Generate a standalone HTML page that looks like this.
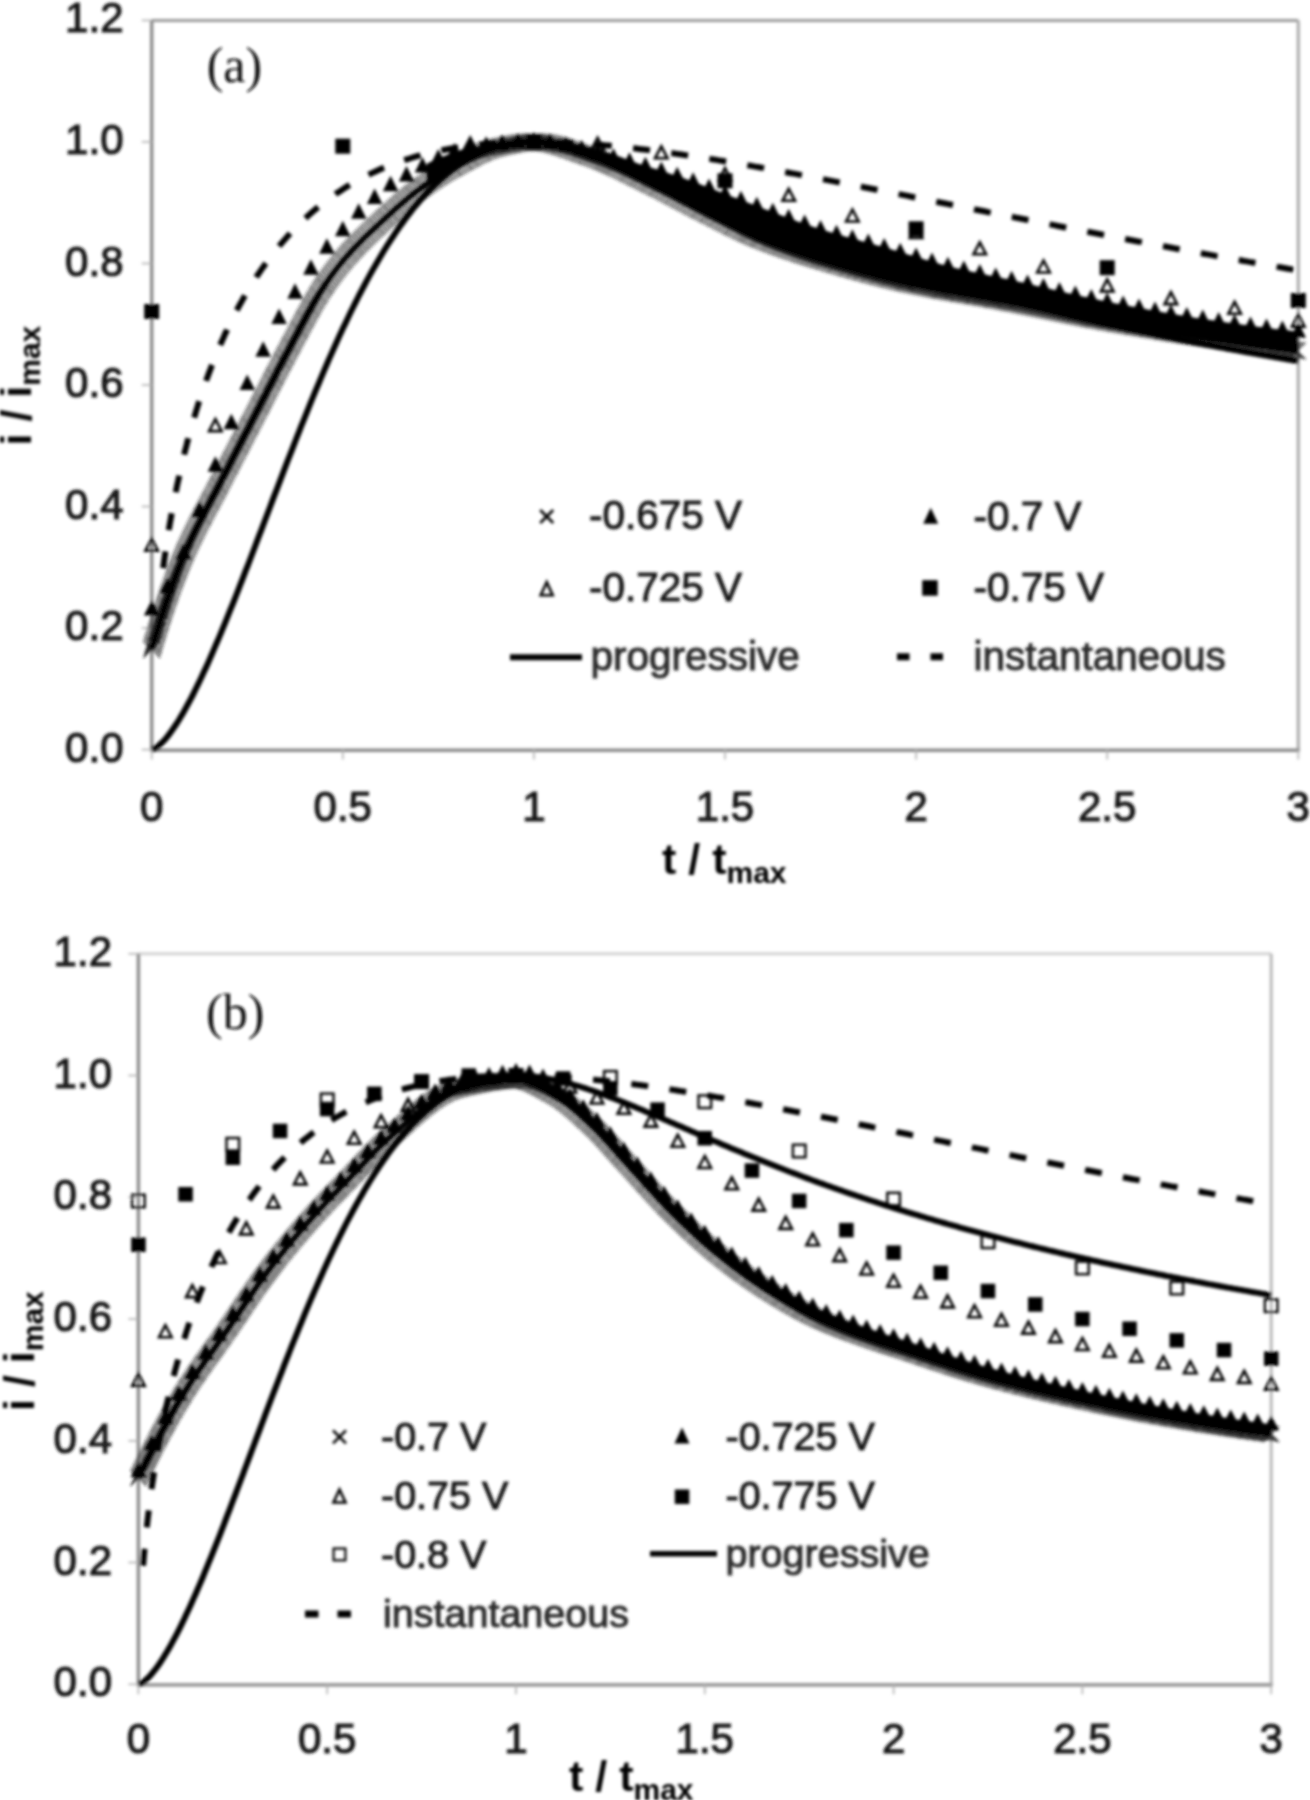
<!DOCTYPE html>
<html><head><meta charset="utf-8"><title>Chronoamperometric transients</title>
<style>
html,body{margin:0;padding:0;background:#fff;}
body{width:1310px;height:1800px;overflow:hidden;}
svg{display:block;}
.tk{font-family:"Liberation Sans",Arial,sans-serif;font-size:42px;fill:#1a1a1a;stroke:#1a1a1a;stroke-width:1.2px;}
.lg{font-family:"Liberation Sans",Arial,sans-serif;font-size:40.5px;fill:#1a1a1a;stroke:#1a1a1a;stroke-width:1.0px;}
.lg2{fill:#2a2a2a;stroke:#2a2a2a;}
.lgb{font-size:39.5px;}
.ax{font-family:"Liberation Sans",Arial,sans-serif;font-size:43px;font-weight:bold;fill:#000;}
.sub{font-size:30px;}
.pl{font-family:"Liberation Serif","Times New Roman",serif;font-size:50px;fill:#111;}
</style></head>
<body>
<svg width="1310" height="1800" viewBox="0 0 1310 1800">
<defs><filter id="bl" x="0" y="0" width="1310" height="1800" filterUnits="userSpaceOnUse"><feGaussianBlur stdDeviation="1.4"/></filter></defs>
<rect width="1310" height="1800" fill="#fff"/>
<g filter="url(#bl)">
<line x1="151.7" y1="20.4" x2="1298.3" y2="20.4" stroke="#9a9a9a" stroke-width="3"/>
<line x1="1298.3" y1="20.4" x2="1298.3" y2="749.6" stroke="#a8a8a8" stroke-width="3"/>
<line x1="151.7" y1="20.4" x2="151.7" y2="751.1" stroke="#8a8a8a" stroke-width="3.4"/>
<line x1="150.2" y1="750.2" x2="1299.8" y2="750.2" stroke="#8a8a8a" stroke-width="3.6"/>
<line x1="141.7" y1="749.6" x2="151.7" y2="749.6" stroke="#b0b0b0" stroke-width="1.6"/>
<text x="123.5" y="761.6" class="tk" text-anchor="end">0.0</text>
<line x1="141.7" y1="628.1" x2="151.7" y2="628.1" stroke="#b0b0b0" stroke-width="1.6"/>
<text x="123.5" y="640.1" class="tk" text-anchor="end">0.2</text>
<line x1="141.7" y1="506.5" x2="151.7" y2="506.5" stroke="#b0b0b0" stroke-width="1.6"/>
<text x="123.5" y="518.5" class="tk" text-anchor="end">0.4</text>
<line x1="141.7" y1="385.0" x2="151.7" y2="385.0" stroke="#b0b0b0" stroke-width="1.6"/>
<text x="123.5" y="397.0" class="tk" text-anchor="end">0.6</text>
<line x1="141.7" y1="263.5" x2="151.7" y2="263.5" stroke="#b0b0b0" stroke-width="1.6"/>
<text x="123.5" y="275.5" class="tk" text-anchor="end">0.8</text>
<line x1="141.7" y1="141.9" x2="151.7" y2="141.9" stroke="#b0b0b0" stroke-width="1.6"/>
<text x="123.5" y="153.9" class="tk" text-anchor="end">1.0</text>
<line x1="141.7" y1="20.4" x2="151.7" y2="20.4" stroke="#b0b0b0" stroke-width="1.6"/>
<text x="123.5" y="32.4" class="tk" text-anchor="end">1.2</text>
<line x1="151.7" y1="749.6" x2="151.7" y2="759.6" stroke="#b0b0b0" stroke-width="1.6"/>
<text x="151.7" y="820.6" class="tk" text-anchor="middle">0</text>
<line x1="342.8" y1="749.6" x2="342.8" y2="759.6" stroke="#b0b0b0" stroke-width="1.6"/>
<text x="342.8" y="820.6" class="tk" text-anchor="middle">0.5</text>
<line x1="533.9" y1="749.6" x2="533.9" y2="759.6" stroke="#b0b0b0" stroke-width="1.6"/>
<text x="533.9" y="820.6" class="tk" text-anchor="middle">1</text>
<line x1="725.0" y1="749.6" x2="725.0" y2="759.6" stroke="#b0b0b0" stroke-width="1.6"/>
<text x="725.0" y="820.6" class="tk" text-anchor="middle">1.5</text>
<line x1="916.1" y1="749.6" x2="916.1" y2="759.6" stroke="#b0b0b0" stroke-width="1.6"/>
<text x="916.1" y="820.6" class="tk" text-anchor="middle">2</text>
<line x1="1107.2" y1="749.6" x2="1107.2" y2="759.6" stroke="#b0b0b0" stroke-width="1.6"/>
<text x="1107.2" y="820.6" class="tk" text-anchor="middle">2.5</text>
<line x1="1298.3" y1="749.6" x2="1298.3" y2="759.6" stroke="#b0b0b0" stroke-width="1.6"/>
<text x="1298.3" y="820.6" class="tk" text-anchor="middle">3</text>
<path d="M143.2,640.8L160.2,657.8M143.2,657.8L160.2,640.8M143.9,638.4L160.9,655.4M143.9,655.4L160.9,638.4M144.6,636.0L161.6,653.0M144.6,653.0L161.6,636.0M145.3,633.6L162.3,650.6M145.3,650.6L162.3,633.6M146.0,631.2L163.0,648.2M146.0,648.2L163.0,631.2M146.7,628.8L163.7,645.8M146.7,645.8L163.7,628.8M147.4,626.4L164.4,643.4M147.4,643.4L164.4,626.4M148.1,624.0L165.1,641.0M148.1,641.0L165.1,624.0M148.9,621.7L165.9,638.7M148.9,638.7L165.9,621.7M149.6,619.3L166.6,636.3M149.6,636.3L166.6,619.3M150.3,616.9L167.3,633.9M150.3,633.9L167.3,616.9M151.1,614.5L168.1,631.5M151.1,631.5L168.1,614.5M151.8,612.1L168.8,629.1M151.8,629.1L168.8,612.1M152.6,609.7L169.6,626.7M152.6,626.7L169.6,609.7M153.3,607.3L170.3,624.3M153.3,624.3L170.3,607.3M154.1,605.0L171.1,622.0M154.1,622.0L171.1,605.0M154.9,602.6L171.9,619.6M154.9,619.6L171.9,602.6M155.6,600.2L172.6,617.2M155.6,617.2L172.6,600.2M156.4,597.8L173.4,614.8M156.4,614.8L173.4,597.8M157.2,595.5L174.2,612.5M157.2,612.5L174.2,595.5M158.0,593.1L175.0,610.1M158.0,610.1L175.0,593.1M158.8,590.7L175.8,607.7M158.8,607.7L175.8,590.7M159.6,588.4L176.6,605.4M159.6,605.4L176.6,588.4M160.5,586.0L177.5,603.0M160.5,603.0L177.5,586.0M161.3,583.6L178.3,600.6M161.3,600.6L178.3,583.6M162.1,581.3L179.1,598.3M162.1,598.3L179.1,581.3M163.0,578.9L180.0,595.9M163.0,595.9L180.0,578.9M163.8,576.6L180.8,593.6M163.8,593.6L180.8,576.6M164.7,574.2L181.7,591.2M164.7,591.2L181.7,574.2M165.5,571.9L182.5,588.9M165.5,588.9L182.5,571.9M166.4,569.5L183.4,586.5M166.4,586.5L183.4,569.5M167.3,567.2L184.3,584.2M167.3,584.2L184.3,567.2M168.2,564.9L185.2,581.9M168.2,581.9L185.2,564.9M169.1,562.5L186.1,579.5M169.1,579.5L186.1,562.5M170.0,560.2L187.0,577.2M170.0,577.2L187.0,560.2M170.9,557.9L187.9,574.9M170.9,574.9L187.9,557.9M171.8,555.5L188.8,572.5M171.8,572.5L188.8,555.5M172.8,553.2L189.8,570.2M172.8,570.2L189.8,553.2M173.7,550.9L190.7,567.9M173.7,567.9L190.7,550.9M174.7,548.6L191.7,565.6M174.7,565.6L191.7,548.6M175.6,546.3L192.6,563.3M175.6,563.3L192.6,546.3M176.6,544.0L193.6,561.0M176.6,561.0L193.6,544.0M177.6,541.7L194.6,558.7M177.6,558.7L194.6,541.7M178.6,539.4L195.6,556.4M178.6,556.4L195.6,539.4M179.7,537.2L196.7,554.2M179.7,554.2L196.7,537.2M180.7,534.9L197.7,551.9M180.7,551.9L197.7,534.9M181.8,532.6L198.8,549.6M181.8,549.6L198.8,532.6M182.8,530.3L199.8,547.3M182.8,547.3L199.8,530.3M183.9,528.1L200.9,545.1M183.9,545.1L200.9,528.1M185.0,525.8L202.0,542.8M185.0,542.8L202.0,525.8M186.1,523.6L203.1,540.6M186.1,540.6L203.1,523.6M187.2,521.3L204.2,538.3M187.2,538.3L204.2,521.3M188.3,519.1L205.3,536.1M188.3,536.1L205.3,519.1M189.4,516.9L206.4,533.9M189.4,533.9L206.4,516.9M190.5,514.6L207.5,531.6M190.5,531.6L207.5,514.6M191.7,512.4L208.7,529.4M191.7,529.4L208.7,512.4M192.8,510.2L209.8,527.2M192.8,527.2L209.8,510.2M194.0,508.0L211.0,525.0M194.0,525.0L211.0,508.0M195.1,505.8L212.1,522.8M195.1,522.8L212.1,505.8M196.3,503.6L213.3,520.6M196.3,520.6L213.3,503.6M197.5,501.3L214.5,518.3M197.5,518.3L214.5,501.3M198.6,499.1L215.6,516.1M198.6,516.1L215.6,499.1M199.8,496.9L216.8,513.9M199.8,513.9L216.8,496.9M201.0,494.7L218.0,511.7M201.0,511.7L218.0,494.7M202.2,492.5L219.2,509.5M202.2,509.5L219.2,492.5M203.3,490.3L220.3,507.3M203.3,507.3L220.3,490.3M204.5,488.1L221.5,505.1M204.5,505.1L221.5,488.1M205.7,485.9L222.7,502.9M205.7,502.9L222.7,485.9M206.8,483.7L223.8,500.7M206.8,500.7L223.8,483.7M208.0,481.5L225.0,498.5M208.0,498.5L225.0,481.5M209.2,479.2L226.2,496.2M209.2,496.2L226.2,479.2M210.3,477.0L227.3,494.0M210.3,494.0L227.3,477.0M211.4,474.8L228.4,491.8M211.4,491.8L228.4,474.8M212.6,472.6L229.6,489.6M212.6,489.6L229.6,472.6M213.7,470.3L230.7,487.3M213.7,487.3L230.7,470.3M214.9,468.1L231.9,485.1M214.9,485.1L231.9,468.1M216.0,465.9L233.0,482.9M216.0,482.9L233.0,465.9M217.1,463.7L234.1,480.7M217.1,480.7L234.1,463.7M218.3,461.4L235.3,478.4M218.3,478.4L235.3,461.4M219.4,459.2L236.4,476.2M219.4,476.2L236.4,459.2M220.6,457.0L237.6,474.0M220.6,474.0L237.6,457.0M221.7,454.8L238.7,471.8M221.7,471.8L238.7,454.8M222.8,452.5L239.8,469.5M222.8,469.5L239.8,452.5M224.0,450.3L241.0,467.3M224.0,467.3L241.0,450.3M225.1,448.1L242.1,465.1M225.1,465.1L242.1,448.1M226.3,445.9L243.3,462.9M226.3,462.9L243.3,445.9M227.4,443.7L244.4,460.7M227.4,460.7L244.4,443.7M228.6,441.4L245.6,458.4M228.6,458.4L245.6,441.4M229.7,439.2L246.7,456.2M229.7,456.2L246.7,439.2M230.9,437.0L247.9,454.0M230.9,454.0L247.9,437.0M232.0,434.8L249.0,451.8M232.0,451.8L249.0,434.8M233.2,432.5L250.2,449.5M233.2,449.5L250.2,432.5M234.3,430.3L251.3,447.3M234.3,447.3L251.3,430.3M235.5,428.1L252.5,445.1M235.5,445.1L252.5,428.1M236.6,425.9L253.6,442.9M236.6,442.9L253.6,425.9M237.7,423.7L254.7,440.7M237.7,440.7L254.7,423.7M238.9,421.4L255.9,438.4M238.9,438.4L255.9,421.4M240.0,419.2L257.0,436.2M240.0,436.2L257.0,419.2M241.2,417.0L258.2,434.0M241.2,434.0L258.2,417.0M242.3,414.8L259.3,431.8M242.3,431.8L259.3,414.8M243.5,412.6L260.5,429.6M243.5,429.6L260.5,412.6M244.6,410.3L261.6,427.3M244.6,427.3L261.6,410.3M245.8,408.1L262.8,425.1M245.8,425.1L262.8,408.1M246.9,405.9L263.9,422.9M246.9,422.9L263.9,405.9M248.0,403.7L265.0,420.7M248.0,420.7L265.0,403.7M249.2,401.4L266.2,418.4M249.2,418.4L266.2,401.4M250.3,399.2L267.3,416.2M250.3,416.2L267.3,399.2M251.5,397.0L268.5,414.0M251.5,414.0L268.5,397.0M252.6,394.8L269.6,411.8M252.6,411.8L269.6,394.8M253.7,392.5L270.7,409.5M253.7,409.5L270.7,392.5M254.9,390.3L271.9,407.3M254.9,407.3L271.9,390.3M256.0,388.1L273.0,405.1M256.0,405.1L273.0,388.1M257.1,385.8L274.1,402.8M257.1,402.8L274.1,385.8M258.3,383.6L275.3,400.6M258.3,400.6L275.3,383.6M259.4,381.4L276.4,398.4M259.4,398.4L276.4,381.4M260.5,379.2L277.5,396.2M260.5,396.2L277.5,379.2M261.7,376.9L278.7,393.9M261.7,393.9L278.7,376.9M262.8,374.7L279.8,391.7M262.8,391.7L279.8,374.7M263.9,372.5L280.9,389.5M263.9,389.5L280.9,372.5M265.1,370.2L282.1,387.2M265.1,387.2L282.1,370.2M266.2,368.0L283.2,385.0M266.2,385.0L283.2,368.0M267.3,365.8L284.3,382.8M267.3,382.8L284.3,365.8M268.5,363.6L285.5,380.6M268.5,380.6L285.5,363.6M269.6,361.3L286.6,378.3M269.6,378.3L286.6,361.3M270.8,359.1L287.8,376.1M270.8,376.1L287.8,359.1M271.9,356.9L288.9,373.9M271.9,373.9L288.9,356.9M273.1,354.7L290.1,371.7M273.1,371.7L290.1,354.7M274.2,352.5L291.2,369.5M274.2,369.5L291.2,352.5M275.4,350.3L292.4,367.3M275.4,367.3L292.4,350.3M276.6,348.0L293.6,365.0M276.6,365.0L293.6,348.0M277.7,345.8L294.7,362.8M277.7,362.8L294.7,345.8M278.9,343.6L295.9,360.6M278.9,360.6L295.9,343.6M280.1,341.4L297.1,358.4M280.1,358.4L297.1,341.4M281.2,339.2L298.2,356.2M281.2,356.2L298.2,339.2M282.4,337.0L299.4,354.0M282.4,354.0L299.4,337.0M283.6,334.8L300.6,351.8M283.6,351.8L300.6,334.8M284.7,332.6L301.7,349.6M284.7,349.6L301.7,332.6M285.9,330.4L302.9,347.4M285.9,347.4L302.9,330.4M287.1,328.2L304.1,345.2M287.1,345.2L304.1,328.2M288.2,325.9L305.2,342.9M288.2,342.9L305.2,325.9M289.4,323.7L306.4,340.7M289.4,340.7L306.4,323.7M290.6,321.5L307.6,338.5M290.6,338.5L307.6,321.5M291.7,319.3L308.7,336.3M291.7,336.3L308.7,319.3M292.9,317.1L309.9,334.1M292.9,334.1L309.9,317.1M294.1,314.9L311.1,331.9M294.1,331.9L311.1,314.9M295.2,312.7L312.2,329.7M295.2,329.7L312.2,312.7M296.4,310.5L313.4,327.5M296.4,327.5L313.4,310.5M297.6,308.3L314.6,325.3M297.6,325.3L314.6,308.3M298.8,306.1L315.8,323.1M298.8,323.1L315.8,306.1M300.0,303.9L317.0,320.9M300.0,320.9L317.0,303.9M301.2,301.7L318.2,318.7M301.2,318.7L318.2,301.7M302.4,299.5L319.4,316.5M302.4,316.5L319.4,299.5M303.6,297.3L320.6,314.3M303.6,314.3L320.6,297.3M304.8,295.1L321.8,312.1M304.8,312.1L321.8,295.1M306.0,292.9L323.0,309.9M306.0,309.9L323.0,292.9M307.3,290.8L324.3,307.8M307.3,307.8L324.3,290.8M308.6,288.6L325.6,305.6M308.6,305.6L325.6,288.6M309.9,286.5L326.9,303.5M309.9,303.5L326.9,286.5M311.2,284.3L328.2,301.3M311.2,301.3L328.2,284.3M312.5,282.2L329.5,299.2M312.5,299.2L329.5,282.2M313.8,280.1L330.8,297.1M313.8,297.1L330.8,280.1M315.2,278.0L332.2,295.0M315.2,295.0L332.2,278.0M316.6,276.0L333.6,293.0M316.6,293.0L333.6,276.0M318.0,273.9L335.0,290.9M318.0,290.9L335.0,273.9M319.4,271.8L336.4,288.8M319.4,288.8L336.4,271.8M320.9,269.8L337.9,286.8M320.9,286.8L337.9,269.8M322.3,267.8L339.3,284.8M322.3,284.8L339.3,267.8M323.8,265.8L340.8,282.8M323.8,282.8L340.8,265.8M325.3,263.8L342.3,280.8M325.3,280.8L342.3,263.8M326.8,261.8L343.8,278.8M326.8,278.8L343.8,261.8M328.4,259.8L345.4,276.8M328.4,276.8L345.4,259.8M329.9,257.8L346.9,274.8M329.9,274.8L346.9,257.8M331.5,255.9L348.5,272.9M331.5,272.9L348.5,255.9M333.1,253.9L350.1,270.9M333.1,270.9L350.1,253.9M334.7,252.0L351.7,269.0M334.7,269.0L351.7,252.0M336.3,250.1L353.3,267.1M336.3,267.1L353.3,250.1M337.9,248.2L354.9,265.2M337.9,265.2L354.9,248.2M339.6,246.4L356.6,263.4M339.6,263.4L356.6,246.4M341.3,244.5L358.3,261.5M341.3,261.5L358.3,244.5M342.9,242.7L359.9,259.7M342.9,259.7L359.9,242.7M344.6,240.8L361.6,257.8M344.6,257.8L361.6,240.8M346.4,239.0L363.4,256.0M346.4,256.0L363.4,239.0M348.1,237.2L365.1,254.2M348.1,254.2L365.1,237.2M349.8,235.4L366.8,252.4M349.8,252.4L366.8,235.4M351.6,233.6L368.6,250.6M351.6,250.6L368.6,233.6M353.4,231.9L370.4,248.9M353.4,248.9L370.4,231.9M355.1,230.1L372.1,247.1M355.1,247.1L372.1,230.1M356.9,228.4L373.9,245.4M356.9,245.4L373.9,228.4M358.7,226.6L375.7,243.6M358.7,243.6L375.7,226.6M360.5,224.9L377.5,241.9M360.5,241.9L377.5,224.9M362.3,223.2L379.3,240.2M362.3,240.2L379.3,223.2M364.1,221.4L381.1,238.4M364.1,238.4L381.1,221.4M366.0,219.7L383.0,236.7M366.0,236.7L383.0,219.7M367.8,218.0L384.8,235.0M367.8,235.0L384.8,218.0M369.6,216.3L386.6,233.3M369.6,233.3L386.6,216.3M371.5,214.6L388.5,231.6M371.5,231.6L388.5,214.6M373.3,212.9L390.3,229.9M373.3,229.9L390.3,212.9M375.1,211.2L392.1,228.2M375.1,228.2L392.1,211.2M377.0,209.5L394.0,226.5M377.0,226.5L394.0,209.5M378.8,207.8L395.8,224.8M378.8,224.8L395.8,207.8M380.6,206.2L397.6,223.2M380.6,223.2L397.6,206.2M382.5,204.5L399.5,221.5M382.5,221.5L399.5,204.5M384.3,202.8L401.3,219.8M384.3,219.8L401.3,202.8M386.2,201.1L403.2,218.1M386.2,218.1L403.2,201.1M388.1,199.4L405.1,216.4M388.1,216.4L405.1,199.4M389.9,197.8L406.9,214.8M389.9,214.8L406.9,197.8M391.8,196.1L408.8,213.1M391.8,213.1L408.8,196.1M393.7,194.5L410.7,211.5M393.7,211.5L410.7,194.5M395.6,192.9L412.6,209.9M395.6,209.9L412.6,192.9M397.5,191.3L414.5,208.3M397.5,208.3L414.5,191.3M399.4,189.7L416.4,206.7M399.4,206.7L416.4,189.7M401.4,188.1L418.4,205.1M401.4,205.1L418.4,188.1M403.3,186.5L420.3,203.5M403.3,203.5L420.3,186.5M405.3,185.0L422.3,202.0M405.3,202.0L422.3,185.0M407.3,183.4L424.3,200.4M407.3,200.4L424.3,183.4M409.3,181.9L426.3,198.9M409.3,198.9L426.3,181.9M411.3,180.4L428.3,197.4M411.3,197.4L428.3,180.4M413.3,179.0L430.3,196.0M413.3,196.0L430.3,179.0M415.3,177.5L432.3,194.5M415.3,194.5L432.3,177.5M417.4,176.1L434.4,193.1M417.4,193.1L434.4,176.1M419.4,174.7L436.4,191.7M419.4,191.7L436.4,174.7M421.5,173.3L438.5,190.3M421.5,190.3L438.5,173.3M423.6,171.9L440.6,188.9M423.6,188.9L440.6,171.9M425.7,170.5L442.7,187.5M425.7,187.5L442.7,170.5M427.8,169.2L444.8,186.2M427.8,186.2L444.8,169.2M429.9,167.8L446.9,184.8M429.9,184.8L446.9,167.8M432.0,166.5L449.0,183.5M432.0,183.5L449.0,166.5M434.2,165.2L451.2,182.2M434.2,182.2L451.2,165.2M436.3,163.9L453.3,180.9M436.3,180.9L453.3,163.9M438.5,162.7L455.5,179.7M438.5,179.7L455.5,162.7M440.6,161.4L457.6,178.4M440.6,178.4L457.6,161.4M442.8,160.2L459.8,177.2M442.8,177.2L459.8,160.2M445.0,159.0L462.0,176.0M445.0,176.0L462.0,159.0M447.2,157.8L464.2,174.8M447.2,174.8L464.2,157.8M449.4,156.6L466.4,173.6M449.4,173.6L466.4,156.6M451.6,155.4L468.6,172.4M451.6,172.4L468.6,155.4M453.8,154.2L470.8,171.2M453.8,171.2L470.8,154.2M456.0,153.0L473.0,170.0M456.0,170.0L473.0,153.0M458.2,151.8L475.2,168.8M458.2,168.8L475.2,151.8M460.4,150.6L477.4,167.6M460.4,167.6L477.4,150.6M462.6,149.5L479.6,166.5M462.6,166.5L479.6,149.5M464.8,148.3L481.8,165.3M464.8,165.3L481.8,148.3M467.0,147.2L484.0,164.2M467.0,164.2L484.0,147.2M469.3,146.1L486.3,163.1M469.3,163.1L486.3,146.1M471.6,145.1L488.6,162.1M471.6,162.1L488.6,145.1M473.8,144.0L490.8,161.0M473.8,161.0L490.8,144.0M476.1,143.1L493.1,160.1M476.1,160.1L493.1,143.1M478.5,142.2L495.5,159.2M478.5,159.2L495.5,142.2M480.8,141.3L497.8,158.3M480.8,158.3L497.8,141.3M483.2,140.6L500.2,157.6M483.2,157.6L500.2,140.6M485.6,139.9L502.6,156.9M485.6,156.9L502.6,139.9M488.1,139.3L505.1,156.3M488.1,156.3L505.1,139.3M490.5,138.7L507.5,155.7M490.5,155.7L507.5,138.7M492.9,138.2L509.9,155.2M492.9,155.2L509.9,138.2M495.4,137.6L512.4,154.6M495.4,154.6L512.4,137.6M497.8,137.1L514.8,154.1M497.8,154.1L514.8,137.1M500.2,136.5L517.2,153.5M500.2,153.5L517.2,136.5M502.7,136.0L519.7,153.0M502.7,153.0L519.7,136.0M505.1,135.6L522.1,152.6M505.1,152.6L522.1,135.6M507.6,135.1L524.6,152.1M507.6,152.1L524.6,135.1M510.1,134.7L527.1,151.7M510.1,151.7L527.1,134.7M512.5,134.4L529.5,151.4M512.5,151.4L529.5,134.4M515.0,134.1L532.0,151.1M515.0,151.1L532.0,134.1M517.5,133.8L534.5,150.8M517.5,150.8L534.5,133.8M520.0,133.6L537.0,150.6M520.0,150.6L537.0,133.6M522.5,133.5L539.5,150.5M522.5,150.5L539.5,133.5M525.0,133.4L542.0,150.4M525.0,150.4L542.0,133.4M527.5,133.5L544.5,150.5M527.5,150.5L544.5,133.5M530.0,133.6L547.0,150.6M530.0,150.6L547.0,133.6M532.5,133.8L549.5,150.8M532.5,150.8L549.5,133.8M535.0,134.1L552.0,151.1M535.0,151.1L552.0,134.1M537.4,134.5L554.4,151.5M537.4,151.5L554.4,134.5M539.9,134.9L556.9,151.9M539.9,151.9L556.9,134.9M542.3,135.4L559.3,152.4M542.3,152.4L559.3,135.4M544.8,136.0L561.8,153.0M544.8,153.0L561.8,136.0M547.2,136.6L564.2,153.6M547.2,153.6L564.2,136.6M549.6,137.3L566.6,154.3M549.6,154.3L566.6,137.3M552.0,138.0L569.0,155.0M552.0,155.0L569.0,138.0M554.4,138.7L571.4,155.7M554.4,155.7L571.4,138.7M556.8,139.5L573.8,156.5M556.8,156.5L573.8,139.5M559.2,140.3L576.2,157.3M559.2,157.3L576.2,140.3M561.5,141.1L578.5,158.1M561.5,158.1L578.5,141.1M563.9,141.9L580.9,158.9M563.9,158.9L580.9,141.9M566.2,142.8L583.2,159.8M566.2,159.8L583.2,142.8M568.6,143.6L585.6,160.6M568.6,160.6L585.6,143.6M570.9,144.5L587.9,161.5M570.9,161.5L587.9,144.5M573.3,145.3L590.3,162.3M573.3,162.3L590.3,145.3M575.6,146.2L592.6,163.2M575.6,163.2L592.6,146.2M578.0,147.0L595.0,164.0M578.0,164.0L595.0,147.0M580.4,147.8L597.4,164.8M580.4,164.8L597.4,147.8M582.7,148.6L599.7,165.6M582.7,165.6L599.7,148.6M585.1,149.4L602.1,166.4M585.1,166.4L602.1,149.4M587.4,150.3L604.4,167.3M587.4,167.3L604.4,150.3M589.8,151.2L606.8,168.2M589.8,168.2L606.8,151.2M592.1,152.1L609.1,169.1M592.1,169.1L609.1,152.1M594.4,153.0L611.4,170.0M594.4,170.0L611.4,153.0M596.7,154.0L613.7,171.0M596.7,171.0L613.7,154.0M599.0,155.0L616.0,172.0M599.0,172.0L616.0,155.0M601.3,156.0L618.3,173.0M601.3,173.0L618.3,156.0M603.6,157.0L620.6,174.0M603.6,174.0L620.6,157.0M605.9,158.0L622.9,175.0M605.9,175.0L622.9,158.0M608.1,159.1L625.1,176.1M608.1,176.1L625.1,159.1M610.4,160.1L627.4,177.1M610.4,177.1L627.4,160.1M612.7,161.2L629.7,178.2M612.7,178.2L629.7,161.2M614.9,162.3L631.9,179.3M614.9,179.3L631.9,162.3M617.2,163.4L634.2,180.4M617.2,180.4L634.2,163.4M619.4,164.5L636.4,181.5M619.4,181.5L636.4,164.5M621.6,165.6L638.6,182.6M621.6,182.6L638.6,165.6M623.9,166.7L640.9,183.7M623.9,183.7L640.9,166.7M626.1,167.9L643.1,184.9M626.1,184.9L643.1,167.9M628.4,169.0L645.4,186.0M628.4,186.0L645.4,169.0M630.6,170.1L647.6,187.1M630.6,187.1L647.6,170.1M632.8,171.2L649.8,188.2M632.8,188.2L649.8,171.2M635.1,172.3L652.1,189.3M635.1,189.3L652.1,172.3M637.3,173.4L654.3,190.4M637.3,190.4L654.3,173.4M639.6,174.5L656.6,191.5M639.6,191.5L656.6,174.5M641.8,175.6L658.8,192.6M641.8,192.6L658.8,175.6M644.0,176.7L661.0,193.7M644.0,193.7L661.0,176.7M646.3,177.8L663.3,194.8M646.3,194.8L663.3,177.8M648.5,179.0L665.5,196.0M648.5,196.0L665.5,179.0M650.7,180.1L667.7,197.1M650.7,197.1L667.7,180.1M653.0,181.2L670.0,198.2M653.0,198.2L670.0,181.2M655.2,182.4L672.2,199.4M655.2,199.4L672.2,182.4M657.4,183.6L674.4,200.6M657.4,200.6L674.4,183.6M659.6,184.7L676.6,201.7M659.6,201.7L676.6,184.7M661.8,185.9L678.8,202.9M661.8,202.9L678.8,185.9M664.0,187.1L681.0,204.1M664.0,204.1L681.0,187.1M666.2,188.2L683.2,205.2M666.2,205.2L683.2,188.2M668.4,189.4L685.4,206.4M668.4,206.4L685.4,189.4M670.7,190.6L687.7,207.6M670.7,207.6L687.7,190.6M672.9,191.7L689.9,208.7M672.9,208.7L689.9,191.7M675.1,192.9L692.1,209.9M675.1,209.9L692.1,192.9M677.3,194.1L694.3,211.1M677.3,211.1L694.3,194.1M679.5,195.2L696.5,212.2M679.5,212.2L696.5,195.2M681.7,196.4L698.7,213.4M681.7,213.4L698.7,196.4M683.9,197.6L700.9,214.6M683.9,214.6L700.9,197.6M686.2,198.7L703.2,215.7M686.2,215.7L703.2,198.7M688.4,199.8L705.4,216.8M688.4,216.8L705.4,199.8M690.6,201.0L707.6,218.0M690.6,218.0L707.6,201.0M692.8,202.1L709.8,219.1M692.8,219.1L709.8,202.1M695.1,203.2L712.1,220.2M695.1,220.2L712.1,203.2M697.3,204.3L714.3,221.3M697.3,221.3L714.3,204.3M699.5,205.5L716.5,222.5M699.5,222.5L716.5,205.5M701.8,206.6L718.8,223.6M701.8,223.6L718.8,206.6M704.0,207.7L721.0,224.7M704.0,224.7L721.0,207.7M706.2,208.9L723.2,225.9M706.2,225.9L723.2,208.9M708.4,210.0L725.4,227.0M708.4,227.0L725.4,210.0M710.7,211.2L727.7,228.2M710.7,228.2L727.7,211.2M712.9,212.3L729.9,229.3M712.9,229.3L729.9,212.3M715.1,213.4L732.1,230.4M715.1,230.4L732.1,213.4M717.3,214.6L734.3,231.6M717.3,231.6L734.3,214.6M719.6,215.7L736.6,232.7M719.6,232.7L736.6,215.7M721.8,216.8L738.8,233.8M721.8,233.8L738.8,216.8M724.0,218.0L741.0,235.0M724.0,235.0L741.0,218.0M726.3,219.1L743.3,236.1M726.3,236.1L743.3,219.1M728.5,220.2L745.5,237.2M728.5,237.2L745.5,220.2M730.8,221.3L747.8,238.3M730.8,238.3L747.8,221.3M733.0,222.3L750.0,239.3M733.0,239.3L750.0,222.3M735.3,223.4L752.3,240.4M735.3,240.4L752.3,223.4M737.5,224.5L754.5,241.5M737.5,241.5L754.5,224.5M739.8,225.5L756.8,242.5M739.8,242.5L756.8,225.5M742.1,226.5L759.1,243.5M742.1,243.5L759.1,226.5M744.4,227.6L761.4,244.6M744.4,244.6L761.4,227.6M746.7,228.6L763.7,245.6M746.7,245.6L763.7,228.6M749.0,229.5L766.0,246.5M749.0,246.5L766.0,229.5M751.3,230.5L768.3,247.5M751.3,247.5L768.3,230.5M753.6,231.4L770.6,248.4M753.6,248.4L770.6,231.4M755.9,232.3L772.9,249.3M755.9,249.3L772.9,232.3M758.3,233.3L775.3,250.3M758.3,250.3L775.3,233.3M760.6,234.1L777.6,251.1M760.6,251.1L777.6,234.1M762.9,235.0L779.9,252.0M762.9,252.0L779.9,235.0M765.3,235.9L782.3,252.9M765.3,252.9L782.3,235.9M767.6,236.8L784.6,253.8M767.6,253.8L784.6,236.8M770.0,237.6L787.0,254.6M770.0,254.6L787.0,237.6M772.3,238.5L789.3,255.5M772.3,255.5L789.3,238.5M774.7,239.3L791.7,256.3M774.7,256.3L791.7,239.3M777.0,240.2L794.0,257.2M777.0,257.2L794.0,240.2M779.4,241.0L796.4,258.0M779.4,258.0L796.4,241.0M781.8,241.8L798.8,258.8M781.8,258.8L798.8,241.8M784.1,242.6L801.1,259.6M784.1,259.6L801.1,242.6M786.5,243.4L803.5,260.4M786.5,260.4L803.5,243.4M788.9,244.2L805.9,261.2M788.9,261.2L805.9,244.2M791.2,245.0L808.2,262.0M791.2,262.0L808.2,245.0M793.6,245.8L810.6,262.8M793.6,262.8L810.6,245.8M796.0,246.5L813.0,263.5M796.0,263.5L813.0,246.5M798.4,247.3L815.4,264.3M798.4,264.3L815.4,247.3M800.7,248.0L817.7,265.0M800.7,265.0L817.7,248.0M803.1,248.8L820.1,265.8M803.1,265.8L820.1,248.8M805.5,249.5L822.5,266.5M805.5,266.5L822.5,249.5M807.9,250.3L824.9,267.3M807.9,267.3L824.9,250.3M810.3,251.0L827.3,268.0M810.3,268.0L827.3,251.0M812.7,251.7L829.7,268.7M812.7,268.7L829.7,251.7M815.1,252.5L832.1,269.5M815.1,269.5L832.1,252.5M817.5,253.2L834.5,270.2M817.5,270.2L834.5,253.2M819.9,253.9L836.9,270.9M819.9,270.9L836.9,253.9M822.3,254.6L839.3,271.6M822.3,271.6L839.3,254.6M824.7,255.3L841.7,272.3M824.7,272.3L841.7,255.3M827.1,256.0L844.1,273.0M827.1,273.0L844.1,256.0M829.5,256.7L846.5,273.7M829.5,273.7L846.5,256.7M831.9,257.4L848.9,274.4M831.9,274.4L848.9,257.4M834.3,258.1L851.3,275.1M834.3,275.1L851.3,258.1M836.7,258.8L853.7,275.8M836.7,275.8L853.7,258.8M839.1,259.5L856.1,276.5M839.1,276.5L856.1,259.5M841.5,260.2L858.5,277.2M841.5,277.2L858.5,260.2M843.9,260.8L860.9,277.8M843.9,277.8L860.9,260.8M846.3,261.5L863.3,278.5M846.3,278.5L863.3,261.5M848.7,262.2L865.7,279.2M848.7,279.2L865.7,262.2M851.1,262.8L868.1,279.8M851.1,279.8L868.1,262.8M853.5,263.5L870.5,280.5M853.5,280.5L870.5,263.5M855.9,264.2L872.9,281.2M855.9,281.2L872.9,264.2M858.4,264.8L875.4,281.8M858.4,281.8L875.4,264.8M860.8,265.5L877.8,282.5M860.8,282.5L877.8,265.5M863.2,266.1L880.2,283.1M863.2,283.1L880.2,266.1M865.6,266.8L882.6,283.8M865.6,283.8L882.6,266.8M868.0,267.4L885.0,284.4M868.0,284.4L885.0,267.4M870.4,268.0L887.4,285.0M870.4,285.0L887.4,268.0M872.9,268.6L889.9,285.6M872.9,285.6L889.9,268.6M875.3,269.3L892.3,286.3M875.3,286.3L892.3,269.3M877.7,269.9L894.7,286.9M877.7,286.9L894.7,269.9M880.1,270.5L897.1,287.5M880.1,287.5L897.1,270.5M882.6,271.1L899.6,288.1M882.6,288.1L899.6,271.1M885.0,271.7L902.0,288.7M885.0,288.7L902.0,271.7M887.4,272.3L904.4,289.3M887.4,289.3L904.4,272.3M889.8,272.8L906.8,289.8M889.8,289.8L906.8,272.8M892.3,273.4L909.3,290.4M892.3,290.4L909.3,273.4M894.7,274.0L911.7,291.0M894.7,291.0L911.7,274.0M897.2,274.5L914.2,291.5M897.2,291.5L914.2,274.5M899.6,275.1L916.6,292.1M899.6,292.1L916.6,275.1M902.0,275.6L919.0,292.6M902.0,292.6L919.0,275.6M904.5,276.2L921.5,293.2M904.5,293.2L921.5,276.2M906.9,276.7L923.9,293.7M906.9,293.7L923.9,276.7M909.4,277.2L926.4,294.2M909.4,294.2L926.4,277.2M911.8,277.7L928.8,294.7M911.8,294.7L928.8,277.7M914.3,278.2L931.3,295.2M914.3,295.2L931.3,278.2M916.7,278.7L933.7,295.7M916.7,295.7L933.7,278.7M919.2,279.2L936.2,296.2M919.2,296.2L936.2,279.2M921.6,279.7L938.6,296.7M921.6,296.7L938.6,279.7M924.1,280.1L941.1,297.1M924.1,297.1L941.1,280.1M926.5,280.6L943.5,297.6M926.5,297.6L943.5,280.6M929.0,281.1L946.0,298.1M929.0,298.1L946.0,281.1M931.4,281.5L948.4,298.5M931.4,298.5L948.4,281.5M933.9,282.0L950.9,299.0M933.9,299.0L950.9,282.0M936.4,282.4L953.4,299.4M936.4,299.4L953.4,282.4M938.8,282.8L955.8,299.8M938.8,299.8L955.8,282.8M941.3,283.3L958.3,300.3M941.3,300.3L958.3,283.3M943.8,283.7L960.8,300.7M943.8,300.7L960.8,283.7M946.2,284.1L963.2,301.1M946.2,301.1L963.2,284.1M948.7,284.6L965.7,301.6M948.7,301.6L965.7,284.6M951.1,285.0L968.1,302.0M951.1,302.0L968.1,285.0M953.6,285.4L970.6,302.4M953.6,302.4L970.6,285.4M956.1,285.8L973.1,302.8M956.1,302.8L973.1,285.8M958.5,286.2L975.5,303.2M958.5,303.2L975.5,286.2M961.0,286.7L978.0,303.7M961.0,303.7L978.0,286.7M963.5,287.1L980.5,304.1M963.5,304.1L980.5,287.1M965.9,287.5L982.9,304.5M965.9,304.5L982.9,287.5M968.4,287.9L985.4,304.9M968.4,304.9L985.4,287.9M970.9,288.4L987.9,305.4M970.9,305.4L987.9,288.4M973.3,288.8L990.3,305.8M973.3,305.8L990.3,288.8M975.8,289.2L992.8,306.2M975.8,306.2L992.8,289.2M978.2,289.6L995.2,306.6M978.2,306.6L995.2,289.6M980.7,290.1L997.7,307.1M980.7,307.1L997.7,290.1M983.2,290.5L1000.2,307.5M983.2,307.5L1000.2,290.5M985.6,291.0L1002.6,308.0M985.6,308.0L1002.6,291.0M988.1,291.4L1005.1,308.4M988.1,308.4L1005.1,291.4M990.5,291.9L1007.5,308.9M990.5,308.9L1007.5,291.9M993.0,292.4L1010.0,309.4M993.0,309.4L1010.0,292.4M995.5,292.8L1012.5,309.8M995.5,309.8L1012.5,292.8M997.9,293.3L1014.9,310.3M997.9,310.3L1014.9,293.3M1000.4,293.8L1017.4,310.8M1000.4,310.8L1017.4,293.8M1002.8,294.3L1019.8,311.3M1002.8,311.3L1019.8,294.3M1005.3,294.7L1022.3,311.7M1005.3,311.7L1022.3,294.7M1007.7,295.2L1024.7,312.2M1007.7,312.2L1024.7,295.2M1010.2,295.7L1027.2,312.7M1010.2,312.7L1027.2,295.7M1012.6,296.2L1029.6,313.2M1012.6,313.2L1029.6,296.2M1015.1,296.7L1032.1,313.7M1015.1,313.7L1032.1,296.7M1017.5,297.2L1034.5,314.2M1017.5,314.2L1034.5,297.2M1020.0,297.7L1037.0,314.7M1020.0,314.7L1037.0,297.7M1022.4,298.2L1039.4,315.2M1022.4,315.2L1039.4,298.2M1024.9,298.7L1041.9,315.7M1024.9,315.7L1041.9,298.7M1027.3,299.2L1044.3,316.2M1027.3,316.2L1044.3,299.2M1029.8,299.7L1046.8,316.7M1029.8,316.7L1046.8,299.7M1032.2,300.2L1049.2,317.2M1032.2,317.2L1049.2,300.2M1034.7,300.7L1051.7,317.7M1034.7,317.7L1051.7,300.7M1037.1,301.2L1054.1,318.2M1037.1,318.2L1054.1,301.2M1039.6,301.7L1056.6,318.7M1039.6,318.7L1056.6,301.7M1042.0,302.2L1059.0,319.2M1042.0,319.2L1059.0,302.2M1044.5,302.7L1061.5,319.7M1044.5,319.7L1061.5,302.7M1046.9,303.2L1063.9,320.2M1046.9,320.2L1063.9,303.2M1049.4,303.7L1066.4,320.7M1049.4,320.7L1066.4,303.7M1051.8,304.2L1068.8,321.2M1051.8,321.2L1068.8,304.2M1054.3,304.7L1071.3,321.7M1054.3,321.7L1071.3,304.7M1056.7,305.2L1073.7,322.2M1056.7,322.2L1073.7,305.2M1059.2,305.7L1076.2,322.7M1059.2,322.7L1076.2,305.7M1061.6,306.2L1078.6,323.2M1061.6,323.2L1078.6,306.2M1064.1,306.7L1081.1,323.7M1064.1,323.7L1081.1,306.7M1066.5,307.2L1083.5,324.2M1066.5,324.2L1083.5,307.2M1069.0,307.6L1086.0,324.6M1069.0,324.6L1086.0,307.6M1071.4,308.1L1088.4,325.1M1071.4,325.1L1088.4,308.1M1073.9,308.6L1090.9,325.6M1073.9,325.6L1090.9,308.6M1076.3,309.1L1093.3,326.1M1076.3,326.1L1093.3,309.1M1078.8,309.6L1095.8,326.6M1078.8,326.6L1095.8,309.6M1081.2,310.0L1098.2,327.0M1081.2,327.0L1098.2,310.0M1083.7,310.5L1100.7,327.5M1083.7,327.5L1100.7,310.5M1086.2,311.0L1103.2,328.0M1086.2,328.0L1103.2,311.0M1088.6,311.4L1105.6,328.4M1088.6,328.4L1105.6,311.4M1091.1,311.9L1108.1,328.9M1091.1,328.9L1108.1,311.9M1093.5,312.4L1110.5,329.4M1093.5,329.4L1110.5,312.4M1096.0,312.8L1113.0,329.8M1096.0,329.8L1113.0,312.8M1098.4,313.3L1115.4,330.3M1098.4,330.3L1115.4,313.3M1100.9,313.7L1117.9,330.7M1100.9,330.7L1117.9,313.7M1103.4,314.1L1120.4,331.1M1103.4,331.1L1120.4,314.1M1105.8,314.6L1122.8,331.6M1105.8,331.6L1122.8,314.6M1108.3,315.0L1125.3,332.0M1108.3,332.0L1125.3,315.0M1110.8,315.4L1127.8,332.4M1110.8,332.4L1127.8,315.4M1113.2,315.9L1130.2,332.9M1113.2,332.9L1130.2,315.9M1115.7,316.3L1132.7,333.3M1115.7,333.3L1132.7,316.3M1118.1,316.7L1135.1,333.7M1118.1,333.7L1135.1,316.7M1120.6,317.2L1137.6,334.2M1120.6,334.2L1137.6,317.2M1123.1,317.6L1140.1,334.6M1123.1,334.6L1140.1,317.6M1125.5,318.0L1142.5,335.0M1125.5,335.0L1142.5,318.0M1128.0,318.4L1145.0,335.4M1128.0,335.4L1145.0,318.4M1130.5,318.9L1147.5,335.9M1130.5,335.9L1147.5,318.9M1132.9,319.3L1149.9,336.3M1132.9,336.3L1149.9,319.3M1135.4,319.7L1152.4,336.7M1135.4,336.7L1152.4,319.7M1137.9,320.1L1154.9,337.1M1137.9,337.1L1154.9,320.1M1140.3,320.5L1157.3,337.5M1140.3,337.5L1157.3,320.5M1142.8,320.9L1159.8,337.9M1142.8,337.9L1159.8,320.9M1145.3,321.3L1162.3,338.3M1145.3,338.3L1162.3,321.3M1147.7,321.7L1164.7,338.7M1147.7,338.7L1164.7,321.7M1150.2,322.2L1167.2,339.2M1150.2,339.2L1167.2,322.2M1152.7,322.6L1169.7,339.6M1152.7,339.6L1169.7,322.6M1155.1,323.0L1172.1,340.0M1155.1,340.0L1172.1,323.0M1157.6,323.4L1174.6,340.4M1157.6,340.4L1174.6,323.4M1160.1,323.8L1177.1,340.8M1160.1,340.8L1177.1,323.8M1162.5,324.2L1179.5,341.2M1162.5,341.2L1179.5,324.2M1165.0,324.5L1182.0,341.5M1165.0,341.5L1182.0,324.5M1167.5,324.9L1184.5,341.9M1167.5,341.9L1184.5,324.9M1169.9,325.3L1186.9,342.3M1169.9,342.3L1186.9,325.3M1172.4,325.7L1189.4,342.7M1172.4,342.7L1189.4,325.7M1174.9,326.1L1191.9,343.1M1174.9,343.1L1191.9,326.1M1177.3,326.5L1194.3,343.5M1177.3,343.5L1194.3,326.5M1179.8,326.9L1196.8,343.9M1179.8,343.9L1196.8,326.9M1182.3,327.3L1199.3,344.3M1182.3,344.3L1199.3,327.3M1184.8,327.6L1201.8,344.6M1184.8,344.6L1201.8,327.6M1187.2,328.0L1204.2,345.0M1187.2,345.0L1204.2,328.0M1189.7,328.4L1206.7,345.4M1189.7,345.4L1206.7,328.4M1192.2,328.8L1209.2,345.8M1192.2,345.8L1209.2,328.8M1194.6,329.2L1211.6,346.2M1194.6,346.2L1211.6,329.2M1197.1,329.5L1214.1,346.5M1197.1,346.5L1214.1,329.5M1199.6,329.9L1216.6,346.9M1199.6,346.9L1216.6,329.9M1202.1,330.3L1219.1,347.3M1202.1,347.3L1219.1,330.3M1204.5,330.6L1221.5,347.6M1204.5,347.6L1221.5,330.6M1207.0,331.0L1224.0,348.0M1207.0,348.0L1224.0,331.0M1209.5,331.4L1226.5,348.4M1209.5,348.4L1226.5,331.4M1211.9,331.7L1228.9,348.7M1211.9,348.7L1228.9,331.7M1214.4,332.1L1231.4,349.1M1214.4,349.1L1231.4,332.1M1216.9,332.5L1233.9,349.5M1216.9,349.5L1233.9,332.5M1219.4,332.8L1236.4,349.8M1219.4,349.8L1236.4,332.8M1221.8,333.2L1238.8,350.2M1221.8,350.2L1238.8,333.2M1224.3,333.6L1241.3,350.6M1224.3,350.6L1241.3,333.6M1226.8,333.9L1243.8,350.9M1226.8,350.9L1243.8,333.9M1229.3,334.3L1246.3,351.3M1229.3,351.3L1246.3,334.3M1231.7,334.6L1248.7,351.6M1231.7,351.6L1248.7,334.6M1234.2,335.0L1251.2,352.0M1234.2,352.0L1251.2,335.0M1236.7,335.3L1253.7,352.3M1236.7,352.3L1253.7,335.3M1239.2,335.7L1256.2,352.7M1239.2,352.7L1256.2,335.7M1241.6,336.0L1258.6,353.0M1241.6,353.0L1258.6,336.0M1244.1,336.4L1261.1,353.4M1244.1,353.4L1261.1,336.4M1246.6,336.7L1263.6,353.7M1246.6,353.7L1263.6,336.7M1249.1,337.1L1266.1,354.1M1249.1,354.1L1266.1,337.1M1251.5,337.4L1268.5,354.4M1251.5,354.4L1268.5,337.4M1254.0,337.7L1271.0,354.7M1254.0,354.7L1271.0,337.7M1256.5,338.1L1273.5,355.1M1256.5,355.1L1273.5,338.1M1259.0,338.4L1276.0,355.4M1259.0,355.4L1276.0,338.4M1261.5,338.8L1278.5,355.8M1261.5,355.8L1278.5,338.8M1263.9,339.1L1280.9,356.1M1263.9,356.1L1280.9,339.1M1266.4,339.4L1283.4,356.4M1266.4,356.4L1283.4,339.4M1268.9,339.7L1285.9,356.7M1268.9,356.7L1285.9,339.7M1271.4,340.1L1288.4,357.1M1271.4,357.1L1288.4,340.1M1273.8,340.4L1290.8,357.4M1273.8,357.4L1290.8,340.4M1276.3,340.7L1293.3,357.7M1276.3,357.7L1293.3,340.7M1278.8,341.1L1295.8,358.1M1278.8,358.1L1295.8,341.1M1281.3,341.4L1298.3,358.4M1281.3,358.4L1298.3,341.4M1283.8,341.7L1300.8,358.7M1283.8,358.7L1300.8,341.7M1286.2,342.0L1303.2,359.0M1286.2,359.0L1303.2,342.0M1288.7,342.3L1305.7,359.3M1288.7,359.3L1305.7,342.3" stroke="#1e1e1e" stroke-width="1.2" fill="none"/>
<path d="M151.7,649.3 L155.5,636.2 L159.4,623.6 L163.2,611.5 L167.0,600.0 L170.9,589.1 L174.7,578.6 L178.5,568.5 L182.4,559.0 L186.2,550.0 L190.0,541.6 L193.9,533.5 L197.7,525.8 L201.6,518.3 L205.4,510.9 L209.2,503.7 L213.1,496.5 L216.9,489.2 L220.7,481.8 L224.6,474.3 L228.4,466.8 L232.2,459.3 L236.1,451.9 L239.9,444.5 L243.7,437.0 L247.6,429.6 L251.4,422.2 L255.2,414.7 L259.1,407.2 L262.9,399.7 L266.7,392.2 L270.6,384.6 L274.4,377.1 L278.2,369.6 L282.1,362.2 L285.9,354.9 L289.8,347.7 L293.6,340.4 L297.4,333.1 L301.3,325.8 L305.1,318.6 L308.9,311.5 L312.8,304.6 L316.6,297.9 L320.4,291.6 L324.3,285.7 L328.1,280.1 L331.9,274.8 L335.8,269.7 L339.6,264.8 L343.4,260.2 L347.3,255.8 L351.1,251.5 L354.9,247.4 L358.8,243.4 L362.6,239.6 L366.4,235.8 L370.3,232.2 L374.1,228.6 L378.0,225.0 L381.8,221.4 L385.6,217.9 L389.5,214.4 L393.3,210.9 L397.1,207.4 L401.0,204.1 L404.8,200.8 L408.6,197.6 L412.5,194.5 L416.3,191.5 L420.1,188.7 L424.0,185.9 L427.8,183.3 L431.6,180.7 L435.5,178.2 L439.3,175.8 L443.1,173.4 L447.0,171.2 L450.8,169.0 L454.6,166.9 L458.5,164.8 L462.3,162.7 L466.2,160.6 L470.0,158.5 L473.8,156.6 L477.7,154.7 L481.5,152.9 L485.3,151.3 L489.2,149.9 L493.0,148.7 L496.8,147.7 L500.7,146.8 L504.5,146.0 L508.3,145.1 L512.2,144.3 L516.0,143.6 L519.8,143.0 L523.7,142.5 L527.5,142.2 L531.3,142.0 L535.2,141.9 L539.0,142.1 L542.8,142.5 L546.7,143.1 L550.5,143.9 L554.4,144.8 L558.2,145.8 L562.0,147.0 L565.9,148.2 L569.7,149.5 L573.5,150.8 L577.4,152.2 L581.2,153.6 L585.0,155.0 L588.9,156.3 L592.7,157.6 L596.5,159.0 L600.4,160.5 L604.2,162.0 L608.0,163.7 L611.9,165.4 L615.7,167.1 L619.5,168.9 L623.4,170.8 L627.2,172.7 L631.0,174.6 L634.9,176.5 L638.7,178.4 L642.6,180.3 L646.4,182.2 L650.2,184.1 L654.1,186.0 L657.9,187.9 L661.7,189.9 L665.6,191.9 L669.4,193.9 L673.2,195.9 L677.1,198.0 L680.9,200.0 L684.7,202.0 L688.6,204.0 L692.4,206.0 L696.2,208.0 L700.1,210.0 L703.9,211.9 L707.7,213.8 L711.6,215.8 L715.4,217.7 L719.2,219.7 L723.1,221.7 L726.9,223.6 L730.8,225.6 L734.6,227.5 L738.4,229.3 L742.3,231.2 L746.1,233.0 L749.9,234.7 L753.8,236.4 L757.6,238.1 L761.4,239.7 L765.3,241.2 L769.1,242.7 L772.9,244.1 L776.8,245.5 L780.6,246.9 L784.4,248.3 L788.3,249.6 L792.1,250.9 L795.9,252.2 L799.8,253.5 L803.6,254.7 L807.4,256.0 L811.3,257.2 L815.1,258.4 L819.0,259.6 L822.8,260.7 L826.6,261.9 L830.5,263.0 L834.3,264.1 L838.1,265.3 L842.0,266.4 L845.8,267.5 L849.6,268.6 L853.5,269.6 L857.3,270.7 L861.1,271.8 L865.0,272.8 L868.8,273.9 L872.6,274.9 L876.5,275.9 L880.3,276.9 L884.1,277.9 L888.0,278.8 L891.8,279.8 L895.6,280.7 L899.5,281.6 L903.3,282.5 L907.2,283.4 L911.0,284.2 L914.8,285.1 L918.7,285.9 L922.5,286.7 L926.3,287.4 L930.2,288.2 L934.0,288.9 L937.8,289.6 L941.7,290.3 L945.5,291.0 L949.3,291.7 L953.2,292.4 L957.0,293.0 L960.8,293.7 L964.7,294.3 L968.5,295.0 L972.3,295.6 L976.2,296.3 L980.0,297.0 L983.8,297.6 L987.7,298.3 L991.5,299.0 L995.4,299.7 L999.2,300.4 L1003.0,301.1 L1006.9,301.9 L1010.7,302.6 L1014.5,303.4 L1018.4,304.1 L1022.2,304.9 L1026.0,305.7 L1029.9,306.5 L1033.7,307.2 L1037.5,308.0 L1041.4,308.8 L1045.2,309.6 L1049.0,310.4 L1052.9,311.2 L1056.7,311.9 L1060.5,312.7 L1064.4,313.5 L1068.2,314.3 L1072.0,315.1 L1075.9,315.8 L1079.7,316.6 L1083.6,317.3 L1087.4,318.1 L1091.2,318.8 L1095.1,319.6 L1098.9,320.3 L1102.7,321.0 L1106.6,321.7 L1110.4,322.4 L1114.2,323.1 L1118.1,323.7 L1121.9,324.4 L1125.7,325.1 L1129.6,325.7 L1133.4,326.4 L1137.2,327.1 L1141.1,327.7 L1144.9,328.4 L1148.7,329.0 L1152.6,329.6 L1156.4,330.3 L1160.2,330.9 L1164.1,331.5 L1167.9,332.2 L1171.8,332.8 L1175.6,333.4 L1179.4,334.0 L1183.3,334.6 L1187.1,335.2 L1190.9,335.8 L1194.8,336.4 L1198.6,337.0 L1202.4,337.6 L1206.3,338.1 L1210.1,338.7 L1213.9,339.3 L1217.8,339.9 L1221.6,340.4 L1225.4,341.0 L1229.3,341.5 L1233.1,342.1 L1236.9,342.7 L1240.8,343.2 L1244.6,343.7 L1248.4,344.3 L1252.3,344.8 L1256.1,345.4 L1260.0,345.9 L1263.8,346.4 L1267.6,346.9 L1271.5,347.5 L1275.3,348.0 L1279.1,348.5 L1283.0,349.0 L1286.8,349.5 L1290.6,350.0 L1294.5,350.5 L1298.3,351.0" fill="none" stroke="#000" stroke-width="5" stroke-linejoin="round"/>
<polygon points="426.9,163.8 429.8,162.3 432.7,160.8 435.6,159.5 438.5,158.3 441.5,157.1 444.4,155.9 447.3,154.8 450.2,153.6 453.1,152.6 456.0,151.6 458.9,150.6 461.9,149.8 464.8,149.1 467.7,148.4 470.6,147.9 473.5,147.5 476.4,147.0 479.3,146.6 482.3,146.2 485.2,145.8 488.1,145.4 491.0,145.0 493.9,144.6 496.8,144.3 499.7,144.0 502.7,143.7 505.6,143.4 508.5,143.1 511.4,142.9 514.3,142.6 517.2,142.5 520.1,142.3 523.1,142.2 526.0,142.1 528.9,142.0 531.8,141.9 534.7,141.9 537.6,142.0 540.5,142.1 543.5,142.3 546.4,142.5 549.3,142.8 552.2,143.2 555.1,143.6 558.0,144.0 560.9,144.5 563.9,145.1 566.8,145.7 569.7,146.3 572.6,146.9 575.5,147.6 578.4,148.3 581.3,149.0 584.3,149.7 587.2,150.5 590.1,151.2 593.0,152.0 595.9,152.8 598.8,153.6 601.8,154.4 604.7,155.1 607.6,155.9 610.5,156.7 613.4,157.4 616.3,158.2 619.2,158.9 622.2,159.6 625.1,160.3 628.0,161.1 630.9,161.9 633.8,162.6 636.7,163.5 639.6,164.3 642.6,165.1 645.5,166.0 648.4,166.9 651.3,167.7 654.2,168.6 657.1,169.5 660.0,170.5 663.0,171.4 665.9,172.3 668.8,173.3 671.7,174.2 674.6,175.2 677.5,176.2 680.4,177.1 683.4,178.1 686.3,179.2 689.2,180.2 692.1,181.3 695.0,182.3 697.9,183.4 700.8,184.5 703.8,185.7 706.7,186.8 709.6,187.9 712.5,189.1 715.4,190.2 718.3,191.3 721.2,192.5 724.2,193.6 727.1,194.8 730.0,195.9 732.9,197.0 735.8,198.1 738.7,199.2 741.6,200.3 744.6,201.4 747.5,202.5 750.4,203.6 753.3,204.7 756.2,205.8 759.1,206.9 762.0,208.0 765.0,209.2 767.9,210.3 770.8,211.4 773.7,212.5 776.6,213.6 779.5,214.7 782.4,215.8 785.4,216.9 788.3,218.0 791.2,219.0 794.1,220.1 797.0,221.2 799.9,222.2 802.8,223.2 805.8,224.2 808.7,225.3 811.6,226.2 814.5,227.2 817.4,228.2 820.3,229.1 823.2,230.0 826.2,231.0 829.1,231.8 832.0,232.7 834.9,233.6 837.8,234.4 840.7,235.3 843.6,236.1 846.6,236.9 849.5,237.7 852.4,238.5 855.3,239.3 858.2,240.1 861.1,240.9 864.0,241.7 867.0,242.5 869.9,243.3 872.8,244.1 875.7,244.9 878.6,245.7 881.5,246.5 884.5,247.4 887.4,248.2 890.3,249.1 893.2,249.9 896.1,250.8 899.0,251.7 901.9,252.6 904.9,253.5 907.8,254.4 910.7,255.3 913.6,256.1 916.5,257.0 919.4,257.9 922.3,258.8 925.3,259.7 928.2,260.6 931.1,261.4 934.0,262.2 936.9,263.1 939.8,263.9 942.7,264.7 945.7,265.5 948.6,266.2 951.5,266.9 954.4,267.7 957.3,268.4 960.2,269.0 963.1,269.7 966.1,270.4 969.0,271.0 971.9,271.7 974.8,272.3 977.7,272.9 980.6,273.5 983.5,274.2 986.5,274.8 989.4,275.4 992.3,276.0 995.2,276.6 998.1,277.2 1001.0,277.8 1003.9,278.5 1006.9,279.1 1009.8,279.7 1012.7,280.4 1015.6,281.0 1018.5,281.7 1021.4,282.3 1024.3,283.0 1027.3,283.7 1030.2,284.3 1033.1,285.0 1036.0,285.7 1038.9,286.4 1041.8,287.1 1044.7,287.7 1047.7,288.4 1050.6,289.1 1053.5,289.8 1056.4,290.5 1059.3,291.1 1062.2,291.8 1065.1,292.5 1068.1,293.2 1071.0,293.8 1073.9,294.5 1076.8,295.2 1079.7,295.8 1082.6,296.5 1085.5,297.1 1088.5,297.7 1091.4,298.4 1094.3,299.0 1097.2,299.6 1100.1,300.2 1103.0,300.8 1105.9,301.4 1108.9,302.0 1111.8,302.6 1114.7,303.2 1117.6,303.7 1120.5,304.3 1123.4,304.9 1126.3,305.4 1129.3,306.0 1132.2,306.6 1135.1,307.1 1138.0,307.7 1140.9,308.2 1143.8,308.8 1146.7,309.3 1149.7,309.9 1152.6,310.4 1155.5,310.9 1158.4,311.5 1161.3,312.0 1164.2,312.5 1167.2,313.0 1170.1,313.5 1173.0,314.0 1175.9,314.5 1178.8,315.0 1181.7,315.5 1184.6,316.0 1187.6,316.5 1190.5,317.0 1193.4,317.4 1196.3,317.9 1199.2,318.4 1202.1,318.8 1205.0,319.3 1208.0,319.7 1210.9,320.1 1213.8,320.6 1216.7,321.0 1219.6,321.4 1222.5,321.9 1225.4,322.3 1228.4,322.7 1231.3,323.1 1234.2,323.5 1237.1,323.9 1240.0,324.3 1242.9,324.7 1245.8,325.1 1248.8,325.5 1251.7,325.9 1254.6,326.3 1257.5,326.7 1260.4,327.0 1263.3,327.4 1266.2,327.8 1269.2,328.1 1272.1,328.5 1275.0,328.9 1277.9,329.2 1280.8,329.5 1283.7,329.9 1286.6,330.2 1289.6,330.6 1292.5,330.9 1295.4,331.2 1298.3,331.5 1298.3,351.0 1295.4,350.6 1292.5,350.2 1289.6,349.8 1286.6,349.5 1283.7,349.1 1280.8,348.7 1277.9,348.3 1275.0,347.9 1272.1,347.5 1269.2,347.1 1266.2,346.7 1263.3,346.4 1260.4,346.0 1257.5,345.5 1254.6,345.1 1251.7,344.7 1248.8,344.3 1245.8,343.9 1242.9,343.5 1240.0,343.1 1237.1,342.7 1234.2,342.3 1231.3,341.8 1228.4,341.4 1225.4,341.0 1222.5,340.6 1219.6,340.1 1216.7,339.7 1213.8,339.3 1210.9,338.8 1208.0,338.4 1205.0,337.9 1202.1,337.5 1199.2,337.1 1196.3,336.6 1193.4,336.2 1190.5,335.7 1187.6,335.3 1184.6,334.8 1181.7,334.4 1178.8,333.9 1175.9,333.4 1173.0,333.0 1170.1,332.5 1167.2,332.0 1164.2,331.6 1161.3,331.1 1158.4,330.6 1155.5,330.1 1152.6,329.6 1149.7,329.2 1146.7,328.7 1143.8,328.2 1140.9,327.7 1138.0,327.2 1135.1,326.7 1132.2,326.2 1129.3,325.7 1126.3,325.2 1123.4,324.7 1120.5,324.2 1117.6,323.7 1114.7,323.1 1111.8,322.6 1108.9,322.1 1105.9,321.6 1103.0,321.0 1100.1,320.5 1097.2,320.0 1094.3,319.4 1091.4,318.9 1088.5,318.3 1085.5,317.7 1082.6,317.2 1079.7,316.6 1076.8,316.0 1073.9,315.4 1071.0,314.8 1068.1,314.3 1065.1,313.7 1062.2,313.1 1059.3,312.5 1056.4,311.9 1053.5,311.3 1050.6,310.7 1047.7,310.1 1044.7,309.5 1041.8,308.9 1038.9,308.3 1036.0,307.7 1033.1,307.1 1030.2,306.5 1027.3,305.9 1024.3,305.3 1021.4,304.8 1018.5,304.2 1015.6,303.6 1012.7,303.0 1009.8,302.5 1006.9,301.9 1003.9,301.3 1001.0,300.8 998.1,300.2 995.2,299.7 992.3,299.1 989.4,298.6 986.5,298.1 983.5,297.6 980.6,297.1 977.7,296.6 974.8,296.1 971.9,295.6 969.0,295.1 966.1,294.6 963.1,294.1 960.2,293.6 957.3,293.1 954.4,292.6 951.5,292.1 948.6,291.6 945.7,291.0 942.7,290.5 939.8,290.0 936.9,289.5 934.0,288.9 931.1,288.4 928.2,287.8 925.3,287.2 922.3,286.6 919.4,286.0 916.5,285.4 913.6,284.8 910.7,284.2 907.8,283.5 904.9,282.9 901.9,282.2 899.0,281.5 896.1,280.8 893.2,280.1 890.3,279.4 887.4,278.7 884.5,277.9 881.5,277.2 878.6,276.4 875.7,275.7 872.8,274.9 869.9,274.1 867.0,273.4 864.0,272.6 861.1,271.8 858.2,271.0 855.3,270.2 852.4,269.3 849.5,268.5 846.6,267.7 843.6,266.9 840.7,266.0 837.8,265.2 834.9,264.3 832.0,263.5 829.1,262.6 826.2,261.7 823.2,260.9 820.3,260.0 817.4,259.1 814.5,258.2 811.6,257.3 808.7,256.4 805.8,255.4 802.8,254.5 799.9,253.5 797.0,252.6 794.1,251.6 791.2,250.6 788.3,249.6 785.4,248.6 782.4,247.6 779.5,246.5 776.6,245.5 773.7,244.4 770.8,243.3 767.9,242.2 765.0,241.1 762.0,239.9 759.1,238.7 756.2,237.5 753.3,236.2 750.4,235.0 747.5,233.6 744.6,232.3 741.6,230.9 738.7,229.5 735.8,228.1 732.9,226.6 730.0,225.2 727.1,223.7 724.2,222.2 721.2,220.7 718.3,219.2 715.4,217.7 712.5,216.3 709.6,214.8 706.7,213.3 703.8,211.8 700.8,210.3 697.9,208.9 695.0,207.4 692.1,205.9 689.2,204.4 686.3,202.8 683.4,201.3 680.4,199.8 677.5,198.2 674.6,196.7 671.7,195.1 668.8,193.6 665.9,192.0 663.0,190.5 660.0,189.0 657.1,187.5 654.2,186.0 651.3,184.6 648.4,183.2 645.5,181.7 642.6,180.3 639.6,178.9 636.7,177.4 633.8,175.9 630.9,174.5 628.0,173.1 625.1,171.6 622.2,170.2 619.2,168.8 616.3,167.4 613.4,166.1 610.5,164.8 607.6,163.5 604.7,162.2 601.8,161.0 598.8,159.9 595.9,158.8 593.0,157.7 590.1,156.7 587.2,155.7 584.3,154.7 581.3,153.7 578.4,152.6 575.5,151.6 572.6,150.5 569.7,149.5 566.8,148.5 563.9,147.5 560.9,146.6 558.0,145.8 555.1,145.0 552.2,144.3 549.3,143.6 546.4,143.1 543.5,142.6 540.5,142.3 537.6,142.0 534.7,141.9 531.8,142.0 528.9,142.1 526.0,142.3 523.1,142.6 520.1,143.0 517.2,143.4 514.3,143.9 511.4,144.5 508.5,145.1 505.6,145.7 502.7,146.4 499.7,147.1 496.8,147.7 493.9,148.5 491.0,149.3 488.1,150.3 485.2,151.4 482.3,152.6 479.3,153.9 476.4,155.3 473.5,156.7 470.6,158.2 467.7,159.8 464.8,161.4 461.9,163.0 458.9,164.6 456.0,166.2 453.1,167.7 450.2,169.3 447.3,171.0 444.4,172.7 441.5,174.4 438.5,176.2 435.6,178.1 432.7,180.0 429.8,181.9 426.9,183.9" fill="#000"/>
<polygon points="151.7,599.9 143.9,615.4 159.4,615.4" fill="#000"/>
<polygon points="167.6,577.7 159.9,593.2 175.4,593.2" fill="#000"/>
<polygon points="183.5,543.7 175.8,559.2 191.3,559.2" fill="#000"/>
<polygon points="199.5,501.5 191.7,517.0 207.2,517.0" fill="#000"/>
<polygon points="215.4,456.3 207.6,471.8 223.1,471.8" fill="#000"/>
<polygon points="231.3,413.7 223.6,429.2 239.1,429.2" fill="#000"/>
<polygon points="247.2,374.5 239.5,390.0 255.0,390.0" fill="#000"/>
<polygon points="263.2,341.3 255.4,356.8 270.9,356.8" fill="#000"/>
<polygon points="279.1,308.6 271.3,324.1 286.8,324.1" fill="#000"/>
<polygon points="295.0,283.3 287.3,298.8 302.8,298.8" fill="#000"/>
<polygon points="310.9,259.2 303.2,274.7 318.7,274.7" fill="#000"/>
<polygon points="326.9,238.2 319.1,253.7 334.6,253.7" fill="#000"/>
<polygon points="342.8,220.7 335.0,236.2 350.5,236.2" fill="#000"/>
<polygon points="358.7,203.3 351.0,218.8 366.5,218.8" fill="#000"/>
<polygon points="374.6,188.4 366.9,203.9 382.4,203.9" fill="#000"/>
<polygon points="390.6,175.8 382.8,191.3 398.3,191.3" fill="#000"/>
<polygon points="406.5,166.1 398.8,181.6 414.2,181.6" fill="#000"/>
<polygon points="422.4,156.9 414.7,172.4 430.2,172.4" fill="#000"/>
<polygon points="438.3,149.0 430.6,164.5 446.1,164.5" fill="#000"/>
<polygon points="454.3,142.9 446.5,158.4 462.0,158.4" fill="#000"/>
<polygon points="470.2,138.7 462.4,154.2 477.9,154.2" fill="#000"/>
<polygon points="486.1,136.3 478.4,151.8 493.9,151.8" fill="#000"/>
<polygon points="502.0,134.4 494.3,149.9 509.8,149.9" fill="#000"/>
<polygon points="518.0,133.1 510.2,148.6 525.7,148.6" fill="#000"/>
<polygon points="533.9,132.6 526.1,148.1 541.6,148.1" fill="#000"/>
<polygon points="549.8,133.6 542.1,149.1 557.6,149.1" fill="#000"/>
<polygon points="565.8,136.2 558.0,151.7 573.5,151.7" fill="#000"/>
<polygon points="581.7,139.8 573.9,155.3 589.4,155.3" fill="#000"/>
<polygon points="597.6,143.9 589.8,159.4 605.3,159.4" fill="#000"/>
<polygon points="613.5,148.2 605.8,163.7 621.3,163.7" fill="#000"/>
<polygon points="629.5,152.2 621.7,167.7 637.2,167.7" fill="#000"/>
<polygon points="645.4,156.7 637.6,172.2 653.1,172.2" fill="#000"/>
<polygon points="661.3,161.6 653.5,177.1 669.0,177.1" fill="#000"/>
<polygon points="677.2,166.8 669.5,182.3 685.0,182.3" fill="#000"/>
<polygon points="693.1,172.3 685.4,187.8 700.9,187.8" fill="#000"/>
<polygon points="709.1,178.4 701.3,193.9 716.8,193.9" fill="#000"/>
<polygon points="725.0,184.7 717.2,200.2 732.8,200.2" fill="#000"/>
<polygon points="740.9,190.7 733.2,206.2 748.7,206.2" fill="#000"/>
<polygon points="756.8,196.8 749.1,212.3 764.6,212.3" fill="#000"/>
<polygon points="772.8,202.8 765.0,218.3 780.5,218.3" fill="#000"/>
<polygon points="788.7,208.8 780.9,224.3 796.4,224.3" fill="#000"/>
<polygon points="804.6,214.6 796.9,230.1 812.4,230.1" fill="#000"/>
<polygon points="820.5,219.9 812.8,235.4 828.3,235.4" fill="#000"/>
<polygon points="836.5,224.7 828.7,240.2 844.2,240.2" fill="#000"/>
<polygon points="852.4,229.2 844.6,244.7 860.1,244.7" fill="#000"/>
<polygon points="868.3,233.6 860.6,249.1 876.1,249.1" fill="#000"/>
<polygon points="884.2,238.0 876.5,253.5 892.0,253.5" fill="#000"/>
<polygon points="900.2,242.7 892.4,258.2 907.9,258.2" fill="#000"/>
<polygon points="916.1,247.6 908.3,263.1 923.8,263.1" fill="#000"/>
<polygon points="932.0,252.4 924.3,267.9 939.8,267.9" fill="#000"/>
<polygon points="947.9,256.8 940.2,272.3 955.7,272.3" fill="#000"/>
<polygon points="963.9,260.6 956.1,276.1 971.6,276.1" fill="#000"/>
<polygon points="979.8,264.1 972.0,279.6 987.5,279.6" fill="#000"/>
<polygon points="995.7,267.4 988.0,282.9 1003.5,282.9" fill="#000"/>
<polygon points="1011.6,270.8 1003.9,286.3 1019.4,286.3" fill="#000"/>
<polygon points="1027.6,274.4 1019.8,289.9 1035.3,289.9" fill="#000"/>
<polygon points="1043.5,278.1 1035.7,293.6 1051.2,293.6" fill="#000"/>
<polygon points="1059.4,281.9 1051.7,297.4 1067.2,297.4" fill="#000"/>
<polygon points="1075.3,285.5 1067.6,301.0 1083.1,301.0" fill="#000"/>
<polygon points="1091.3,289.1 1083.5,304.6 1099.0,304.6" fill="#000"/>
<polygon points="1107.2,292.4 1099.5,307.9 1115.0,307.9" fill="#000"/>
<polygon points="1123.1,295.5 1115.4,311.0 1130.9,311.0" fill="#000"/>
<polygon points="1139.0,298.6 1131.3,314.1 1146.8,314.1" fill="#000"/>
<polygon points="1155.0,301.5 1147.2,317.0 1162.7,317.0" fill="#000"/>
<polygon points="1170.9,304.4 1163.1,319.9 1178.6,319.9" fill="#000"/>
<polygon points="1186.8,307.1 1179.1,322.6 1194.6,322.6" fill="#000"/>
<polygon points="1202.8,309.6 1195.0,325.1 1210.5,325.1" fill="#000"/>
<polygon points="1218.7,312.0 1210.9,327.5 1226.4,327.5" fill="#000"/>
<polygon points="1234.6,314.3 1226.8,329.8 1242.3,329.8" fill="#000"/>
<polygon points="1250.5,316.4 1242.8,331.9 1258.3,331.9" fill="#000"/>
<polygon points="1266.5,318.5 1258.7,334.0 1274.2,334.0" fill="#000"/>
<polygon points="1282.4,320.4 1274.6,335.9 1290.1,335.9" fill="#000"/>
<polygon points="1298.3,322.2 1290.5,337.7 1306.0,337.7" fill="#000"/>
<polygon points="151.7,538.8 145.4,550.8 157.9,550.8" fill="none" stroke="#000" stroke-width="2.6" stroke-linejoin="miter"/>
<polygon points="215.4,419.1 209.1,431.1 221.6,431.1" fill="none" stroke="#000" stroke-width="2.6" stroke-linejoin="miter"/>
<polygon points="470.2,137.8 463.9,149.8 476.4,149.8" fill="none" stroke="#000" stroke-width="2.6" stroke-linejoin="miter"/>
<polygon points="533.9,134.7 527.6,146.7 540.1,146.7" fill="none" stroke="#000" stroke-width="2.6" stroke-linejoin="miter"/>
<polygon points="597.6,137.8 591.4,149.8 603.9,149.8" fill="none" stroke="#000" stroke-width="2.6" stroke-linejoin="miter"/>
<polygon points="661.3,146.3 655.0,158.3 667.5,158.3" fill="none" stroke="#000" stroke-width="2.6" stroke-linejoin="miter"/>
<polygon points="725.0,168.2 718.8,180.2 731.2,180.2" fill="none" stroke="#000" stroke-width="2.6" stroke-linejoin="miter"/>
<polygon points="788.7,188.8 782.5,200.8 795.0,200.8" fill="none" stroke="#000" stroke-width="2.6" stroke-linejoin="miter"/>
<polygon points="852.4,209.5 846.1,221.5 858.6,221.5" fill="none" stroke="#000" stroke-width="2.6" stroke-linejoin="miter"/>
<polygon points="916.1,225.9 909.8,237.9 922.3,237.9" fill="none" stroke="#000" stroke-width="2.6" stroke-linejoin="miter"/>
<polygon points="979.8,242.3 973.5,254.3 986.0,254.3" fill="none" stroke="#000" stroke-width="2.6" stroke-linejoin="miter"/>
<polygon points="1043.5,260.5 1037.2,272.5 1049.8,272.5" fill="none" stroke="#000" stroke-width="2.6" stroke-linejoin="miter"/>
<polygon points="1107.2,279.4 1101.0,291.4 1113.5,291.4" fill="none" stroke="#000" stroke-width="2.6" stroke-linejoin="miter"/>
<polygon points="1170.9,292.1 1164.6,304.1 1177.1,304.1" fill="none" stroke="#000" stroke-width="2.6" stroke-linejoin="miter"/>
<polygon points="1234.6,301.8 1228.4,313.8 1240.9,313.8" fill="none" stroke="#000" stroke-width="2.6" stroke-linejoin="miter"/>
<polygon points="1298.3,314.6 1292.0,326.6 1304.5,326.6" fill="none" stroke="#000" stroke-width="2.6" stroke-linejoin="miter"/>
<rect x="144.2" y="304.0" width="15" height="15" fill="#000"/>
<rect x="335.3" y="138.7" width="15" height="15" fill="#000"/>
<rect x="526.4" y="134.4" width="15" height="15" fill="#000"/>
<rect x="717.5" y="173.3" width="15" height="15" fill="#000"/>
<rect x="908.6" y="221.3" width="15" height="15" fill="#000"/>
<rect x="1099.7" y="260.2" width="15" height="15" fill="#000"/>
<rect x="1290.8" y="293.0" width="15" height="15" fill="#000"/>
<path d="M152.1,749.6 L154.0,748.9 L155.9,747.8 L157.8,746.4 L159.7,744.8 L161.6,743.0 L163.6,741.0 L165.5,738.9 L167.4,736.6 L169.3,734.1 L171.2,731.5 L173.1,728.8 L175.0,726.0 L177.0,723.0 L178.9,720.0 L180.8,716.8 L182.7,713.6 L184.6,710.2 L186.5,706.8 L188.4,703.3 L190.4,699.6 L192.3,696.0 L194.2,692.2 L196.1,688.3 L198.0,684.4 L199.9,680.5 L201.8,676.4 L203.7,672.3 L205.7,668.1 L207.6,663.9 L209.5,659.6 L211.4,655.3 L213.3,650.9 L215.2,646.4 L217.1,642.0 L219.1,637.4 L221.0,632.9 L222.9,628.2 L224.8,623.6 L226.7,618.9 L228.6,614.2 L230.5,609.4 L232.5,604.6 L234.4,599.8 L236.3,595.0 L238.2,590.1 L240.1,585.2 L242.0,580.3 L243.9,575.4 L245.8,570.4 L247.8,565.5 L249.7,560.5 L251.6,555.5 L253.5,550.5 L255.4,545.5 L257.3,540.4 L259.2,535.4 L261.2,530.4 L263.1,525.3 L265.0,520.3 L266.9,515.3 L268.8,510.2 L270.7,505.2 L272.6,500.1 L274.5,495.1 L276.5,490.1 L278.4,485.1 L280.3,480.1 L282.2,475.1 L284.1,470.1 L286.0,465.1 L287.9,460.2 L289.9,455.2 L291.8,450.3 L293.7,445.4 L295.6,440.5 L297.5,435.6 L299.4,430.8 L301.3,425.9 L303.3,421.1 L305.2,416.4 L307.1,411.6 L309.0,406.9 L310.9,402.2 L312.8,397.5 L314.7,392.9 L316.6,388.3 L318.6,383.7 L320.5,379.1 L322.4,374.6 L324.3,370.1 L326.2,365.7 L328.1,361.3 L330.0,356.9 L332.0,352.6 L333.9,348.3 L335.8,344.0 L337.7,339.8 L339.6,335.6 L341.5,331.5 L343.4,327.3 L345.4,323.3 L347.3,319.3 L349.2,315.3 L351.1,311.3 L353.0,307.5 L354.9,303.6 L356.8,299.8 L358.7,296.0 L360.7,292.3 L362.6,288.6 L364.5,285.0 L366.4,281.4 L368.3,277.9 L370.2,274.4 L372.1,271.0 L374.1,267.6 L376.0,264.2 L377.9,260.9 L379.8,257.7 L381.7,254.5 L383.6,251.3 L385.5,248.2 L387.4,245.2 L389.4,242.2 L391.3,239.2 L393.2,236.3 L395.1,233.4 L397.0,230.6 L398.9,227.8 L400.8,225.1 L402.8,222.4 L404.7,219.8 L406.6,217.3 L408.5,214.7 L410.4,212.3 L412.3,209.8 L414.2,207.4 L416.2,205.1 L418.1,202.8 L420.0,200.6 L421.9,198.4 L423.8,196.3 L425.7,194.2 L427.6,192.1 L429.5,190.1 L431.5,188.2 L433.4,186.3 L435.3,184.4 L437.2,182.6 L439.1,180.8 L441.0,179.1 L442.9,177.4 L444.9,175.8 L446.8,174.2 L448.7,172.6 L450.6,171.1 L452.5,169.7 L454.4,168.3 L456.3,166.9 L458.3,165.6 L460.2,164.3 L462.1,163.0 L464.0,161.8 L465.9,160.6 L467.8,159.5 L469.7,158.4 L471.6,157.4 L473.6,156.4 L475.5,155.4 L477.4,154.5 L479.3,153.6 L481.2,152.7 L483.1,151.9 L485.0,151.1 L487.0,150.3 L488.9,149.6 L490.8,148.9 L492.7,148.3 L494.6,147.7 L496.5,147.1 L498.4,146.6 L500.3,146.1 L502.3,145.6 L504.2,145.1 L506.1,144.7 L508.0,144.3 L509.9,144.0 L511.8,143.7 L513.7,143.4 L515.7,143.1 L517.6,142.9 L519.5,142.7 L521.4,142.5 L523.3,142.3 L525.2,142.2 L527.1,142.1 L529.1,142.0 L531.0,142.0 L532.9,141.9 L534.8,141.9 L536.7,142.0 L538.6,142.0 L540.5,142.1 L542.4,142.2 L544.4,142.3 L546.3,142.4 L548.2,142.6 L550.1,142.8 L552.0,143.0 L553.9,143.2 L555.8,143.4 L557.8,143.7 L559.7,143.9 L561.6,144.2 L563.5,144.6 L565.4,144.9 L567.3,145.2 L569.2,145.6 L571.2,146.0 L573.1,146.4 L575.0,146.8 L576.9,147.2 L578.8,147.7 L580.7,148.1 L582.6,148.6 L584.5,149.1 L586.5,149.6 L588.4,150.1 L590.3,150.6 L592.2,151.1 L594.1,151.7 L596.0,152.2 L597.9,152.8 L599.9,153.4 L601.8,154.0 L603.7,154.6 L605.6,155.2 L607.5,155.8 L609.4,156.5 L611.3,157.1 L613.2,157.7 L615.2,158.4 L617.1,159.1 L619.0,159.7 L620.9,160.4 L622.8,161.1 L624.7,161.8 L626.6,162.5 L628.6,163.2 L630.5,163.9 L632.4,164.7 L634.3,165.4 L636.2,166.1 L638.1,166.9 L640.0,167.6 L642.0,168.4 L643.9,169.1 L645.8,169.9 L647.7,170.6 L649.6,171.4 L651.5,172.2 L653.4,173.0 L655.3,173.7 L657.3,174.5 L659.2,175.3 L661.1,176.1 L663.0,176.9 L664.9,177.7 L666.8,178.5 L668.7,179.3 L670.7,180.1 L672.6,180.9 L674.5,181.7 L676.4,182.5 L678.3,183.3 L680.2,184.1 L682.1,184.9 L684.0,185.8 L686.0,186.6 L687.9,187.4 L689.8,188.2 L691.7,189.0 L693.6,189.8 L695.5,190.7 L697.4,191.5 L699.4,192.3 L701.3,193.1 L703.2,193.9 L705.1,194.7 L707.0,195.6 L708.9,196.4 L710.8,197.2 L712.8,198.0 L714.7,198.8 L716.6,199.6 L718.5,200.5 L720.4,201.3 L722.3,202.1 L724.2,202.9 L726.1,203.7 L728.1,204.5 L730.0,205.3 L731.9,206.1 L733.8,206.9 L735.7,207.8 L737.6,208.6 L739.5,209.4 L741.5,210.2 L743.4,211.0 L745.3,211.8 L747.2,212.6 L749.1,213.3 L751.0,214.1 L752.9,214.9 L754.9,215.7 L756.8,216.5 L758.7,217.3 L760.6,218.1 L762.5,218.9 L764.4,219.6 L766.3,220.4 L768.2,221.2 L770.2,222.0 L772.1,222.7 L774.0,223.5 L775.9,224.3 L777.8,225.0 L779.7,225.8 L781.6,226.6 L783.6,227.3 L785.5,228.1 L787.4,228.8 L789.3,229.6 L791.2,230.3 L793.1,231.1 L795.0,231.8 L796.9,232.6 L798.9,233.3 L800.8,234.0 L802.7,234.8 L804.6,235.5 L806.5,236.2 L808.4,237.0 L810.3,237.7 L812.3,238.4 L814.2,239.1 L816.1,239.8 L818.0,240.6 L819.9,241.3 L821.8,242.0 L823.7,242.7 L825.7,243.4 L827.6,244.1 L829.5,244.8 L831.4,245.5 L833.3,246.2 L835.2,246.9 L837.1,247.6 L839.0,248.3 L841.0,248.9 L842.9,249.6 L844.8,250.3 L846.7,251.0 L848.6,251.7 L850.5,252.3 L852.4,253.0 L854.4,253.7 L856.3,254.3 L858.2,255.0 L860.1,255.7 L862.0,256.3 L863.9,257.0 L865.8,257.6 L867.8,258.3 L869.7,258.9 L871.6,259.6 L873.5,260.2 L875.4,260.9 L877.3,261.5 L879.2,262.1 L881.1,262.8 L883.1,263.4 L885.0,264.0 L886.9,264.7 L888.8,265.3 L890.7,265.9 L892.6,266.5 L894.5,267.2 L896.5,267.8 L898.4,268.4 L900.3,269.0 L902.2,269.6 L904.1,270.2 L906.0,270.8 L907.9,271.4 L909.8,272.0 L911.8,272.6 L913.7,273.2 L915.6,273.8 L917.5,274.4 L919.4,275.0 L921.3,275.6 L923.2,276.2 L925.2,276.8 L927.1,277.4 L929.0,277.9 L930.9,278.5 L932.8,279.1 L934.7,279.7 L936.6,280.2 L938.6,280.8 L940.5,281.4 L942.4,281.9 L944.3,282.5 L946.2,283.1 L948.1,283.6 L950.0,284.2 L951.9,284.7 L953.9,285.3 L955.8,285.8 L957.7,286.4 L959.6,286.9 L961.5,287.5 L963.4,288.0 L965.3,288.6 L967.3,289.1 L969.2,289.7 L971.1,290.2 L973.0,290.7 L974.9,291.3 L976.8,291.8 L978.7,292.3 L980.7,292.9 L982.6,293.4 L984.5,293.9 L986.4,294.4 L988.3,294.9 L990.2,295.5 L992.1,296.0 L994.0,296.5 L996.0,297.0 L997.9,297.5 L999.8,298.0 L1001.7,298.5 L1003.6,299.0 L1005.5,299.5 L1007.4,300.1 L1009.4,300.6 L1011.3,301.1 L1013.2,301.6 L1015.1,302.0 L1017.0,302.5 L1018.9,303.0 L1020.8,303.5 L1022.7,304.0 L1024.7,304.5 L1026.6,305.0 L1028.5,305.5 L1030.4,306.0 L1032.3,306.4 L1034.2,306.9 L1036.1,307.4 L1038.1,307.9 L1040.0,308.4 L1041.9,308.8 L1043.8,309.3 L1045.7,309.8 L1047.6,310.2 L1049.5,310.7 L1051.5,311.2 L1053.4,311.6 L1055.3,312.1 L1057.2,312.6 L1059.1,313.0 L1061.0,313.5 L1062.9,314.0 L1064.8,314.4 L1066.8,314.9 L1068.7,315.3 L1070.6,315.8 L1072.5,316.2 L1074.4,316.7 L1076.3,317.1 L1078.2,317.6 L1080.2,318.0 L1082.1,318.5 L1084.0,318.9 L1085.9,319.3 L1087.8,319.8 L1089.7,320.2 L1091.6,320.7 L1093.5,321.1 L1095.5,321.5 L1097.4,322.0 L1099.3,322.4 L1101.2,322.8 L1103.1,323.3 L1105.0,323.7 L1106.9,324.1 L1108.9,324.5 L1110.8,325.0 L1112.7,325.4 L1114.6,325.8 L1116.5,326.2 L1118.4,326.6 L1120.3,327.1 L1122.3,327.5 L1124.2,327.9 L1126.1,328.3 L1128.0,328.7 L1129.9,329.1 L1131.8,329.5 L1133.7,330.0 L1135.6,330.4 L1137.6,330.8 L1139.5,331.2 L1141.4,331.6 L1143.3,332.0 L1145.2,332.4 L1147.1,332.8 L1149.0,333.2 L1151.0,333.6 L1152.9,334.0 L1154.8,334.4 L1156.7,334.8 L1158.6,335.2 L1160.5,335.6 L1162.4,336.0 L1164.4,336.3 L1166.3,336.7 L1168.2,337.1 L1170.1,337.5 L1172.0,337.9 L1173.9,338.3 L1175.8,338.7 L1177.7,339.0 L1179.7,339.4 L1181.6,339.8 L1183.5,340.2 L1185.4,340.6 L1187.3,341.0 L1189.2,341.3 L1191.1,341.7 L1193.1,342.1 L1195.0,342.5 L1196.9,342.8 L1198.8,343.2 L1200.7,343.6 L1202.6,343.9 L1204.5,344.3 L1206.4,344.7 L1208.4,345.0 L1210.3,345.4 L1212.2,345.8 L1214.1,346.1 L1216.0,346.5 L1217.9,346.9 L1219.8,347.2 L1221.8,347.6 L1223.7,347.9 L1225.6,348.3 L1227.5,348.7 L1229.4,349.0 L1231.3,349.4 L1233.2,349.7 L1235.2,350.1 L1237.1,350.4 L1239.0,350.8 L1240.9,351.1 L1242.8,351.5 L1244.7,351.8 L1246.6,352.2 L1248.5,352.5 L1250.5,352.9 L1252.4,353.2 L1254.3,353.6 L1256.2,353.9 L1258.1,354.2 L1260.0,354.6 L1261.9,354.9 L1263.9,355.3 L1265.8,355.6 L1267.7,355.9 L1269.6,356.3 L1271.5,356.6 L1273.4,356.9 L1275.3,357.3 L1277.3,357.6 L1279.2,357.9 L1281.1,358.3 L1283.0,358.6 L1284.9,358.9 L1286.8,359.3 L1288.7,359.6 L1290.6,359.9 L1292.6,360.3 L1294.5,360.6 L1296.4,360.9 L1298.3,361.2" fill="none" stroke="#000" stroke-width="6" stroke-linejoin="round"/>
<path d="M163.2,568.2 L164.0,561.7 L164.9,555.5 L165.8,549.5 L166.6,543.7 L167.5,538.1 L168.4,532.7 L169.2,527.5 L170.1,522.3 L171.0,517.4 L171.8,512.5 L172.7,507.8 L173.6,503.2 L174.4,498.8 L175.3,494.4 L176.2,490.1 L177.0,485.9 L177.9,481.8 L178.8,477.8 L179.6,473.9 L180.5,470.0 L181.4,466.2 L182.2,462.5 L183.1,458.9 L184.0,455.3 L184.8,451.8 L185.7,448.4 L186.6,445.0 L187.4,441.6 L188.3,438.4 L189.2,435.1 L190.0,432.0 L190.9,428.8 L191.8,425.8 L192.6,422.7 L193.5,419.8 L194.4,416.8 L195.3,413.9 L196.1,411.1 L197.0,408.3 L197.9,405.5 L198.7,402.7 L199.6,400.1 L200.5,397.4 L201.3,394.8 L202.2,392.2 L203.1,389.6 L203.9,387.1 L204.8,384.6 L205.7,382.1 L206.5,379.7 L207.4,377.3 L208.3,374.9 L209.1,372.6 L210.0,370.3 L210.9,368.0 L211.7,365.7 L212.6,363.5 L213.5,361.3 L214.3,359.1 L215.2,357.0 L216.1,354.9 L216.9,352.7 L217.8,350.7 L218.7,348.6 L219.5,346.6 L220.4,344.6 L221.3,342.6 L222.1,340.6 L223.0,338.7 L223.9,336.7 L224.7,334.8 L225.6,332.9 L226.5,331.1 L227.3,329.2 L228.2,327.4 L229.1,325.6 L229.9,323.8 L230.8,322.0 L231.7,320.3 L232.5,318.6 L233.4,316.8 L234.3,315.1 L235.1,313.5 L236.0,311.8 L236.9,310.2 L237.7,308.5 L238.6,306.9 L239.5,305.3 L240.3,303.7 L241.2,302.2 L242.1,300.6 L242.9,299.1 L243.8,297.5 L244.7,296.0 L245.5,294.5 L246.4,293.1 L247.3,291.6 L248.1,290.1 L249.0,288.7 L249.9,287.3 L250.8,285.9 L251.6,284.5 L252.5,283.1 L253.4,281.7 L254.2,280.3 L255.1,279.0 L256.0,277.7 L256.8,276.3 L257.7,275.0 L258.6,273.7 L259.4,272.4 L260.3,271.2 L261.2,269.9 L262.0,268.7 L262.9,267.4 L263.8,266.2 L264.6,265.0 L265.5,263.8 L266.4,262.6 L268.9,259.1 L271.5,255.6 L274.1,252.3 L276.7,249.1 L279.3,245.9 L281.9,242.9 L284.5,239.9 L287.1,236.9 L289.6,234.1 L292.2,231.3 L294.8,228.6 L297.4,226.0 L300.0,223.4 L302.6,220.9 L305.2,218.5 L307.7,216.1 L310.3,213.8 L312.9,211.5 L315.5,209.3 L318.1,207.2 L320.7,205.1 L323.3,203.1 L325.8,201.1 L328.4,199.1 L331.0,197.3 L333.6,195.4 L336.2,193.6 L338.8,191.9 L341.4,190.2 L343.9,188.5 L346.5,186.9 L349.1,185.3 L351.7,183.8 L354.3,182.3 L356.9,180.8 L359.5,179.4 L362.1,178.0 L364.6,176.7 L367.2,175.4 L369.8,174.1 L372.4,172.9 L375.0,171.7 L377.6,170.5 L380.2,169.3 L382.7,168.2 L385.3,167.2 L387.9,166.1 L390.5,165.1 L393.1,164.1 L395.7,163.2 L398.3,162.2 L400.8,161.3 L403.4,160.4 L406.0,159.6 L408.6,158.8 L411.2,158.0 L413.8,157.2 L416.4,156.4 L419.0,155.7 L421.5,155.0 L424.1,154.3 L426.7,153.7 L429.3,153.0 L431.9,152.4 L434.5,151.8 L437.1,151.3 L439.6,150.7 L442.2,150.2 L444.8,149.7 L447.4,149.2 L450.0,148.7 L452.6,148.3 L455.2,147.8 L457.7,147.4 L460.3,147.0 L462.9,146.6 L465.5,146.3 L468.1,145.9 L470.7,145.6 L473.3,145.3 L475.9,145.0 L478.4,144.7 L481.0,144.4 L483.6,144.2 L486.2,144.0 L488.8,143.7 L491.4,143.5 L494.0,143.3 L496.5,143.1 L499.1,143.0 L501.7,142.8 L504.3,142.7 L506.9,142.6 L509.5,142.4 L512.1,142.3 L514.6,142.3 L517.2,142.2 L519.8,142.1 L522.4,142.1 L525.0,142.0 L527.6,142.0 L530.2,142.0 L532.8,142.0 L535.3,142.0 L537.9,142.0 L540.5,142.0 L543.1,142.0 L545.7,142.1 L548.3,142.1 L550.9,142.2 L553.4,142.2 L556.0,142.3 L558.6,142.4 L561.2,142.5 L563.8,142.6 L566.4,142.7 L569.0,142.8 L571.5,143.0 L574.1,143.1 L576.7,143.3 L579.3,143.4 L581.9,143.6 L584.5,143.8 L587.1,143.9 L589.6,144.1 L592.2,144.3 L594.8,144.5 L597.4,144.7 L600.0,144.9 L602.6,145.1 L605.2,145.4 L607.8,145.6 L610.3,145.8 L612.9,146.1 L615.5,146.3 L618.1,146.6 L620.7,146.9 L623.3,147.1 L625.9,147.4 L628.4,147.7 L631.0,148.0 L633.6,148.3 L636.2,148.6 L638.8,148.9 L641.4,149.2 L644.0,149.5 L646.5,149.8 L649.1,150.1 L651.7,150.5 L654.3,150.8 L656.9,151.1 L659.5,151.5 L662.1,151.8 L664.7,152.2 L667.2,152.5 L669.8,152.9 L672.4,153.2 L675.0,153.6 L677.6,154.0 L680.2,154.3 L682.8,154.7 L685.3,155.1 L687.9,155.5 L690.5,155.9 L693.1,156.3 L695.7,156.7 L698.3,157.1 L700.9,157.5 L703.4,157.9 L706.0,158.3 L708.6,158.7 L711.2,159.1 L713.8,159.5 L716.4,159.9 L719.0,160.4 L721.6,160.8 L724.1,161.2 L726.7,161.6 L729.3,162.1 L731.9,162.5 L734.5,163.0 L737.1,163.4 L739.7,163.8 L742.2,164.3 L744.8,164.7 L747.4,165.2 L750.0,165.6 L752.6,166.1 L755.2,166.6 L757.8,167.0 L760.3,167.5 L762.9,167.9 L765.5,168.4 L768.1,168.9 L770.7,169.3 L773.3,169.8 L775.9,170.3 L778.5,170.8 L781.0,171.2 L783.6,171.7 L786.2,172.2 L788.8,172.7 L791.4,173.2 L794.0,173.6 L796.6,174.1 L799.1,174.6 L801.7,175.1 L804.3,175.6 L806.9,176.1 L809.5,176.6 L812.1,177.1 L814.7,177.6 L817.2,178.1 L819.8,178.6 L822.4,179.1 L825.0,179.6 L827.6,180.1 L830.2,180.6 L832.8,181.1 L835.3,181.6 L837.9,182.1 L840.5,182.6 L843.1,183.1 L845.7,183.6 L848.3,184.1 L850.9,184.6 L853.5,185.1 L856.0,185.6 L858.6,186.1 L861.2,186.6 L863.8,187.2 L866.4,187.7 L869.0,188.2 L871.6,188.7 L874.1,189.2 L876.7,189.7 L879.3,190.2 L881.9,190.8 L884.5,191.3 L887.1,191.8 L889.7,192.3 L892.2,192.8 L894.8,193.3 L897.4,193.9 L900.0,194.4 L902.6,194.9 L905.2,195.4 L907.8,195.9 L910.4,196.5 L912.9,197.0 L915.5,197.5 L918.1,198.0 L920.7,198.5 L923.3,199.1 L925.9,199.6 L928.5,200.1 L931.0,200.6 L933.6,201.1 L936.2,201.7 L938.8,202.2 L941.4,202.7 L944.0,203.2 L946.6,203.7 L949.1,204.3 L951.7,204.8 L954.3,205.3 L956.9,205.8 L959.5,206.3 L962.1,206.9 L964.7,207.4 L967.3,207.9 L969.8,208.4 L972.4,208.9 L975.0,209.5 L977.6,210.0 L980.2,210.5 L982.8,211.0 L985.4,211.5 L987.9,212.1 L990.5,212.6 L993.1,213.1 L995.7,213.6 L998.3,214.1 L1000.9,214.7 L1003.5,215.2 L1006.0,215.7 L1008.6,216.2 L1011.2,216.7 L1013.8,217.2 L1016.4,217.8 L1019.0,218.3 L1021.6,218.8 L1024.2,219.3 L1026.7,219.8 L1029.3,220.3 L1031.9,220.8 L1034.5,221.4 L1037.1,221.9 L1039.7,222.4 L1042.3,222.9 L1044.8,223.4 L1047.4,223.9 L1050.0,224.4 L1052.6,224.9 L1055.2,225.4 L1057.8,226.0 L1060.4,226.5 L1062.9,227.0 L1065.5,227.5 L1068.1,228.0 L1070.7,228.5 L1073.3,229.0 L1075.9,229.5 L1078.5,230.0 L1081.0,230.5 L1083.6,231.0 L1086.2,231.5 L1088.8,232.0 L1091.4,232.5 L1094.0,233.0 L1096.6,233.5 L1099.2,234.0 L1101.7,234.5 L1104.3,235.0 L1106.9,235.5 L1109.5,236.0 L1112.1,236.5 L1114.7,237.0 L1117.3,237.5 L1119.8,238.0 L1122.4,238.5 L1125.0,239.0 L1127.6,239.5 L1130.2,240.0 L1132.8,240.5 L1135.4,241.0 L1137.9,241.5 L1140.5,241.9 L1143.1,242.4 L1145.7,242.9 L1148.3,243.4 L1150.9,243.9 L1153.5,244.4 L1156.1,244.9 L1158.6,245.4 L1161.2,245.8 L1163.8,246.3 L1166.4,246.8 L1169.0,247.3 L1171.6,247.8 L1174.2,248.3 L1176.7,248.7 L1179.3,249.2 L1181.9,249.7 L1184.5,250.2 L1187.1,250.7 L1189.7,251.1 L1192.3,251.6 L1194.8,252.1 L1197.4,252.6 L1200.0,253.0 L1202.6,253.5 L1205.2,254.0 L1207.8,254.4 L1210.4,254.9 L1213.0,255.4 L1215.5,255.9 L1218.1,256.3 L1220.7,256.8 L1223.3,257.3 L1225.9,257.7 L1228.5,258.2 L1231.1,258.7 L1233.6,259.1 L1236.2,259.6 L1238.8,260.0 L1241.4,260.5 L1244.0,261.0 L1246.6,261.4 L1249.2,261.9 L1251.7,262.3 L1254.3,262.8 L1256.9,263.3 L1259.5,263.7 L1262.1,264.2 L1264.7,264.6 L1267.3,265.1 L1269.9,265.5 L1272.4,266.0 L1275.0,266.4 L1277.6,266.9 L1280.2,267.3 L1282.8,267.8 L1285.4,268.2 L1288.0,268.7 L1290.5,269.1 L1293.1,269.6 L1295.7,270.0 L1298.3,270.5" fill="none" stroke="#000" stroke-width="6" stroke-dasharray="17 21.5"/>
<line x1="138.4" y1="953.8" x2="1271.2" y2="953.8" stroke="#d2d2d2" stroke-width="3"/>
<line x1="1271.2" y1="953.8" x2="1271.2" y2="1684.3" stroke="#b8b8b8" stroke-width="3"/>
<line x1="138.4" y1="953.8" x2="138.4" y2="1685.8" stroke="#8a8a8a" stroke-width="3.4"/>
<line x1="136.9" y1="1684.9" x2="1272.7" y2="1684.9" stroke="#9a9a9a" stroke-width="3.6"/>
<line x1="128.4" y1="1684.3" x2="138.4" y2="1684.3" stroke="#b0b0b0" stroke-width="1.6"/>
<text x="112.0" y="1696.3" class="tk" text-anchor="end">0.0</text>
<line x1="128.4" y1="1562.5" x2="138.4" y2="1562.5" stroke="#b0b0b0" stroke-width="1.6"/>
<text x="112.0" y="1574.5" class="tk" text-anchor="end">0.2</text>
<line x1="128.4" y1="1440.8" x2="138.4" y2="1440.8" stroke="#b0b0b0" stroke-width="1.6"/>
<text x="112.0" y="1452.8" class="tk" text-anchor="end">0.4</text>
<line x1="128.4" y1="1319.0" x2="138.4" y2="1319.0" stroke="#b0b0b0" stroke-width="1.6"/>
<text x="112.0" y="1331.0" class="tk" text-anchor="end">0.6</text>
<line x1="128.4" y1="1197.3" x2="138.4" y2="1197.3" stroke="#b0b0b0" stroke-width="1.6"/>
<text x="112.0" y="1209.3" class="tk" text-anchor="end">0.8</text>
<line x1="128.4" y1="1075.5" x2="138.4" y2="1075.5" stroke="#b0b0b0" stroke-width="1.6"/>
<text x="112.0" y="1087.5" class="tk" text-anchor="end">1.0</text>
<line x1="128.4" y1="953.8" x2="138.4" y2="953.8" stroke="#b0b0b0" stroke-width="1.6"/>
<text x="112.0" y="965.8" class="tk" text-anchor="end">1.2</text>
<line x1="138.4" y1="1684.3" x2="138.4" y2="1694.3" stroke="#b0b0b0" stroke-width="1.6"/>
<text x="138.4" y="1753.0" class="tk" text-anchor="middle">0</text>
<line x1="327.2" y1="1684.3" x2="327.2" y2="1694.3" stroke="#b0b0b0" stroke-width="1.6"/>
<text x="327.2" y="1753.0" class="tk" text-anchor="middle">0.5</text>
<line x1="516.0" y1="1684.3" x2="516.0" y2="1694.3" stroke="#b0b0b0" stroke-width="1.6"/>
<text x="516.0" y="1753.0" class="tk" text-anchor="middle">1</text>
<line x1="704.8" y1="1684.3" x2="704.8" y2="1694.3" stroke="#b0b0b0" stroke-width="1.6"/>
<text x="704.8" y="1753.0" class="tk" text-anchor="middle">1.5</text>
<line x1="893.6" y1="1684.3" x2="893.6" y2="1694.3" stroke="#b0b0b0" stroke-width="1.6"/>
<text x="893.6" y="1753.0" class="tk" text-anchor="middle">2</text>
<line x1="1082.4" y1="1684.3" x2="1082.4" y2="1694.3" stroke="#b0b0b0" stroke-width="1.6"/>
<text x="1082.4" y="1753.0" class="tk" text-anchor="middle">2.5</text>
<line x1="1271.2" y1="1684.3" x2="1271.2" y2="1694.3" stroke="#b0b0b0" stroke-width="1.6"/>
<text x="1271.2" y="1753.0" class="tk" text-anchor="middle">3</text>
<path d="M130.4,1469.9L146.4,1485.9M130.4,1485.9L146.4,1469.9M131.5,1467.7L147.5,1483.7M131.5,1483.7L147.5,1467.7M132.6,1465.4L148.6,1481.4M132.6,1481.4L148.6,1465.4M133.7,1463.2L149.7,1479.2M133.7,1479.2L149.7,1463.2M134.8,1460.9L150.8,1476.9M134.8,1476.9L150.8,1460.9M135.9,1458.7L151.9,1474.7M135.9,1474.7L151.9,1458.7M137.0,1456.4L153.0,1472.4M137.0,1472.4L153.0,1456.4M138.1,1454.2L154.1,1470.2M138.1,1470.2L154.1,1454.2M139.2,1452.0L155.2,1468.0M139.2,1468.0L155.2,1452.0M140.3,1449.7L156.3,1465.7M140.3,1465.7L156.3,1449.7M141.4,1447.5L157.4,1463.5M141.4,1463.5L157.4,1447.5M142.5,1445.3L158.5,1461.3M142.5,1461.3L158.5,1445.3M143.7,1443.0L159.7,1459.0M143.7,1459.0L159.7,1443.0M144.8,1440.8L160.8,1456.8M144.8,1456.8L160.8,1440.8M146.0,1438.6L162.0,1454.6M146.0,1454.6L162.0,1438.6M147.1,1436.4L163.1,1452.4M147.1,1452.4L163.1,1436.4M148.3,1434.1L164.3,1450.1M148.3,1450.1L164.3,1434.1M149.4,1431.9L165.4,1447.9M149.4,1447.9L165.4,1431.9M150.6,1429.7L166.6,1445.7M150.6,1445.7L166.6,1429.7M151.7,1427.5L167.7,1443.5M151.7,1443.5L167.7,1427.5M152.9,1425.3L168.9,1441.3M152.9,1441.3L168.9,1425.3M154.1,1423.1L170.1,1439.1M154.1,1439.1L170.1,1423.1M155.3,1420.9L171.3,1436.9M155.3,1436.9L171.3,1420.9M156.5,1418.7L172.5,1434.7M156.5,1434.7L172.5,1418.7M157.7,1416.5L173.7,1432.5M157.7,1432.5L173.7,1416.5M158.9,1414.3L174.9,1430.3M158.9,1430.3L174.9,1414.3M160.1,1412.1L176.1,1428.1M160.1,1428.1L176.1,1412.1M161.3,1409.9L177.3,1425.9M161.3,1425.9L177.3,1409.9M162.5,1407.8L178.5,1423.8M162.5,1423.8L178.5,1407.8M163.7,1405.6L179.7,1421.6M163.7,1421.6L179.7,1405.6M165.0,1403.4L181.0,1419.4M165.0,1419.4L181.0,1403.4M166.2,1401.2L182.2,1417.2M166.2,1417.2L182.2,1401.2M167.5,1399.1L183.5,1415.1M167.5,1415.1L183.5,1399.1M168.7,1396.9L184.7,1412.9M168.7,1412.9L184.7,1396.9M170.0,1394.8L186.0,1410.8M170.0,1410.8L186.0,1394.8M171.3,1392.6L187.3,1408.6M171.3,1408.6L187.3,1392.6M172.6,1390.5L188.6,1406.5M172.6,1406.5L188.6,1390.5M173.9,1388.3L189.9,1404.3M173.9,1404.3L189.9,1388.3M175.2,1386.2L191.2,1402.2M175.2,1402.2L191.2,1386.2M176.5,1384.1L192.5,1400.1M176.5,1400.1L192.5,1384.1M177.8,1381.9L193.8,1397.9M177.8,1397.9L193.8,1381.9M179.1,1379.8L195.1,1395.8M179.1,1395.8L195.1,1379.8M180.5,1377.7L196.5,1393.7M180.5,1393.7L196.5,1377.7M181.8,1375.6L197.8,1391.6M181.8,1391.6L197.8,1375.6M183.2,1373.5L199.2,1389.5M183.2,1389.5L199.2,1373.5M184.6,1371.4L200.6,1387.4M184.6,1387.4L200.6,1371.4M186.0,1369.4L202.0,1385.4M186.0,1385.4L202.0,1369.4M187.4,1367.3L203.4,1383.3M187.4,1383.3L203.4,1367.3M188.8,1365.2L204.8,1381.2M188.8,1381.2L204.8,1365.2M190.2,1363.2L206.2,1379.2M190.2,1379.2L206.2,1363.2M191.6,1361.1L207.6,1377.1M191.6,1377.1L207.6,1361.1M193.1,1359.1L209.1,1375.1M193.1,1375.1L209.1,1359.1M194.5,1357.0L210.5,1373.0M194.5,1373.0L210.5,1357.0M195.9,1355.0L211.9,1371.0M195.9,1371.0L211.9,1355.0M197.4,1352.9L213.4,1368.9M197.4,1368.9L213.4,1352.9M198.8,1350.9L214.8,1366.9M198.8,1366.9L214.8,1350.9M200.3,1348.9L216.3,1364.9M200.3,1364.9L216.3,1348.9M201.7,1346.8L217.7,1362.8M201.7,1362.8L217.7,1346.8M203.2,1344.8L219.2,1360.8M203.2,1360.8L219.2,1344.8M204.6,1342.8L220.6,1358.8M204.6,1358.8L220.6,1342.8M206.1,1340.7L222.1,1356.7M206.1,1356.7L222.1,1340.7M207.5,1338.7L223.5,1354.7M207.5,1354.7L223.5,1338.7M209.0,1336.7L225.0,1352.7M209.0,1352.7L225.0,1336.7M210.4,1334.6L226.4,1350.6M210.4,1350.6L226.4,1334.6M211.9,1332.6L227.9,1348.6M211.9,1348.6L227.9,1332.6M213.3,1330.5L229.3,1346.5M213.3,1346.5L229.3,1330.5M214.8,1328.5L230.8,1344.5M214.8,1344.5L230.8,1328.5M216.2,1326.4L232.2,1342.4M216.2,1342.4L232.2,1326.4M217.6,1324.4L233.6,1340.4M217.6,1340.4L233.6,1324.4M219.0,1322.3L235.0,1338.3M219.0,1338.3L235.0,1322.3M220.5,1320.3L236.5,1336.3M220.5,1336.3L236.5,1320.3M221.9,1318.2L237.9,1334.2M221.9,1334.2L237.9,1318.2M223.3,1316.1L239.3,1332.1M223.3,1332.1L239.3,1316.1M224.7,1314.1L240.7,1330.1M224.7,1330.1L240.7,1314.1M226.1,1312.0L242.1,1328.0M226.1,1328.0L242.1,1312.0M227.5,1309.9L243.5,1325.9M227.5,1325.9L243.5,1309.9M228.9,1307.8L244.9,1323.8M228.9,1323.8L244.9,1307.8M230.3,1305.8L246.3,1321.8M230.3,1321.8L246.3,1305.8M231.7,1303.7L247.7,1319.7M231.7,1319.7L247.7,1303.7M233.1,1301.6L249.1,1317.6M233.1,1317.6L249.1,1301.6M234.4,1299.5L250.4,1315.5M234.4,1315.5L250.4,1299.5M235.8,1297.5L251.8,1313.5M235.8,1313.5L251.8,1297.5M237.2,1295.4L253.2,1311.4M237.2,1311.4L253.2,1295.4M238.6,1293.3L254.6,1309.3M238.6,1309.3L254.6,1293.3M240.0,1291.3L256.0,1307.3M240.0,1307.3L256.0,1291.3M241.4,1289.2L257.4,1305.2M241.4,1305.2L257.4,1289.2M242.9,1287.1L258.9,1303.1M242.9,1303.1L258.9,1287.1M244.3,1285.1L260.3,1301.1M244.3,1301.1L260.3,1285.1M245.7,1283.0L261.7,1299.0M245.7,1299.0L261.7,1283.0M247.1,1280.9L263.1,1296.9M247.1,1296.9L263.1,1280.9M248.5,1278.9L264.5,1294.9M248.5,1294.9L264.5,1278.9M250.0,1276.8L266.0,1292.8M250.0,1292.8L266.0,1276.8M251.4,1274.8L267.4,1290.8M251.4,1290.8L267.4,1274.8M252.9,1272.8L268.9,1288.8M252.9,1288.8L268.9,1272.8M254.3,1270.7L270.3,1286.7M254.3,1286.7L270.3,1270.7M255.8,1268.7L271.8,1284.7M255.8,1284.7L271.8,1268.7M257.3,1266.7L273.3,1282.7M257.3,1282.7L273.3,1266.7M258.8,1264.7L274.8,1280.7M258.8,1280.7L274.8,1264.7M260.3,1262.7L276.3,1278.7M260.3,1278.7L276.3,1262.7M261.8,1260.7L277.8,1276.7M261.8,1276.7L277.8,1260.7M263.3,1258.7L279.3,1274.7M263.3,1274.7L279.3,1258.7M264.8,1256.7L280.8,1272.7M264.8,1272.7L280.8,1256.7M266.3,1254.8L282.3,1270.8M266.3,1270.8L282.3,1254.8M267.9,1252.8L283.9,1268.8M267.9,1268.8L283.9,1252.8M269.4,1250.8L285.4,1266.8M269.4,1266.8L285.4,1250.8M271.0,1248.9L287.0,1264.9M271.0,1264.9L287.0,1248.9M272.5,1246.9L288.5,1262.9M272.5,1262.9L288.5,1246.9M274.1,1244.9L290.1,1260.9M274.1,1260.9L290.1,1244.9M275.7,1243.0L291.7,1259.0M275.7,1259.0L291.7,1243.0M277.2,1241.1L293.2,1257.1M277.2,1257.1L293.2,1241.1M278.8,1239.1L294.8,1255.1M278.8,1255.1L294.8,1239.1M280.4,1237.2L296.4,1253.2M280.4,1253.2L296.4,1237.2M282.0,1235.3L298.0,1251.3M282.0,1251.3L298.0,1235.3M283.6,1233.4L299.6,1249.4M283.6,1249.4L299.6,1233.4M285.2,1231.4L301.2,1247.4M285.2,1247.4L301.2,1231.4M286.8,1229.5L302.8,1245.5M286.8,1245.5L302.8,1229.5M288.4,1227.6L304.4,1243.6M288.4,1243.6L304.4,1227.6M290.1,1225.7L306.1,1241.7M290.1,1241.7L306.1,1225.7M291.7,1223.8L307.7,1239.8M291.7,1239.8L307.7,1223.8M293.3,1221.9L309.3,1237.9M293.3,1237.9L309.3,1221.9M295.0,1220.0L311.0,1236.0M295.0,1236.0L311.0,1220.0M296.6,1218.1L312.6,1234.1M296.6,1234.1L312.6,1218.1M298.2,1216.3L314.2,1232.3M298.2,1232.3L314.2,1216.3M299.9,1214.4L315.9,1230.4M299.9,1230.4L315.9,1214.4M301.5,1212.5L317.5,1228.5M301.5,1228.5L317.5,1212.5M303.2,1210.6L319.2,1226.6M303.2,1226.6L319.2,1210.6M304.9,1208.8L320.9,1224.8M304.9,1224.8L320.9,1208.8M306.5,1206.9L322.5,1222.9M306.5,1222.9L322.5,1206.9M308.2,1205.0L324.2,1221.0M308.2,1221.0L324.2,1205.0M309.9,1203.2L325.9,1219.2M309.9,1219.2L325.9,1203.2M311.6,1201.4L327.6,1217.4M311.6,1217.4L327.6,1201.4M313.3,1199.5L329.3,1215.5M313.3,1215.5L329.3,1199.5M315.0,1197.7L331.0,1213.7M315.0,1213.7L331.0,1197.7M316.7,1195.9L332.7,1211.9M316.7,1211.9L332.7,1195.9M318.4,1194.1L334.4,1210.1M318.4,1210.1L334.4,1194.1M320.1,1192.3L336.1,1208.3M320.1,1208.3L336.1,1192.3M321.9,1190.4L337.9,1206.4M321.9,1206.4L337.9,1190.4M323.6,1188.6L339.6,1204.6M323.6,1204.6L339.6,1188.6M325.3,1186.8L341.3,1202.8M325.3,1202.8L341.3,1186.8M327.1,1185.0L343.1,1201.0M327.1,1201.0L343.1,1185.0M328.8,1183.2L344.8,1199.2M328.8,1199.2L344.8,1183.2M330.6,1181.5L346.6,1197.5M330.6,1197.5L346.6,1181.5M332.3,1179.7L348.3,1195.7M332.3,1195.7L348.3,1179.7M334.0,1177.9L350.0,1193.9M334.0,1193.9L350.0,1177.9M335.8,1176.1L351.8,1192.1M335.8,1192.1L351.8,1176.1M337.5,1174.3L353.5,1190.3M337.5,1190.3L353.5,1174.3M339.3,1172.5L355.3,1188.5M339.3,1188.5L355.3,1172.5M341.0,1170.7L357.0,1186.7M341.0,1186.7L357.0,1170.7M342.7,1168.9L358.7,1184.9M342.7,1184.9L358.7,1168.9M344.5,1167.1L360.5,1183.1M344.5,1183.1L360.5,1167.1M346.2,1165.3L362.2,1181.3M346.2,1181.3L362.2,1165.3M347.9,1163.5L363.9,1179.5M347.9,1179.5L363.9,1163.5M349.6,1161.6L365.6,1177.6M349.6,1177.6L365.6,1161.6M351.3,1159.8L367.3,1175.8M351.3,1175.8L367.3,1159.8M353.0,1158.0L369.0,1174.0M353.0,1174.0L369.0,1158.0M354.7,1156.2L370.7,1172.2M354.7,1172.2L370.7,1156.2M356.4,1154.3L372.4,1170.3M356.4,1170.3L372.4,1154.3M358.2,1152.5L374.2,1168.5M358.2,1168.5L374.2,1152.5M359.9,1150.7L375.9,1166.7M359.9,1166.7L375.9,1150.7M361.6,1148.9L377.6,1164.9M361.6,1164.9L377.6,1148.9M363.3,1147.1L379.3,1163.1M363.3,1163.1L379.3,1147.1M365.1,1145.3L381.1,1161.3M365.1,1161.3L381.1,1145.3M366.8,1143.5L382.8,1159.5M366.8,1159.5L382.8,1143.5M368.6,1141.7L384.6,1157.7M368.6,1157.7L384.6,1141.7M370.3,1139.9L386.3,1155.9M370.3,1155.9L386.3,1139.9M372.1,1138.2L388.1,1154.2M372.1,1154.2L388.1,1138.2M373.9,1136.5L389.9,1152.5M373.9,1152.5L389.9,1136.5M375.7,1134.7L391.7,1150.7M375.7,1150.7L391.7,1134.7M377.6,1133.0L393.6,1149.0M377.6,1149.0L393.6,1133.0M379.4,1131.4L395.4,1147.4M379.4,1147.4L395.4,1131.4M381.3,1129.7L397.3,1145.7M381.3,1145.7L397.3,1129.7M383.2,1128.1L399.2,1144.1M383.2,1144.1L399.2,1128.1M385.1,1126.5L401.1,1142.5M385.1,1142.5L401.1,1126.5M387.0,1124.8L403.0,1140.8M387.0,1140.8L403.0,1124.8M388.8,1123.1L404.8,1139.1M388.8,1139.1L404.8,1123.1M390.7,1121.5L406.7,1137.5M390.7,1137.5L406.7,1121.5M392.6,1119.8L408.6,1135.8M392.6,1135.8L408.6,1119.8M394.4,1118.1L410.4,1134.1M394.4,1134.1L410.4,1118.1M396.3,1116.5L412.3,1132.5M396.3,1132.5L412.3,1116.5M398.1,1114.8L414.1,1130.8M398.1,1130.8L414.1,1114.8M400.0,1113.1L416.0,1129.1M400.0,1129.1L416.0,1113.1M401.9,1111.4L417.9,1127.4M401.9,1127.4L417.9,1111.4M403.7,1109.8L419.7,1125.8M403.7,1125.8L419.7,1109.8M405.6,1108.1L421.6,1124.1M405.6,1124.1L421.6,1108.1M407.5,1106.5L423.5,1122.5M407.5,1122.5L423.5,1106.5M409.4,1104.9L425.4,1120.9M409.4,1120.9L425.4,1104.9M411.3,1103.3L427.3,1119.3M411.3,1119.3L427.3,1103.3M413.2,1101.7L429.2,1117.7M413.2,1117.7L429.2,1101.7M415.2,1100.1L431.2,1116.1M415.2,1116.1L431.2,1100.1M417.1,1098.5L433.1,1114.5M417.1,1114.5L433.1,1098.5M419.1,1097.0L435.1,1113.0M419.1,1113.0L435.1,1097.0M421.1,1095.5L437.1,1111.5M421.1,1111.5L437.1,1095.5M423.1,1094.1L439.1,1110.1M423.1,1110.1L439.1,1094.1M425.2,1092.6L441.2,1108.6M425.2,1108.6L441.2,1092.6M427.3,1091.2L443.3,1107.2M427.3,1107.2L443.3,1091.2M429.4,1089.9L445.4,1105.9M429.4,1105.9L445.4,1089.9M431.5,1088.6L447.5,1104.6M431.5,1104.6L447.5,1088.6M433.7,1087.4L449.7,1103.4M433.7,1103.4L449.7,1087.4M435.9,1086.2L451.9,1102.2M435.9,1102.2L451.9,1086.2M438.1,1085.1L454.1,1101.1M438.1,1101.1L454.1,1085.1M440.4,1084.1L456.4,1100.1M440.4,1100.1L456.4,1084.1M442.8,1083.2L458.8,1099.2M442.8,1099.2L458.8,1083.2M445.1,1082.4L461.1,1098.4M445.1,1098.4L461.1,1082.4M447.5,1081.7L463.5,1097.7M447.5,1097.7L463.5,1081.7M450.0,1081.1L466.0,1097.1M450.0,1097.1L466.0,1081.1M452.4,1080.5L468.4,1096.5M452.4,1096.5L468.4,1080.5M454.8,1079.9L470.8,1095.9M454.8,1095.9L470.8,1079.9M457.2,1079.3L473.2,1095.3M457.2,1095.3L473.2,1079.3M459.7,1078.8L475.7,1094.8M459.7,1094.8L475.7,1078.8M462.1,1078.2L478.1,1094.2M462.1,1094.2L478.1,1078.2M464.6,1077.7L480.6,1093.7M464.6,1093.7L480.6,1077.7M467.0,1077.2L483.0,1093.2M467.0,1093.2L483.0,1077.2M469.5,1076.7L485.5,1092.7M469.5,1092.7L485.5,1076.7M471.9,1076.2L487.9,1092.2M471.9,1092.2L487.9,1076.2M474.4,1075.7L490.4,1091.7M474.4,1091.7L490.4,1075.7M476.8,1075.3L492.8,1091.3M476.8,1091.3L492.8,1075.3M479.3,1074.9L495.3,1090.9M479.3,1090.9L495.3,1074.9M481.8,1074.5L497.8,1090.5M481.8,1090.5L497.8,1074.5M484.3,1074.2L500.3,1090.2M484.3,1090.2L500.3,1074.2M486.7,1073.8L502.7,1089.8M486.7,1089.8L502.7,1073.8M489.2,1073.5L505.2,1089.5M489.2,1089.5L505.2,1073.5M491.7,1073.2L507.7,1089.2M491.7,1089.2L507.7,1073.2M494.2,1073.0L510.2,1089.0M494.2,1089.0L510.2,1073.0M496.7,1072.7L512.7,1088.7M496.7,1088.7L512.7,1072.7M499.2,1072.5L515.2,1088.5M499.2,1088.5L515.2,1072.5M501.7,1072.4L517.7,1088.4M501.7,1088.4L517.7,1072.4M504.1,1072.2L520.1,1088.2M504.1,1088.2L520.1,1072.2M506.6,1072.1L522.6,1088.1M506.6,1088.1L522.6,1072.1M509.1,1072.1L525.1,1088.1M509.1,1088.1L525.1,1072.1M511.6,1072.3L527.6,1088.3M511.6,1088.3L527.6,1072.3M514.1,1072.6L530.1,1088.6M514.1,1088.6L530.1,1072.6M516.6,1073.2L532.6,1089.2M516.6,1089.2L532.6,1073.2M519.0,1073.8L535.0,1089.8M519.0,1089.8L535.0,1073.8M521.3,1074.6L537.3,1090.6M521.3,1090.6L537.3,1074.6M523.7,1075.5L539.7,1091.5M523.7,1091.5L539.7,1075.5M526.0,1076.5L542.0,1092.5M526.0,1092.5L542.0,1076.5M528.2,1077.5L544.2,1093.5M528.2,1093.5L544.2,1077.5M530.5,1078.7L546.5,1094.7M530.5,1094.7L546.5,1078.7M532.7,1079.8L548.7,1095.8M532.7,1095.8L548.7,1079.8M534.9,1081.0L550.9,1097.0M534.9,1097.0L550.9,1081.0M537.1,1082.2L553.1,1098.2M537.1,1098.2L553.1,1082.2M539.3,1083.4L555.3,1099.4M539.3,1099.4L555.3,1083.4M541.4,1084.7L557.4,1100.7M541.4,1100.7L557.4,1084.7M543.6,1085.9L559.6,1101.9M543.6,1101.9L559.6,1085.9M545.8,1087.1L561.8,1103.1M545.8,1103.1L561.8,1087.1M548.0,1088.3L564.0,1104.3M548.0,1104.3L564.0,1088.3M550.1,1089.6L566.1,1105.6M550.1,1105.6L566.1,1089.6M552.2,1090.9L568.2,1106.9M552.2,1106.9L568.2,1090.9M554.3,1092.4L570.3,1108.4M554.3,1108.4L570.3,1092.4M556.3,1093.8L572.3,1109.8M556.3,1109.8L572.3,1093.8M558.3,1095.3L574.3,1111.3M558.3,1111.3L574.3,1095.3M560.3,1096.9L576.3,1112.9M560.3,1112.9L576.3,1096.9M562.2,1098.4L578.2,1114.4M562.2,1114.4L578.2,1098.4M564.2,1100.0L580.2,1116.0M564.2,1116.0L580.2,1100.0M566.1,1101.6L582.1,1117.6M566.1,1117.6L582.1,1101.6M568.0,1103.3L584.0,1119.3M568.0,1119.3L584.0,1103.3M569.8,1104.9L585.8,1120.9M569.8,1120.9L585.8,1104.9M571.7,1106.6L587.7,1122.6M571.7,1122.6L587.7,1106.6M573.6,1108.3L589.6,1124.3M573.6,1124.3L589.6,1108.3M575.4,1110.0L591.4,1126.0M575.4,1126.0L591.4,1110.0M577.2,1111.7L593.2,1127.7M577.2,1127.7L593.2,1111.7M579.1,1113.4L595.1,1129.4M579.1,1129.4L595.1,1113.4M580.9,1115.1L596.9,1131.1M580.9,1131.1L596.9,1115.1M582.7,1116.8L598.7,1132.8M582.7,1132.8L598.7,1116.8M584.6,1118.5L600.6,1134.5M584.6,1134.5L600.6,1118.5M586.4,1120.2L602.4,1136.2M586.4,1136.2L602.4,1120.2M588.2,1121.9L604.2,1137.9M588.2,1137.9L604.2,1121.9M589.9,1123.7L605.9,1139.7M589.9,1139.7L605.9,1123.7M591.6,1125.5L607.6,1141.5M591.6,1141.5L607.6,1125.5M593.4,1127.3L609.4,1143.3M593.4,1143.3L609.4,1127.3M595.1,1129.2L611.1,1145.2M595.1,1145.2L611.1,1129.2M596.8,1131.0L612.8,1147.0M596.8,1147.0L612.8,1131.0M598.4,1132.9L614.4,1148.9M598.4,1148.9L614.4,1132.9M600.1,1134.7L616.1,1150.7M600.1,1150.7L616.1,1134.7M601.8,1136.6L617.8,1152.6M601.8,1152.6L617.8,1136.6M603.4,1138.5L619.4,1154.5M603.4,1154.5L619.4,1138.5M605.1,1140.3L621.1,1156.3M605.1,1156.3L621.1,1140.3M606.7,1142.2L622.7,1158.2M606.7,1158.2L622.7,1142.2M608.4,1144.1L624.4,1160.1M608.4,1160.1L624.4,1144.1M610.1,1146.0L626.1,1162.0M610.1,1162.0L626.1,1146.0M611.7,1147.8L627.7,1163.8M611.7,1163.8L627.7,1147.8M613.4,1149.7L629.4,1165.7M613.4,1165.7L629.4,1149.7M615.1,1151.5L631.1,1167.5M615.1,1167.5L631.1,1151.5M616.7,1153.4L632.7,1169.4M616.7,1169.4L632.7,1153.4M618.4,1155.2L634.4,1171.2M618.4,1171.2L634.4,1155.2M620.1,1157.1L636.1,1173.1M620.1,1173.1L636.1,1157.1M621.8,1158.9L637.8,1174.9M621.8,1174.9L637.8,1158.9M623.5,1160.8L639.5,1176.8M623.5,1176.8L639.5,1160.8M625.2,1162.6L641.2,1178.6M625.2,1178.6L641.2,1162.6M626.8,1164.5L642.8,1180.5M626.8,1180.5L642.8,1164.5M628.5,1166.4L644.5,1182.4M628.5,1182.4L644.5,1166.4M630.2,1168.2L646.2,1184.2M630.2,1184.2L646.2,1168.2M631.8,1170.1L647.8,1186.1M631.8,1186.1L647.8,1170.1M633.5,1171.9L649.5,1187.9M633.5,1187.9L649.5,1171.9M635.2,1173.8L651.2,1189.8M635.2,1189.8L651.2,1173.8M636.8,1175.7L652.8,1191.7M636.8,1191.7L652.8,1175.7M638.5,1177.5L654.5,1193.5M638.5,1193.5L654.5,1177.5M640.2,1179.4L656.2,1195.4M640.2,1195.4L656.2,1179.4M641.9,1181.2L657.9,1197.2M641.9,1197.2L657.9,1181.2M643.5,1183.1L659.5,1199.1M643.5,1199.1L659.5,1183.1M645.2,1184.9L661.2,1200.9M645.2,1200.9L661.2,1184.9M646.9,1186.8L662.9,1202.8M646.9,1202.8L662.9,1186.8M648.6,1188.6L664.6,1204.6M648.6,1204.6L664.6,1188.6M650.3,1190.4L666.3,1206.4M650.3,1206.4L666.3,1190.4M652.0,1192.3L668.0,1208.3M652.0,1208.3L668.0,1192.3M653.7,1194.1L669.7,1210.1M653.7,1210.1L669.7,1194.1M655.5,1195.9L671.5,1211.9M655.5,1211.9L671.5,1195.9M657.2,1197.7L673.2,1213.7M657.2,1213.7L673.2,1197.7M658.9,1199.5L674.9,1215.5M658.9,1215.5L674.9,1199.5M660.7,1201.3L676.7,1217.3M660.7,1217.3L676.7,1201.3M662.5,1203.0L678.5,1219.0M662.5,1219.0L678.5,1203.0M664.3,1204.8L680.3,1220.8M664.3,1220.8L680.3,1204.8M666.0,1206.5L682.0,1222.5M666.0,1222.5L682.0,1206.5M667.8,1208.3L683.8,1224.3M667.8,1224.3L683.8,1208.3M669.6,1210.1L685.6,1226.1M669.6,1226.1L685.6,1210.1M671.4,1211.8L687.4,1227.8M671.4,1227.8L687.4,1211.8M673.2,1213.5L689.2,1229.5M673.2,1229.5L689.2,1213.5M675.0,1215.3L691.0,1231.3M675.0,1231.3L691.0,1215.3M676.8,1217.0L692.8,1233.0M676.8,1233.0L692.8,1217.0M678.6,1218.7L694.6,1234.7M678.6,1234.7L694.6,1218.7M680.4,1220.5L696.4,1236.5M680.4,1236.5L696.4,1220.5M682.2,1222.2L698.2,1238.2M682.2,1238.2L698.2,1222.2M684.0,1223.9L700.0,1239.9M684.0,1239.9L700.0,1223.9M685.9,1225.6L701.9,1241.6M685.9,1241.6L701.9,1225.6M687.7,1227.3L703.7,1243.3M687.7,1243.3L703.7,1227.3M689.6,1229.0L705.6,1245.0M689.6,1245.0L705.6,1229.0M691.4,1230.6L707.4,1246.6M691.4,1246.6L707.4,1230.6M693.3,1232.3L709.3,1248.3M693.3,1248.3L709.3,1232.3M695.1,1234.0L711.1,1250.0M695.1,1250.0L711.1,1234.0M697.0,1235.6L713.0,1251.6M697.0,1251.6L713.0,1235.6M698.9,1237.3L714.9,1253.3M698.9,1253.3L714.9,1237.3M700.8,1238.9L716.8,1254.9M700.8,1254.9L716.8,1238.9M702.7,1240.5L718.7,1256.5M702.7,1256.5L718.7,1240.5M704.6,1242.1L720.6,1258.1M704.6,1258.1L720.6,1242.1M706.5,1243.7L722.5,1259.7M706.5,1259.7L722.5,1243.7M708.5,1245.3L724.5,1261.3M708.5,1261.3L724.5,1245.3M710.4,1246.9L726.4,1262.9M710.4,1262.9L726.4,1246.9M712.4,1248.4L728.4,1264.4M712.4,1264.4L728.4,1248.4M714.3,1250.0L730.3,1266.0M714.3,1266.0L730.3,1250.0M716.3,1251.5L732.3,1267.5M716.3,1267.5L732.3,1251.5M718.2,1253.1L734.2,1269.1M718.2,1269.1L734.2,1253.1M720.2,1254.6L736.2,1270.6M720.2,1270.6L736.2,1254.6M722.2,1256.2L738.2,1272.2M722.2,1272.2L738.2,1256.2M724.2,1257.7L740.2,1273.7M724.2,1273.7L740.2,1257.7M726.2,1259.2L742.2,1275.2M726.2,1275.2L742.2,1259.2M728.2,1260.7L744.2,1276.7M728.2,1276.7L744.2,1260.7M730.2,1262.2L746.2,1278.2M730.2,1278.2L746.2,1262.2M732.2,1263.7L748.2,1279.7M732.2,1279.7L748.2,1263.7M734.2,1265.2L750.2,1281.2M734.2,1281.2L750.2,1265.2M736.2,1266.6L752.2,1282.6M736.2,1282.6L752.2,1266.6M738.2,1268.1L754.2,1284.1M738.2,1284.1L754.2,1268.1M740.3,1269.5L756.3,1285.5M740.3,1285.5L756.3,1269.5M742.3,1271.0L758.3,1287.0M742.3,1287.0L758.3,1271.0M744.4,1272.4L760.4,1288.4M744.4,1288.4L760.4,1272.4M746.4,1273.8L762.4,1289.8M746.4,1289.8L762.4,1273.8M748.5,1275.2L764.5,1291.2M748.5,1291.2L764.5,1275.2M750.6,1276.6L766.6,1292.6M750.6,1292.6L766.6,1276.6M752.7,1278.0L768.7,1294.0M752.7,1294.0L768.7,1278.0M754.7,1279.4L770.7,1295.4M754.7,1295.4L770.7,1279.4M756.8,1280.8L772.8,1296.8M756.8,1296.8L772.8,1280.8M758.9,1282.1L774.9,1298.1M758.9,1298.1L774.9,1282.1M761.1,1283.4L777.1,1299.4M761.1,1299.4L777.1,1283.4M763.2,1284.8L779.2,1300.8M763.2,1300.8L779.2,1284.8M765.3,1286.1L781.3,1302.1M765.3,1302.1L781.3,1286.1M767.4,1287.4L783.4,1303.4M767.4,1303.4L783.4,1287.4M769.5,1288.7L785.5,1304.7M769.5,1304.7L785.5,1288.7M771.7,1290.0L787.7,1306.0M771.7,1306.0L787.7,1290.0M773.8,1291.3L789.8,1307.3M773.8,1307.3L789.8,1291.3M776.0,1292.6L792.0,1308.6M776.0,1308.6L792.0,1292.6M778.1,1293.9L794.1,1309.9M778.1,1309.9L794.1,1293.9M780.3,1295.2L796.3,1311.2M780.3,1311.2L796.3,1295.2M782.4,1296.4L798.4,1312.4M782.4,1312.4L798.4,1296.4M784.6,1297.7L800.6,1313.7M784.6,1313.7L800.6,1297.7M786.8,1298.9L802.8,1314.9M786.8,1314.9L802.8,1298.9M789.0,1300.1L805.0,1316.1M789.0,1316.1L805.0,1300.1M791.1,1301.3L807.1,1317.3M791.1,1317.3L807.1,1301.3M793.3,1302.5L809.3,1318.5M793.3,1318.5L809.3,1302.5M795.5,1303.7L811.5,1319.7M795.5,1319.7L811.5,1303.7M797.8,1304.9L813.8,1320.9M797.8,1320.9L813.8,1304.9M800.0,1306.0L816.0,1322.0M800.0,1322.0L816.0,1306.0M802.2,1307.1L818.2,1323.1M802.2,1323.1L818.2,1307.1M804.4,1308.3L820.4,1324.3M804.4,1324.3L820.4,1308.3M806.7,1309.4L822.7,1325.4M806.7,1325.4L822.7,1309.4M808.9,1310.4L824.9,1326.4M808.9,1326.4L824.9,1310.4M811.2,1311.5L827.2,1327.5M811.2,1327.5L827.2,1311.5M813.5,1312.5L829.5,1328.5M813.5,1328.5L829.5,1312.5M815.8,1313.5L831.8,1329.5M815.8,1329.5L831.8,1313.5M818.1,1314.5L834.1,1330.5M818.1,1330.5L834.1,1314.5M820.4,1315.5L836.4,1331.5M820.4,1331.5L836.4,1315.5M822.7,1316.5L838.7,1332.5M822.7,1332.5L838.7,1316.5M825.0,1317.5L841.0,1333.5M825.0,1333.5L841.0,1317.5M827.3,1318.4L843.3,1334.4M827.3,1334.4L843.3,1318.4M829.6,1319.3L845.6,1335.3M829.6,1335.3L845.6,1319.3M831.9,1320.3L847.9,1336.3M831.9,1336.3L847.9,1320.3M834.3,1321.2L850.3,1337.2M834.3,1337.2L850.3,1321.2M836.6,1322.1L852.6,1338.1M836.6,1338.1L852.6,1322.1M838.9,1323.0L854.9,1339.0M838.9,1339.0L854.9,1323.0M841.3,1323.8L857.3,1339.8M841.3,1339.8L857.3,1323.8M843.6,1324.7L859.6,1340.7M843.6,1340.7L859.6,1324.7M846.0,1325.6L862.0,1341.6M846.0,1341.6L862.0,1325.6M848.3,1326.4L864.3,1342.4M848.3,1342.4L864.3,1326.4M850.7,1327.3L866.7,1343.3M850.7,1343.3L866.7,1327.3M853.0,1328.1L869.0,1344.1M853.0,1344.1L869.0,1328.1M855.4,1328.9L871.4,1344.9M855.4,1344.9L871.4,1328.9M857.7,1329.8L873.7,1345.8M857.7,1345.8L873.7,1329.8M860.1,1330.6L876.1,1346.6M860.1,1346.6L876.1,1330.6M862.4,1331.4L878.4,1347.4M862.4,1347.4L878.4,1331.4M864.8,1332.3L880.8,1348.3M864.8,1348.3L880.8,1332.3M867.2,1333.1L883.2,1349.1M867.2,1349.1L883.2,1333.1M869.5,1333.9L885.5,1349.9M869.5,1349.9L885.5,1333.9M871.9,1334.7L887.9,1350.7M871.9,1350.7L887.9,1334.7M874.3,1335.4L890.3,1351.4M874.3,1351.4L890.3,1335.4M876.7,1336.2L892.7,1352.2M876.7,1352.2L892.7,1336.2M879.0,1337.0L895.0,1353.0M879.0,1353.0L895.0,1337.0M881.4,1337.7L897.4,1353.7M881.4,1353.7L897.4,1337.7M883.8,1338.5L899.8,1354.5M883.8,1354.5L899.8,1338.5M886.2,1339.2L902.2,1355.2M886.2,1355.2L902.2,1339.2M888.6,1340.0L904.6,1356.0M888.6,1356.0L904.6,1340.0M890.9,1340.8L906.9,1356.8M890.9,1356.8L906.9,1340.8M893.3,1341.6L909.3,1357.6M893.3,1357.6L909.3,1341.6M895.7,1342.3L911.7,1358.3M895.7,1358.3L911.7,1342.3M898.1,1343.1L914.1,1359.1M898.1,1359.1L914.1,1343.1M900.4,1343.9L916.4,1359.9M900.4,1359.9L916.4,1343.9M902.8,1344.7L918.8,1360.7M902.8,1360.7L918.8,1344.7M905.2,1345.5L921.2,1361.5M905.2,1361.5L921.2,1345.5M907.6,1346.3L923.6,1362.3M907.6,1362.3L923.6,1346.3M909.9,1347.1L925.9,1363.1M909.9,1363.1L925.9,1347.1M912.3,1347.9L928.3,1363.9M912.3,1363.9L928.3,1347.9M914.7,1348.7L930.7,1364.7M914.7,1364.7L930.7,1348.7M917.0,1349.5L933.0,1365.5M917.0,1365.5L933.0,1349.5M919.4,1350.3L935.4,1366.3M919.4,1366.3L935.4,1350.3M921.8,1351.1L937.8,1367.1M921.8,1367.1L937.8,1351.1M924.1,1351.9L940.1,1367.9M924.1,1367.9L940.1,1351.9M926.5,1352.7L942.5,1368.7M926.5,1368.7L942.5,1352.7M928.9,1353.5L944.9,1369.5M928.9,1369.5L944.9,1353.5M931.3,1354.3L947.3,1370.3M931.3,1370.3L947.3,1354.3M933.6,1355.1L949.6,1371.1M933.6,1371.1L949.6,1355.1M936.0,1355.8L952.0,1371.8M936.0,1371.8L952.0,1355.8M938.4,1356.6L954.4,1372.6M938.4,1372.6L954.4,1356.6M940.7,1357.4L956.7,1373.4M940.7,1373.4L956.7,1357.4M943.1,1358.2L959.1,1374.2M943.1,1374.2L959.1,1358.2M945.5,1359.0L961.5,1375.0M945.5,1375.0L961.5,1359.0M947.9,1359.7L963.9,1375.7M947.9,1375.7L963.9,1359.7M950.3,1360.5L966.3,1376.5M950.3,1376.5L966.3,1360.5M952.6,1361.3L968.6,1377.3M952.6,1377.3L968.6,1361.3M955.0,1362.0L971.0,1378.0M955.0,1378.0L971.0,1362.0M957.4,1362.8L973.4,1378.8M957.4,1378.8L973.4,1362.8M959.8,1363.5L975.8,1379.5M959.8,1379.5L975.8,1363.5M962.2,1364.3L978.2,1380.3M962.2,1380.3L978.2,1364.3M964.6,1365.0L980.6,1381.0M964.6,1381.0L980.6,1365.0M967.0,1365.7L983.0,1381.7M967.0,1381.7L983.0,1365.7M969.4,1366.4L985.4,1382.4M969.4,1382.4L985.4,1366.4M971.8,1367.1L987.8,1383.1M971.8,1383.1L987.8,1367.1M974.2,1367.8L990.2,1383.8M974.2,1383.8L990.2,1367.8M976.6,1368.5L992.6,1384.5M976.6,1384.5L992.6,1368.5M979.0,1369.2L995.0,1385.2M979.0,1385.2L995.0,1369.2M981.4,1369.9L997.4,1385.9M981.4,1385.9L997.4,1369.9M983.8,1370.5L999.8,1386.5M983.8,1386.5L999.8,1370.5M986.2,1371.2L1002.2,1387.2M986.2,1387.2L1002.2,1371.2M988.6,1371.9L1004.6,1387.9M988.6,1387.9L1004.6,1371.9M991.0,1372.5L1007.0,1388.5M991.0,1388.5L1007.0,1372.5M993.4,1373.2L1009.4,1389.2M993.4,1389.2L1009.4,1373.2M995.8,1373.8L1011.8,1389.8M995.8,1389.8L1011.8,1373.8M998.3,1374.4L1014.3,1390.4M998.3,1390.4L1014.3,1374.4M1000.7,1375.1L1016.7,1391.1M1000.7,1391.1L1016.7,1375.1M1003.1,1375.7L1019.1,1391.7M1003.1,1391.7L1019.1,1375.7M1005.5,1376.3L1021.5,1392.3M1005.5,1392.3L1021.5,1376.3M1007.9,1376.9L1023.9,1392.9M1007.9,1392.9L1023.9,1376.9M1010.4,1377.6L1026.4,1393.6M1010.4,1393.6L1026.4,1377.6M1012.8,1378.2L1028.8,1394.2M1012.8,1394.2L1028.8,1378.2M1015.2,1378.8L1031.2,1394.8M1015.2,1394.8L1031.2,1378.8M1017.6,1379.4L1033.6,1395.4M1017.6,1395.4L1033.6,1379.4M1020.1,1380.0L1036.1,1396.0M1020.1,1396.0L1036.1,1380.0M1022.5,1380.6L1038.5,1396.6M1022.5,1396.6L1038.5,1380.6M1024.9,1381.2L1040.9,1397.2M1024.9,1397.2L1040.9,1381.2M1027.4,1381.8L1043.4,1397.8M1027.4,1397.8L1043.4,1381.8M1029.8,1382.4L1045.8,1398.4M1029.8,1398.4L1045.8,1382.4M1032.2,1383.0L1048.2,1399.0M1032.2,1399.0L1048.2,1383.0M1034.6,1383.5L1050.6,1399.5M1034.6,1399.5L1050.6,1383.5M1037.1,1384.1L1053.1,1400.1M1037.1,1400.1L1053.1,1384.1M1039.5,1384.7L1055.5,1400.7M1039.5,1400.7L1055.5,1384.7M1041.9,1385.3L1057.9,1401.3M1041.9,1401.3L1057.9,1385.3M1044.4,1385.8L1060.4,1401.8M1044.4,1401.8L1060.4,1385.8M1046.8,1386.4L1062.8,1402.4M1046.8,1402.4L1062.8,1386.4M1049.2,1387.0L1065.2,1403.0M1049.2,1403.0L1065.2,1387.0M1051.7,1387.5L1067.7,1403.5M1051.7,1403.5L1067.7,1387.5M1054.1,1388.1L1070.1,1404.1M1054.1,1404.1L1070.1,1388.1M1056.6,1388.6L1072.6,1404.6M1056.6,1404.6L1072.6,1388.6M1059.0,1389.2L1075.0,1405.2M1059.0,1405.2L1075.0,1389.2M1061.4,1389.7L1077.4,1405.7M1061.4,1405.7L1077.4,1389.7M1063.9,1390.3L1079.9,1406.3M1063.9,1406.3L1079.9,1390.3M1066.3,1390.8L1082.3,1406.8M1066.3,1406.8L1082.3,1390.8M1068.8,1391.4L1084.8,1407.4M1068.8,1407.4L1084.8,1391.4M1071.2,1391.9L1087.2,1407.9M1071.2,1407.9L1087.2,1391.9M1073.6,1392.5L1089.6,1408.5M1073.6,1408.5L1089.6,1392.5M1076.1,1393.0L1092.1,1409.0M1076.1,1409.0L1092.1,1393.0M1078.5,1393.5L1094.5,1409.5M1078.5,1409.5L1094.5,1393.5M1081.0,1394.1L1097.0,1410.1M1081.0,1410.1L1097.0,1394.1M1083.4,1394.6L1099.4,1410.6M1083.4,1410.6L1099.4,1394.6M1085.8,1395.1L1101.8,1411.1M1085.8,1411.1L1101.8,1395.1M1088.3,1395.6L1104.3,1411.6M1088.3,1411.6L1104.3,1395.6M1090.7,1396.2L1106.7,1412.2M1090.7,1412.2L1106.7,1396.2M1093.2,1396.7L1109.2,1412.7M1093.2,1412.7L1109.2,1396.7M1095.6,1397.2L1111.6,1413.2M1095.6,1413.2L1111.6,1397.2M1098.1,1397.7L1114.1,1413.7M1098.1,1413.7L1114.1,1397.7M1100.5,1398.3L1116.5,1414.3M1100.5,1414.3L1116.5,1398.3M1103.0,1398.8L1119.0,1414.8M1103.0,1414.8L1119.0,1398.8M1105.4,1399.3L1121.4,1415.3M1105.4,1415.3L1121.4,1399.3M1107.9,1399.8L1123.9,1415.8M1107.9,1415.8L1123.9,1399.8M1110.3,1400.3L1126.3,1416.3M1110.3,1416.3L1126.3,1400.3M1112.8,1400.8L1128.8,1416.8M1112.8,1416.8L1128.8,1400.8M1115.2,1401.3L1131.2,1417.3M1115.2,1417.3L1131.2,1401.3M1117.7,1401.8L1133.7,1417.8M1117.7,1417.8L1133.7,1401.8M1120.1,1402.3L1136.1,1418.3M1120.1,1418.3L1136.1,1402.3M1122.6,1402.8L1138.6,1418.8M1122.6,1418.8L1138.6,1402.8M1125.0,1403.3L1141.0,1419.3M1125.0,1419.3L1141.0,1403.3M1127.5,1403.8L1143.5,1419.8M1127.5,1419.8L1143.5,1403.8M1129.9,1404.3L1145.9,1420.3M1129.9,1420.3L1145.9,1404.3M1132.4,1404.7L1148.4,1420.7M1132.4,1420.7L1148.4,1404.7M1134.8,1405.2L1150.8,1421.2M1134.8,1421.2L1150.8,1405.2M1137.3,1405.7L1153.3,1421.7M1137.3,1421.7L1153.3,1405.7M1139.7,1406.2L1155.7,1422.2M1139.7,1422.2L1155.7,1406.2M1142.2,1406.6L1158.2,1422.6M1142.2,1422.6L1158.2,1406.6M1144.6,1407.1L1160.6,1423.1M1144.6,1423.1L1160.6,1407.1M1147.1,1407.6L1163.1,1423.6M1147.1,1423.6L1163.1,1407.6M1149.6,1408.0L1165.6,1424.0M1149.6,1424.0L1165.6,1408.0M1152.0,1408.5L1168.0,1424.5M1152.0,1424.5L1168.0,1408.5M1154.5,1408.9L1170.5,1424.9M1154.5,1424.9L1170.5,1408.9M1156.9,1409.4L1172.9,1425.4M1156.9,1425.4L1172.9,1409.4M1159.4,1409.8L1175.4,1425.8M1159.4,1425.8L1175.4,1409.8M1161.8,1410.3L1177.8,1426.3M1161.8,1426.3L1177.8,1410.3M1164.3,1410.7L1180.3,1426.7M1164.3,1426.7L1180.3,1410.7M1166.8,1411.1L1182.8,1427.1M1166.8,1427.1L1182.8,1411.1M1169.2,1411.6L1185.2,1427.6M1169.2,1427.6L1185.2,1411.6M1171.7,1412.0L1187.7,1428.0M1171.7,1428.0L1187.7,1412.0M1174.2,1412.4L1190.2,1428.4M1174.2,1428.4L1190.2,1412.4M1176.6,1412.8L1192.6,1428.8M1176.6,1428.8L1192.6,1412.8M1179.1,1413.3L1195.1,1429.3M1179.1,1429.3L1195.1,1413.3M1181.6,1413.7L1197.6,1429.7M1181.6,1429.7L1197.6,1413.7M1184.0,1414.1L1200.0,1430.1M1184.0,1430.1L1200.0,1414.1M1186.5,1414.5L1202.5,1430.5M1186.5,1430.5L1202.5,1414.5M1188.9,1414.9L1204.9,1430.9M1188.9,1430.9L1204.9,1414.9M1191.4,1415.3L1207.4,1431.3M1191.4,1431.3L1207.4,1415.3M1193.9,1415.8L1209.9,1431.8M1193.9,1431.8L1209.9,1415.8M1196.3,1416.2L1212.3,1432.2M1196.3,1432.2L1212.3,1416.2M1198.8,1416.6L1214.8,1432.6M1198.8,1432.6L1214.8,1416.6M1201.3,1417.0L1217.3,1433.0M1201.3,1433.0L1217.3,1417.0M1203.8,1417.4L1219.8,1433.4M1203.8,1433.4L1219.8,1417.4M1206.2,1417.8L1222.2,1433.8M1206.2,1433.8L1222.2,1417.8M1208.7,1418.1L1224.7,1434.1M1208.7,1434.1L1224.7,1418.1M1211.2,1418.5L1227.2,1434.5M1211.2,1434.5L1227.2,1418.5M1213.6,1418.9L1229.6,1434.9M1213.6,1434.9L1229.6,1418.9M1216.1,1419.3L1232.1,1435.3M1216.1,1435.3L1232.1,1419.3M1218.6,1419.7L1234.6,1435.7M1218.6,1435.7L1234.6,1419.7M1221.0,1420.1L1237.0,1436.1M1221.0,1436.1L1237.0,1420.1M1223.5,1420.5L1239.5,1436.5M1223.5,1436.5L1239.5,1420.5M1226.0,1420.8L1242.0,1436.8M1226.0,1436.8L1242.0,1420.8M1228.5,1421.2L1244.5,1437.2M1228.5,1437.2L1244.5,1421.2M1230.9,1421.6L1246.9,1437.6M1230.9,1437.6L1246.9,1421.6M1233.4,1421.9L1249.4,1437.9M1233.4,1437.9L1249.4,1421.9M1235.9,1422.3L1251.9,1438.3M1235.9,1438.3L1251.9,1422.3M1238.3,1422.7L1254.3,1438.7M1238.3,1438.7L1254.3,1422.7M1240.8,1423.0L1256.8,1439.0M1240.8,1439.0L1256.8,1423.0M1243.3,1423.4L1259.3,1439.4M1243.3,1439.4L1259.3,1423.4M1245.8,1423.7L1261.8,1439.7M1245.8,1439.7L1261.8,1423.7M1248.2,1424.1L1264.2,1440.1M1248.2,1440.1L1264.2,1424.1M1250.7,1424.4L1266.7,1440.4M1250.7,1440.4L1266.7,1424.4M1253.2,1424.8L1269.2,1440.8M1253.2,1440.8L1269.2,1424.8M1255.7,1425.1L1271.7,1441.1M1255.7,1441.1L1271.7,1425.1M1258.2,1425.4L1274.2,1441.4M1258.2,1441.4L1274.2,1425.4M1260.6,1425.8L1276.6,1441.8M1260.6,1441.8L1276.6,1425.8M1263.1,1426.1L1279.1,1442.1M1263.1,1442.1L1279.1,1426.1" stroke="#1e1e1e" stroke-width="1.3" fill="none"/>
<path d="M138.4,1477.9 L142.2,1470.1 L146.0,1462.4 L149.8,1454.8 L153.6,1447.4 L157.3,1440.1 L161.1,1432.9 L164.9,1425.9 L168.7,1419.0 L172.5,1412.3 L176.3,1405.7 L180.1,1399.3 L183.9,1393.1 L187.7,1387.0 L191.4,1381.2 L195.2,1375.5 L199.0,1370.0 L202.8,1364.6 L206.6,1359.2 L210.4,1353.9 L214.2,1348.6 L218.0,1343.3 L221.7,1337.9 L225.5,1332.5 L229.3,1327.0 L233.1,1321.4 L236.9,1315.8 L240.7,1310.2 L244.5,1304.5 L248.3,1298.9 L252.1,1293.4 L255.8,1287.9 L259.6,1282.5 L263.4,1277.2 L267.2,1272.1 L271.0,1267.1 L274.8,1262.2 L278.6,1257.4 L282.4,1252.6 L286.2,1247.9 L289.9,1243.3 L293.7,1238.8 L297.5,1234.3 L301.3,1229.9 L305.1,1225.6 L308.9,1221.2 L312.7,1217.0 L316.5,1212.8 L320.3,1208.6 L324.0,1204.6 L327.8,1200.6 L331.6,1196.6 L335.4,1192.7 L339.2,1188.8 L343.0,1184.9 L346.8,1181.0 L350.6,1177.1 L354.4,1173.1 L358.1,1169.1 L361.9,1165.0 L365.7,1161.0 L369.5,1157.0 L373.3,1153.0 L377.1,1149.2 L380.9,1145.5 L384.7,1141.9 L388.4,1138.5 L392.2,1135.2 L396.0,1131.9 L399.8,1128.5 L403.6,1125.1 L407.4,1121.7 L411.2,1118.3 L415.0,1115.0 L418.8,1111.7 L422.5,1108.6 L426.3,1105.6 L430.1,1102.8 L433.9,1100.1 L437.7,1097.7 L441.5,1095.5 L445.3,1093.5 L449.1,1091.8 L452.9,1090.4 L456.6,1089.4 L460.4,1088.5 L464.2,1087.6 L468.0,1086.7 L471.8,1085.8 L475.6,1085.1 L479.4,1084.3 L483.2,1083.6 L487.0,1083.0 L490.7,1082.4 L494.5,1081.9 L498.3,1081.4 L502.1,1081.0 L505.9,1080.6 L509.7,1080.4 L513.5,1080.2 L517.3,1080.1 L521.1,1080.5 L524.8,1081.2 L528.6,1082.4 L532.4,1083.8 L536.2,1085.5 L540.0,1087.5 L543.8,1089.5 L547.6,1091.6 L551.4,1093.7 L555.1,1095.8 L558.9,1098.1 L562.7,1100.7 L566.5,1103.5 L570.3,1106.5 L574.1,1109.6 L577.9,1113.0 L581.7,1116.4 L585.5,1119.8 L589.2,1123.4 L593.0,1126.9 L596.8,1130.6 L600.6,1134.5 L604.4,1138.6 L608.2,1142.8 L612.0,1147.1 L615.8,1151.4 L619.6,1155.7 L623.3,1159.9 L627.1,1164.0 L630.9,1168.2 L634.7,1172.4 L638.5,1176.6 L642.3,1180.8 L646.1,1185.0 L649.9,1189.3 L653.7,1193.4 L657.4,1197.5 L661.2,1201.6 L665.0,1205.5 L668.8,1209.4 L672.6,1213.1 L676.4,1216.9 L680.2,1220.6 L684.0,1224.2 L687.8,1227.8 L691.5,1231.4 L695.3,1234.9 L699.1,1238.4 L702.9,1241.8 L706.7,1245.1 L710.5,1248.3 L714.3,1251.5 L718.1,1254.6 L721.8,1257.6 L725.6,1260.6 L729.4,1263.6 L733.2,1266.5 L737.0,1269.3 L740.8,1272.1 L744.6,1274.9 L748.4,1277.6 L752.2,1280.3 L755.9,1282.9 L759.7,1285.4 L763.5,1287.9 L767.3,1290.3 L771.1,1292.7 L774.9,1295.1 L778.7,1297.4 L782.5,1299.7 L786.3,1302.0 L790.0,1304.2 L793.8,1306.4 L797.6,1308.5 L801.4,1310.6 L805.2,1312.6 L809.0,1314.5 L812.8,1316.4 L816.6,1318.2 L820.4,1320.0 L824.1,1321.7 L827.9,1323.4 L831.7,1324.9 L835.5,1326.5 L839.3,1328.0 L843.1,1329.5 L846.9,1330.9 L850.7,1332.3 L854.5,1333.7 L858.2,1335.1 L862.0,1336.5 L865.8,1337.8 L869.6,1339.1 L873.4,1340.5 L877.2,1341.8 L881.0,1343.0 L884.8,1344.2 L888.5,1345.4 L892.3,1346.6 L896.1,1347.9 L899.9,1349.1 L903.7,1350.3 L907.5,1351.6 L911.3,1352.9 L915.1,1354.1 L918.9,1355.4 L922.6,1356.7 L926.4,1358.0 L930.2,1359.2 L934.0,1360.5 L937.8,1361.8 L941.6,1363.0 L945.4,1364.3 L949.2,1365.5 L953.0,1366.8 L956.7,1368.0 L960.5,1369.2 L964.3,1370.4 L968.1,1371.6 L971.9,1372.8 L975.7,1373.9 L979.5,1375.0 L983.3,1376.1 L987.1,1377.2 L990.8,1378.3 L994.6,1379.3 L998.4,1380.3 L1002.2,1381.4 L1006.0,1382.4 L1009.8,1383.4 L1013.6,1384.3 L1017.4,1385.3 L1021.2,1386.3 L1024.9,1387.2 L1028.7,1388.2 L1032.5,1389.1 L1036.3,1390.0 L1040.1,1390.9 L1043.9,1391.8 L1047.7,1392.7 L1051.5,1393.6 L1055.2,1394.5 L1059.0,1395.4 L1062.8,1396.2 L1066.6,1397.1 L1070.4,1398.0 L1074.2,1398.8 L1078.0,1399.6 L1081.8,1400.5 L1085.6,1401.3 L1089.3,1402.1 L1093.1,1403.0 L1096.9,1403.8 L1100.7,1404.6 L1104.5,1405.4 L1108.3,1406.2 L1112.1,1407.0 L1115.9,1407.8 L1119.7,1408.6 L1123.4,1409.3 L1127.2,1410.1 L1131.0,1410.9 L1134.8,1411.6 L1138.6,1412.4 L1142.4,1413.1 L1146.2,1413.9 L1150.0,1414.6 L1153.8,1415.3 L1157.5,1416.0 L1161.3,1416.7 L1165.1,1417.4 L1168.9,1418.1 L1172.7,1418.8 L1176.5,1419.4 L1180.3,1420.1 L1184.1,1420.8 L1187.9,1421.4 L1191.6,1422.0 L1195.4,1422.7 L1199.2,1423.3 L1203.0,1423.9 L1206.8,1424.6 L1210.6,1425.2 L1214.4,1425.8 L1218.2,1426.4 L1221.9,1427.0 L1225.7,1427.6 L1229.5,1428.1 L1233.3,1428.7 L1237.1,1429.3 L1240.9,1429.9 L1244.7,1430.4 L1248.5,1431.0 L1252.3,1431.5 L1256.0,1432.0 L1259.8,1432.6 L1263.6,1433.1 L1267.4,1433.6 L1271.2,1434.1" fill="none" stroke="#000" stroke-width="5" stroke-linejoin="round"/>
<polygon points="516.0,1071.9 518.5,1071.8 521.1,1071.8 523.6,1072.1 526.1,1072.5 528.6,1073.1 531.2,1073.9 533.7,1074.7 536.2,1075.8 538.7,1077.1 541.3,1078.4 543.8,1079.8 546.3,1081.2 548.8,1082.6 551.4,1084.0 553.9,1085.4 556.4,1086.8 558.9,1088.4 561.5,1090.0 564.0,1091.8 566.5,1093.7 569.0,1095.7 571.6,1097.8 574.1,1099.9 576.6,1102.1 579.1,1104.3 581.7,1106.6 584.2,1108.9 586.7,1111.3 589.2,1113.6 591.8,1116.0 594.3,1118.4 596.8,1120.9 599.3,1123.5 601.9,1126.2 604.4,1128.9 606.9,1131.7 609.5,1134.5 612.0,1137.4 614.5,1140.2 617.0,1143.1 619.6,1145.9 622.1,1148.7 624.6,1151.5 627.1,1154.2 629.7,1157.0 632.2,1159.8 634.7,1162.6 637.2,1165.4 639.8,1168.3 642.3,1171.1 644.8,1173.9 647.3,1176.7 649.9,1179.5 652.4,1182.3 654.9,1185.1 657.4,1187.8 660.0,1190.5 662.5,1193.1 665.0,1195.8 667.5,1198.3 670.1,1200.9 672.6,1203.4 675.1,1205.9 677.6,1208.4 680.2,1210.8 682.7,1213.3 685.2,1215.7 687.8,1218.1 690.3,1220.5 692.8,1222.8 695.3,1225.2 697.9,1227.5 700.4,1229.8 702.9,1232.0 705.4,1234.2 708.0,1236.4 710.5,1238.6 713.0,1240.7 715.5,1242.8 718.1,1244.8 720.6,1246.9 723.1,1248.9 725.6,1250.9 728.2,1252.9 730.7,1254.8 733.2,1256.7 735.7,1258.6 738.3,1260.5 740.8,1262.4 743.3,1264.2 745.8,1266.1 748.4,1267.9 750.9,1269.6 753.4,1271.4 755.9,1273.1 758.5,1274.8 761.0,1276.5 763.5,1278.2 766.0,1279.8 768.6,1281.4 771.1,1283.0 773.6,1284.6 776.2,1286.1 778.7,1287.7 781.2,1289.2 783.7,1290.7 786.3,1292.2 788.8,1293.7 791.3,1295.2 793.8,1296.6 796.4,1298.0 798.9,1299.4 801.4,1300.8 803.9,1302.2 806.5,1303.5 809.0,1304.8 811.5,1306.1 814.0,1307.3 816.6,1308.5 819.1,1309.7 821.6,1310.8 824.1,1312.0 826.7,1313.1 829.2,1314.1 831.7,1315.2 834.2,1316.2 836.8,1317.3 839.3,1318.3 841.8,1319.3 844.3,1320.2 846.9,1321.2 849.4,1322.1 851.9,1323.1 854.5,1324.0 857.0,1324.9 859.5,1325.8 862.0,1326.7 864.6,1327.6 867.1,1328.5 869.6,1329.4 872.1,1330.3 874.7,1331.2 877.2,1332.0 879.7,1332.8 882.2,1333.7 884.8,1334.5 887.3,1335.3 889.8,1336.1 892.3,1336.9 894.9,1337.7 897.4,1338.5 899.9,1339.4 902.4,1340.2 905.0,1341.0 907.5,1341.9 910.0,1342.7 912.5,1343.5 915.1,1344.4 917.6,1345.2 920.1,1346.1 922.6,1346.9 925.2,1347.8 927.7,1348.6 930.2,1349.5 932.7,1350.3 935.3,1351.2 937.8,1352.0 940.3,1352.9 942.9,1353.7 945.4,1354.6 947.9,1355.4 950.4,1356.2 953.0,1357.0 955.5,1357.9 958.0,1358.7 960.5,1359.5 963.1,1360.3 965.6,1361.1 968.1,1361.9 970.6,1362.7 973.2,1363.4 975.7,1364.2 978.2,1364.9 980.7,1365.7 983.3,1366.4 985.8,1367.1 988.3,1367.8 990.8,1368.5 993.4,1369.2 995.9,1369.9 998.4,1370.6 1000.9,1371.3 1003.5,1372.0 1006.0,1372.6 1008.5,1373.3 1011.0,1373.9 1013.6,1374.6 1016.1,1375.2 1018.6,1375.9 1021.2,1376.5 1023.7,1377.2 1026.2,1377.8 1028.7,1378.4 1031.3,1379.0 1033.8,1379.7 1036.3,1380.3 1038.8,1380.9 1041.4,1381.5 1043.9,1382.1 1046.4,1382.7 1048.9,1383.3 1051.5,1383.9 1054.0,1384.5 1056.5,1385.1 1059.0,1385.6 1061.6,1386.2 1064.1,1386.8 1066.6,1387.4 1069.1,1387.9 1071.7,1388.5 1074.2,1389.1 1076.7,1389.6 1079.2,1390.2 1081.8,1390.7 1084.3,1391.3 1086.8,1391.9 1089.3,1392.4 1091.9,1393.0 1094.4,1393.5 1096.9,1394.0 1099.4,1394.6 1102.0,1395.1 1104.5,1395.7 1107.0,1396.2 1109.6,1396.7 1112.1,1397.3 1114.6,1397.8 1117.1,1398.3 1119.7,1398.8 1122.2,1399.4 1124.7,1399.9 1127.2,1400.4 1129.8,1400.9 1132.3,1401.4 1134.8,1401.9 1137.3,1402.4 1139.9,1402.9 1142.4,1403.4 1144.9,1403.9 1147.4,1404.4 1150.0,1404.8 1152.5,1405.3 1155.0,1405.8 1157.5,1406.3 1160.1,1406.7 1162.6,1407.2 1165.1,1407.7 1167.6,1408.1 1170.2,1408.6 1172.7,1409.0 1175.2,1409.5 1177.7,1409.9 1180.3,1410.4 1182.8,1410.8 1185.3,1411.2 1187.9,1411.7 1190.4,1412.1 1192.9,1412.5 1195.4,1412.9 1198.0,1413.4 1200.5,1413.8 1203.0,1414.2 1205.5,1414.6 1208.1,1415.0 1210.6,1415.4 1213.1,1415.8 1215.6,1416.2 1218.2,1416.6 1220.7,1417.0 1223.2,1417.4 1225.7,1417.8 1228.3,1418.2 1230.8,1418.6 1233.3,1419.0 1235.8,1419.4 1238.4,1419.7 1240.9,1420.1 1243.4,1420.5 1245.9,1420.9 1248.5,1421.2 1251.0,1421.6 1253.5,1421.9 1256.0,1422.3 1258.6,1422.7 1261.1,1423.0 1263.6,1423.3 1266.1,1423.7 1268.7,1424.0 1271.2,1424.4 1271.2,1434.1 1268.7,1433.8 1266.1,1433.4 1263.6,1433.1 1261.1,1432.7 1258.6,1432.4 1256.0,1432.0 1253.5,1431.7 1251.0,1431.3 1248.5,1431.0 1245.9,1430.6 1243.4,1430.2 1240.9,1429.9 1238.4,1429.5 1235.8,1429.1 1233.3,1428.7 1230.8,1428.3 1228.3,1428.0 1225.7,1427.6 1223.2,1427.2 1220.7,1426.8 1218.2,1426.4 1215.6,1426.0 1213.1,1425.6 1210.6,1425.2 1208.1,1424.8 1205.5,1424.4 1203.0,1423.9 1200.5,1423.5 1198.0,1423.1 1195.4,1422.7 1192.9,1422.3 1190.4,1421.8 1187.9,1421.4 1185.3,1421.0 1182.8,1420.5 1180.3,1420.1 1177.7,1419.7 1175.2,1419.2 1172.7,1418.8 1170.2,1418.3 1167.6,1417.9 1165.1,1417.4 1162.6,1417.0 1160.1,1416.5 1157.5,1416.0 1155.0,1415.5 1152.5,1415.1 1150.0,1414.6 1147.4,1414.1 1144.9,1413.6 1142.4,1413.1 1139.9,1412.6 1137.3,1412.1 1134.8,1411.6 1132.3,1411.1 1129.8,1410.6 1127.2,1410.1 1124.7,1409.6 1122.2,1409.1 1119.7,1408.6 1117.1,1408.1 1114.6,1407.5 1112.1,1407.0 1109.6,1406.5 1107.0,1405.9 1104.5,1405.4 1102.0,1404.9 1099.4,1404.3 1096.9,1403.8 1094.4,1403.2 1091.9,1402.7 1089.3,1402.1 1086.8,1401.6 1084.3,1401.0 1081.8,1400.5 1079.2,1399.9 1076.7,1399.4 1074.2,1398.8 1071.7,1398.2 1069.1,1397.7 1066.6,1397.1 1064.1,1396.5 1061.6,1396.0 1059.0,1395.4 1056.5,1394.8 1054.0,1394.2 1051.5,1393.6 1048.9,1393.0 1046.4,1392.4 1043.9,1391.8 1041.4,1391.2 1038.8,1390.6 1036.3,1390.0 1033.8,1389.4 1031.3,1388.8 1028.7,1388.2 1026.2,1387.5 1023.7,1386.9 1021.2,1386.3 1018.6,1385.6 1016.1,1385.0 1013.6,1384.3 1011.0,1383.7 1008.5,1383.0 1006.0,1382.4 1003.5,1381.7 1000.9,1381.0 998.4,1380.3 995.9,1379.7 993.4,1379.0 990.8,1378.3 988.3,1377.6 985.8,1376.9 983.3,1376.1 980.7,1375.4 978.2,1374.7 975.7,1373.9 973.2,1373.2 970.6,1372.4 968.1,1371.6 965.6,1370.8 963.1,1370.0 960.5,1369.2 958.0,1368.4 955.5,1367.6 953.0,1366.8 950.4,1366.0 947.9,1365.1 945.4,1364.3 942.9,1363.5 940.3,1362.6 937.8,1361.8 935.3,1360.9 932.7,1360.1 930.2,1359.2 927.7,1358.4 925.2,1357.5 922.6,1356.7 920.1,1355.8 917.6,1355.0 915.1,1354.1 912.5,1353.3 910.0,1352.4 907.5,1351.6 905.0,1350.8 902.4,1349.9 899.9,1349.1 897.4,1348.3 894.9,1347.5 892.3,1346.6 889.8,1345.8 887.3,1345.0 884.8,1344.2 882.2,1343.4 879.7,1342.6 877.2,1341.8 874.7,1340.9 872.1,1340.0 869.6,1339.1 867.1,1338.3 864.6,1337.4 862.0,1336.5 859.5,1335.6 857.0,1334.7 854.5,1333.7 851.9,1332.8 849.4,1331.9 846.9,1330.9 844.3,1330.0 841.8,1329.0 839.3,1328.0 836.8,1327.0 834.2,1326.0 831.7,1324.9 829.2,1323.9 826.7,1322.8 824.1,1321.7 821.6,1320.6 819.1,1319.4 816.6,1318.2 814.0,1317.0 811.5,1315.8 809.0,1314.5 806.5,1313.2 803.9,1311.9 801.4,1310.6 798.9,1309.2 796.4,1307.8 793.8,1306.4 791.3,1304.9 788.8,1303.5 786.3,1302.0 783.7,1300.5 781.2,1299.0 778.7,1297.4 776.2,1295.9 773.6,1294.3 771.1,1292.7 768.6,1291.1 766.0,1289.5 763.5,1287.9 761.0,1286.2 758.5,1284.6 755.9,1282.9 753.4,1281.1 750.9,1279.4 748.4,1277.6 745.8,1275.8 743.3,1274.0 740.8,1272.1 738.3,1270.3 735.7,1268.4 733.2,1266.5 730.7,1264.5 728.2,1262.6 725.6,1260.6 723.1,1258.6 720.6,1256.6 718.1,1254.6 715.5,1252.5 713.0,1250.4 710.5,1248.3 708.0,1246.2 705.4,1244.0 702.9,1241.8 700.4,1239.5 697.9,1237.2 695.3,1234.9 692.8,1232.6 690.3,1230.2 687.8,1227.8 685.2,1225.4 682.7,1223.0 680.2,1220.6 677.6,1218.1 675.1,1215.6 672.6,1213.1 670.1,1210.6 667.5,1208.1 665.0,1205.5 662.5,1202.9 660.0,1200.2 657.4,1197.5 654.9,1194.8 652.4,1192.0 649.9,1189.3 647.3,1186.5 644.8,1183.6 642.3,1180.8 639.8,1178.0 637.2,1175.2 634.7,1172.4 632.2,1169.5 629.7,1166.8 627.1,1164.0 624.6,1161.2 622.1,1158.5 619.6,1155.7 617.0,1152.8 614.5,1150.0 612.0,1147.1 609.5,1144.2 606.9,1141.4 604.4,1138.6 601.9,1135.9 599.3,1133.2 596.8,1130.6 594.3,1128.1 591.8,1125.7 589.2,1123.4 586.7,1121.0 584.2,1118.7 581.7,1116.4 579.1,1114.1 576.6,1111.8 574.1,1109.6 571.6,1107.5 569.0,1105.4 566.5,1103.5 564.0,1101.6 561.5,1099.8 558.9,1098.1 556.4,1096.5 553.9,1095.1 551.4,1093.7 548.8,1092.3 546.3,1090.9 543.8,1089.5 541.3,1088.1 538.7,1086.8 536.2,1085.5 533.7,1084.3 531.2,1083.3 528.6,1082.4 526.1,1081.6 523.6,1080.9 521.1,1080.5 518.5,1080.2 516.0,1080.1" fill="#000"/>
<polygon points="138.4,1462.2 130.4,1477.2 146.4,1477.2" fill="#000"/>
<polygon points="151.9,1434.9 143.9,1449.9 159.9,1449.9" fill="#000"/>
<polygon points="165.4,1409.3 157.4,1424.3 173.4,1424.3" fill="#000"/>
<polygon points="178.9,1385.6 170.9,1400.6 186.9,1400.6" fill="#000"/>
<polygon points="192.3,1364.1 184.3,1379.1 200.3,1379.1" fill="#000"/>
<polygon points="205.8,1344.6 197.8,1359.6 213.8,1359.6" fill="#000"/>
<polygon points="219.3,1325.7 211.3,1340.7 227.3,1340.7" fill="#000"/>
<polygon points="232.8,1306.2 224.8,1321.2 240.8,1321.2" fill="#000"/>
<polygon points="246.3,1286.2 238.3,1301.2 254.3,1301.2" fill="#000"/>
<polygon points="259.8,1266.6 251.8,1281.6 267.8,1281.6" fill="#000"/>
<polygon points="273.3,1248.4 265.3,1263.4 281.3,1263.4" fill="#000"/>
<polygon points="286.7,1231.5 278.7,1246.5 294.7,1246.5" fill="#000"/>
<polygon points="300.2,1215.5 292.2,1230.5 308.2,1230.5" fill="#000"/>
<polygon points="313.7,1200.1 305.7,1215.1 321.7,1215.1" fill="#000"/>
<polygon points="327.2,1185.5 319.2,1200.5 335.2,1200.5" fill="#000"/>
<polygon points="340.7,1171.6 332.7,1186.6 348.7,1186.6" fill="#000"/>
<polygon points="354.2,1157.6 346.2,1172.6 362.2,1172.6" fill="#000"/>
<polygon points="367.7,1143.2 359.7,1158.2 375.7,1158.2" fill="#000"/>
<polygon points="381.1,1129.5 373.1,1144.5 389.1,1144.5" fill="#000"/>
<polygon points="394.6,1117.4 386.6,1132.4 402.6,1132.4" fill="#000"/>
<polygon points="408.1,1105.3 400.1,1120.3 416.1,1120.3" fill="#000"/>
<polygon points="421.6,1093.7 413.6,1108.7 429.6,1108.7" fill="#000"/>
<polygon points="435.1,1083.7 427.1,1098.7 443.1,1098.7" fill="#000"/>
<polygon points="448.6,1076.3 440.6,1091.3 456.6,1091.3" fill="#000"/>
<polygon points="462.1,1072.4 454.1,1087.4 470.1,1087.4" fill="#000"/>
<polygon points="475.5,1069.4 467.5,1084.4 483.5,1084.4" fill="#000"/>
<polygon points="489.0,1066.9 481.0,1081.9 497.0,1081.9" fill="#000"/>
<polygon points="502.5,1064.8 494.5,1079.8 510.5,1079.8" fill="#000"/>
<polygon points="516.0,1062.9 508.0,1077.9 524.0,1077.9" fill="#000"/>
<polygon points="529.5,1064.4 521.5,1079.4 537.5,1079.4" fill="#000"/>
<polygon points="543.0,1070.3 535.0,1085.3 551.0,1085.3" fill="#000"/>
<polygon points="556.5,1077.8 548.5,1092.8 564.5,1092.8" fill="#000"/>
<polygon points="569.9,1087.4 561.9,1102.4 577.9,1102.4" fill="#000"/>
<polygon points="583.4,1099.2 575.4,1114.2 591.4,1114.2" fill="#000"/>
<polygon points="596.9,1112.0 588.9,1127.0 604.9,1127.0" fill="#000"/>
<polygon points="610.4,1126.6 602.4,1141.6 618.4,1141.6" fill="#000"/>
<polygon points="623.9,1141.7 615.9,1156.7 631.9,1156.7" fill="#000"/>
<polygon points="637.4,1156.6 629.4,1171.6 645.4,1171.6" fill="#000"/>
<polygon points="650.9,1171.6 642.9,1186.6 658.9,1186.6" fill="#000"/>
<polygon points="664.3,1186.1 656.3,1201.1 672.3,1201.1" fill="#000"/>
<polygon points="677.8,1199.5 669.8,1214.5 685.8,1214.5" fill="#000"/>
<polygon points="691.3,1212.5 683.3,1227.5 699.3,1227.5" fill="#000"/>
<polygon points="704.8,1224.7 696.8,1239.7 712.8,1239.7" fill="#000"/>
<polygon points="718.3,1236.0 710.3,1251.0 726.3,1251.0" fill="#000"/>
<polygon points="731.8,1246.6 723.8,1261.6 739.8,1261.6" fill="#000"/>
<polygon points="745.3,1256.6 737.3,1271.6 753.3,1271.6" fill="#000"/>
<polygon points="758.7,1266.0 750.7,1281.0 766.7,1281.0" fill="#000"/>
<polygon points="772.2,1274.7 764.2,1289.7 780.2,1289.7" fill="#000"/>
<polygon points="785.7,1282.9 777.7,1297.9 793.7,1297.9" fill="#000"/>
<polygon points="799.2,1290.6 791.2,1305.6 807.2,1305.6" fill="#000"/>
<polygon points="812.7,1297.6 804.7,1312.6 820.7,1312.6" fill="#000"/>
<polygon points="826.2,1303.9 818.2,1318.9 834.2,1318.9" fill="#000"/>
<polygon points="839.7,1309.4 831.7,1324.4 847.7,1324.4" fill="#000"/>
<polygon points="853.1,1314.5 845.1,1329.5 861.1,1329.5" fill="#000"/>
<polygon points="866.6,1319.4 858.6,1334.4 874.6,1334.4" fill="#000"/>
<polygon points="880.1,1324.0 872.1,1339.0 888.1,1339.0" fill="#000"/>
<polygon points="893.6,1328.3 885.6,1343.3 901.6,1343.3" fill="#000"/>
<polygon points="907.1,1332.7 899.1,1347.7 915.1,1347.7" fill="#000"/>
<polygon points="920.6,1337.2 912.6,1352.2 928.6,1352.2" fill="#000"/>
<polygon points="934.1,1341.8 926.1,1356.8 942.1,1356.8" fill="#000"/>
<polygon points="947.5,1346.3 939.5,1361.3 955.5,1361.3" fill="#000"/>
<polygon points="961.0,1350.7 953.0,1365.7 969.0,1365.7" fill="#000"/>
<polygon points="974.5,1354.8 966.5,1369.8 982.5,1369.8" fill="#000"/>
<polygon points="988.0,1358.8 980.0,1373.8 996.0,1373.8" fill="#000"/>
<polygon points="1001.5,1362.4 993.5,1377.4 1009.5,1377.4" fill="#000"/>
<polygon points="1015.0,1366.0 1007.0,1381.0 1023.0,1381.0" fill="#000"/>
<polygon points="1028.5,1369.4 1020.5,1384.4 1036.5,1384.4" fill="#000"/>
<polygon points="1041.9,1372.6 1033.9,1387.6 1049.9,1387.6" fill="#000"/>
<polygon points="1055.4,1375.8 1047.4,1390.8 1063.4,1390.8" fill="#000"/>
<polygon points="1068.9,1378.9 1060.9,1393.9 1076.9,1393.9" fill="#000"/>
<polygon points="1082.4,1381.9 1074.4,1396.9 1090.4,1396.9" fill="#000"/>
<polygon points="1095.9,1384.8 1087.9,1399.8 1103.9,1399.8" fill="#000"/>
<polygon points="1109.4,1387.7 1101.4,1402.7 1117.4,1402.7" fill="#000"/>
<polygon points="1122.9,1390.5 1114.9,1405.5 1130.9,1405.5" fill="#000"/>
<polygon points="1136.3,1393.2 1128.3,1408.2 1144.3,1408.2" fill="#000"/>
<polygon points="1149.8,1395.8 1141.8,1410.8 1157.8,1410.8" fill="#000"/>
<polygon points="1163.3,1398.3 1155.3,1413.3 1171.3,1413.3" fill="#000"/>
<polygon points="1176.8,1400.8 1168.8,1415.8 1184.8,1415.8" fill="#000"/>
<polygon points="1190.3,1403.1 1182.3,1418.1 1198.3,1418.1" fill="#000"/>
<polygon points="1203.8,1405.3 1195.8,1420.3 1211.8,1420.3" fill="#000"/>
<polygon points="1217.3,1407.5 1209.3,1422.5 1225.3,1422.5" fill="#000"/>
<polygon points="1230.7,1409.6 1222.7,1424.6 1238.7,1424.6" fill="#000"/>
<polygon points="1244.2,1411.6 1236.2,1426.6 1252.2,1426.6" fill="#000"/>
<polygon points="1257.7,1413.5 1249.7,1428.5 1265.7,1428.5" fill="#000"/>
<polygon points="1271.2,1415.4 1263.2,1430.4 1279.2,1430.4" fill="#000"/>
<polygon points="138.4,1373.9 132.2,1385.9 144.7,1385.9" fill="none" stroke="#000" stroke-width="2.6" stroke-linejoin="miter"/>
<polygon points="165.4,1325.2 159.1,1337.2 171.6,1337.2" fill="none" stroke="#000" stroke-width="2.6" stroke-linejoin="miter"/>
<polygon points="192.3,1285.1 186.1,1297.1 198.6,1297.1" fill="none" stroke="#000" stroke-width="2.6" stroke-linejoin="miter"/>
<polygon points="219.3,1251.0 213.1,1263.0 225.6,1263.0" fill="none" stroke="#000" stroke-width="2.6" stroke-linejoin="miter"/>
<polygon points="246.3,1222.4 240.0,1234.4 252.5,1234.4" fill="none" stroke="#000" stroke-width="2.6" stroke-linejoin="miter"/>
<polygon points="273.3,1195.6 267.0,1207.6 279.5,1207.6" fill="none" stroke="#000" stroke-width="2.6" stroke-linejoin="miter"/>
<polygon points="300.2,1172.4 294.0,1184.4 306.5,1184.4" fill="none" stroke="#000" stroke-width="2.6" stroke-linejoin="miter"/>
<polygon points="327.2,1150.5 320.9,1162.5 333.4,1162.5" fill="none" stroke="#000" stroke-width="2.6" stroke-linejoin="miter"/>
<polygon points="354.2,1131.7 347.9,1143.7 360.4,1143.7" fill="none" stroke="#000" stroke-width="2.6" stroke-linejoin="miter"/>
<polygon points="381.1,1115.2 374.9,1127.2 387.4,1127.2" fill="none" stroke="#000" stroke-width="2.6" stroke-linejoin="miter"/>
<polygon points="408.1,1098.8 401.9,1110.8 414.4,1110.8" fill="none" stroke="#000" stroke-width="2.6" stroke-linejoin="miter"/>
<polygon points="435.1,1086.6 428.8,1098.6 441.3,1098.6" fill="none" stroke="#000" stroke-width="2.6" stroke-linejoin="miter"/>
<polygon points="462.1,1077.5 455.8,1089.5 468.3,1089.5" fill="none" stroke="#000" stroke-width="2.6" stroke-linejoin="miter"/>
<polygon points="489.0,1071.4 482.8,1083.4 495.3,1083.4" fill="none" stroke="#000" stroke-width="2.6" stroke-linejoin="miter"/>
<polygon points="516.0,1068.3 509.8,1080.3 522.2,1080.3" fill="none" stroke="#000" stroke-width="2.6" stroke-linejoin="miter"/>
<polygon points="543.0,1071.4 536.7,1083.4 549.2,1083.4" fill="none" stroke="#000" stroke-width="2.6" stroke-linejoin="miter"/>
<polygon points="569.9,1080.5 563.7,1092.5 576.2,1092.5" fill="none" stroke="#000" stroke-width="2.6" stroke-linejoin="miter"/>
<polygon points="596.9,1091.5 590.7,1103.5 603.2,1103.5" fill="none" stroke="#000" stroke-width="2.6" stroke-linejoin="miter"/>
<polygon points="623.9,1101.8 617.6,1113.8 630.1,1113.8" fill="none" stroke="#000" stroke-width="2.6" stroke-linejoin="miter"/>
<polygon points="650.9,1114.6 644.6,1126.6 657.1,1126.6" fill="none" stroke="#000" stroke-width="2.6" stroke-linejoin="miter"/>
<polygon points="677.8,1134.7 671.6,1146.7 684.1,1146.7" fill="none" stroke="#000" stroke-width="2.6" stroke-linejoin="miter"/>
<polygon points="704.8,1156.0 698.5,1168.0 711.0,1168.0" fill="none" stroke="#000" stroke-width="2.6" stroke-linejoin="miter"/>
<polygon points="731.8,1177.3 725.5,1189.3 738.0,1189.3" fill="none" stroke="#000" stroke-width="2.6" stroke-linejoin="miter"/>
<polygon points="758.7,1198.6 752.5,1210.6 765.0,1210.6" fill="none" stroke="#000" stroke-width="2.6" stroke-linejoin="miter"/>
<polygon points="785.7,1216.9 779.5,1228.9 792.0,1228.9" fill="none" stroke="#000" stroke-width="2.6" stroke-linejoin="miter"/>
<polygon points="812.7,1233.3 806.4,1245.3 818.9,1245.3" fill="none" stroke="#000" stroke-width="2.6" stroke-linejoin="miter"/>
<polygon points="839.7,1249.1 833.4,1261.1 845.9,1261.1" fill="none" stroke="#000" stroke-width="2.6" stroke-linejoin="miter"/>
<polygon points="866.6,1262.5 860.4,1274.5 872.9,1274.5" fill="none" stroke="#000" stroke-width="2.6" stroke-linejoin="miter"/>
<polygon points="893.6,1274.7 887.3,1286.7 899.8,1286.7" fill="none" stroke="#000" stroke-width="2.6" stroke-linejoin="miter"/>
<polygon points="920.6,1285.7 914.3,1297.7 926.8,1297.7" fill="none" stroke="#000" stroke-width="2.6" stroke-linejoin="miter"/>
<polygon points="947.5,1295.4 941.3,1307.4 953.8,1307.4" fill="none" stroke="#000" stroke-width="2.6" stroke-linejoin="miter"/>
<polygon points="974.5,1305.2 968.3,1317.2 980.8,1317.2" fill="none" stroke="#000" stroke-width="2.6" stroke-linejoin="miter"/>
<polygon points="1001.5,1313.7 995.2,1325.7 1007.7,1325.7" fill="none" stroke="#000" stroke-width="2.6" stroke-linejoin="miter"/>
<polygon points="1028.5,1321.6 1022.2,1333.6 1034.7,1333.6" fill="none" stroke="#000" stroke-width="2.6" stroke-linejoin="miter"/>
<polygon points="1055.4,1330.1 1049.2,1342.1 1061.7,1342.1" fill="none" stroke="#000" stroke-width="2.6" stroke-linejoin="miter"/>
<polygon points="1082.4,1338.0 1076.1,1350.0 1088.6,1350.0" fill="none" stroke="#000" stroke-width="2.6" stroke-linejoin="miter"/>
<polygon points="1109.4,1344.7 1103.1,1356.7 1115.6,1356.7" fill="none" stroke="#000" stroke-width="2.6" stroke-linejoin="miter"/>
<polygon points="1136.3,1349.6 1130.1,1361.6 1142.6,1361.6" fill="none" stroke="#000" stroke-width="2.6" stroke-linejoin="miter"/>
<polygon points="1163.3,1356.3 1157.1,1368.3 1169.6,1368.3" fill="none" stroke="#000" stroke-width="2.6" stroke-linejoin="miter"/>
<polygon points="1190.3,1361.2 1184.0,1373.2 1196.5,1373.2" fill="none" stroke="#000" stroke-width="2.6" stroke-linejoin="miter"/>
<polygon points="1217.3,1367.9 1211.0,1379.9 1223.5,1379.9" fill="none" stroke="#000" stroke-width="2.6" stroke-linejoin="miter"/>
<polygon points="1244.2,1370.9 1238.0,1382.9 1250.5,1382.9" fill="none" stroke="#000" stroke-width="2.6" stroke-linejoin="miter"/>
<polygon points="1271.2,1377.6 1265.0,1389.6 1277.5,1389.6" fill="none" stroke="#000" stroke-width="2.6" stroke-linejoin="miter"/>
<rect x="131.2" y="1237.5" width="14.5" height="14.5" fill="#000"/>
<rect x="178.3" y="1187.0" width="14.5" height="14.5" fill="#000"/>
<rect x="225.6" y="1150.5" width="14.5" height="14.5" fill="#000"/>
<rect x="272.8" y="1123.7" width="14.5" height="14.5" fill="#000"/>
<rect x="319.9" y="1101.8" width="14.5" height="14.5" fill="#000"/>
<rect x="367.1" y="1086.6" width="14.5" height="14.5" fill="#000"/>
<rect x="414.4" y="1074.4" width="14.5" height="14.5" fill="#000"/>
<rect x="461.5" y="1068.3" width="14.5" height="14.5" fill="#000"/>
<rect x="508.8" y="1068.3" width="14.5" height="14.5" fill="#000"/>
<rect x="555.9" y="1071.3" width="14.5" height="14.5" fill="#000"/>
<rect x="603.1" y="1081.1" width="14.5" height="14.5" fill="#000"/>
<rect x="650.3" y="1102.4" width="14.5" height="14.5" fill="#000"/>
<rect x="697.5" y="1131.0" width="14.5" height="14.5" fill="#000"/>
<rect x="744.7" y="1163.3" width="14.5" height="14.5" fill="#000"/>
<rect x="791.9" y="1193.7" width="14.5" height="14.5" fill="#000"/>
<rect x="839.1" y="1222.9" width="14.5" height="14.5" fill="#000"/>
<rect x="886.3" y="1245.4" width="14.5" height="14.5" fill="#000"/>
<rect x="933.5" y="1265.5" width="14.5" height="14.5" fill="#000"/>
<rect x="980.7" y="1283.8" width="14.5" height="14.5" fill="#000"/>
<rect x="1028.0" y="1297.2" width="14.5" height="14.5" fill="#000"/>
<rect x="1075.1" y="1311.8" width="14.5" height="14.5" fill="#000"/>
<rect x="1122.3" y="1321.5" width="14.5" height="14.5" fill="#000"/>
<rect x="1169.5" y="1333.1" width="14.5" height="14.5" fill="#000"/>
<rect x="1216.8" y="1342.8" width="14.5" height="14.5" fill="#000"/>
<rect x="1264.0" y="1351.4" width="14.5" height="14.5" fill="#000"/>
<rect x="132.1" y="1194.7" width="12.6" height="12.6" fill="none" stroke="#000" stroke-width="2.4"/>
<rect x="226.5" y="1138.0" width="12.6" height="12.6" fill="none" stroke="#000" stroke-width="2.4"/>
<rect x="320.9" y="1093.6" width="12.6" height="12.6" fill="none" stroke="#000" stroke-width="2.4"/>
<rect x="415.3" y="1075.3" width="12.6" height="12.6" fill="none" stroke="#000" stroke-width="2.4"/>
<rect x="509.7" y="1069.2" width="12.6" height="12.6" fill="none" stroke="#000" stroke-width="2.4"/>
<rect x="604.1" y="1071.1" width="12.6" height="12.6" fill="none" stroke="#000" stroke-width="2.4"/>
<rect x="698.5" y="1095.4" width="12.6" height="12.6" fill="none" stroke="#000" stroke-width="2.4"/>
<rect x="792.9" y="1144.7" width="12.6" height="12.6" fill="none" stroke="#000" stroke-width="2.4"/>
<rect x="887.3" y="1192.8" width="12.6" height="12.6" fill="none" stroke="#000" stroke-width="2.4"/>
<rect x="981.7" y="1235.4" width="12.6" height="12.6" fill="none" stroke="#000" stroke-width="2.4"/>
<rect x="1076.1" y="1261.6" width="12.6" height="12.6" fill="none" stroke="#000" stroke-width="2.4"/>
<rect x="1170.5" y="1281.7" width="12.6" height="12.6" fill="none" stroke="#000" stroke-width="2.4"/>
<rect x="1264.9" y="1299.4" width="12.6" height="12.6" fill="none" stroke="#000" stroke-width="2.4"/>
<path d="M138.8,1684.3 L140.7,1683.6 L142.6,1682.5 L144.4,1681.1 L146.3,1679.5 L148.2,1677.7 L150.1,1675.7 L152.0,1673.5 L153.9,1671.2 L155.8,1668.8 L157.7,1666.2 L159.6,1663.5 L161.5,1660.6 L163.4,1657.7 L165.2,1654.6 L167.1,1651.5 L169.0,1648.2 L170.9,1644.9 L172.8,1641.4 L174.7,1637.9 L176.6,1634.3 L178.5,1630.6 L180.4,1626.8 L182.3,1622.9 L184.2,1619.0 L186.0,1615.0 L187.9,1611.0 L189.8,1606.9 L191.7,1602.7 L193.6,1598.4 L195.5,1594.2 L197.4,1589.8 L199.3,1585.4 L201.2,1581.0 L203.1,1576.5 L204.9,1571.9 L206.8,1567.3 L208.7,1562.7 L210.6,1558.1 L212.5,1553.4 L214.4,1548.6 L216.3,1543.9 L218.2,1539.1 L220.1,1534.3 L222.0,1529.4 L223.9,1524.5 L225.7,1519.6 L227.6,1514.7 L229.5,1509.8 L231.4,1504.8 L233.3,1499.8 L235.2,1494.9 L237.1,1489.8 L239.0,1484.8 L240.9,1479.8 L242.8,1474.8 L244.6,1469.7 L246.5,1464.7 L248.4,1459.6 L250.3,1454.6 L252.2,1449.5 L254.1,1444.5 L256.0,1439.4 L257.9,1434.4 L259.8,1429.4 L261.7,1424.3 L263.6,1419.3 L265.4,1414.3 L267.3,1409.3 L269.2,1404.3 L271.1,1399.3 L273.0,1394.3 L274.9,1389.4 L276.8,1384.5 L278.7,1379.5 L280.6,1374.6 L282.5,1369.8 L284.3,1364.9 L286.2,1360.1 L288.1,1355.3 L290.0,1350.5 L291.9,1345.7 L293.8,1341.0 L295.7,1336.3 L297.6,1331.6 L299.5,1326.9 L301.4,1322.3 L303.3,1317.7 L305.1,1313.2 L307.0,1308.7 L308.9,1304.2 L310.8,1299.7 L312.7,1295.3 L314.6,1290.9 L316.5,1286.6 L318.4,1282.3 L320.3,1278.0 L322.2,1273.8 L324.0,1269.6 L325.9,1265.4 L327.8,1261.3 L329.7,1257.2 L331.6,1253.2 L333.5,1249.2 L335.4,1245.3 L337.3,1241.4 L339.2,1237.5 L341.1,1233.7 L343.0,1229.9 L344.8,1226.2 L346.7,1222.5 L348.6,1218.9 L350.5,1215.3 L352.4,1211.8 L354.3,1208.3 L356.2,1204.8 L358.1,1201.4 L360.0,1198.1 L361.9,1194.8 L363.7,1191.5 L365.6,1188.3 L367.5,1185.1 L369.4,1182.0 L371.3,1179.0 L373.2,1176.0 L375.1,1173.0 L377.0,1170.1 L378.9,1167.2 L380.8,1164.4 L382.7,1161.6 L384.5,1158.9 L386.4,1156.2 L388.3,1153.6 L390.2,1151.0 L392.1,1148.5 L394.0,1146.0 L395.9,1143.6 L397.8,1141.2 L399.7,1138.8 L401.6,1136.6 L403.5,1134.3 L405.3,1132.1 L407.2,1130.0 L409.1,1127.9 L411.0,1125.8 L412.9,1123.8 L414.8,1121.9 L416.7,1120.0 L418.6,1118.1 L420.5,1116.3 L422.4,1114.5 L424.2,1112.8 L426.1,1111.1 L428.0,1109.5 L429.9,1107.9 L431.8,1106.3 L433.7,1104.8 L435.6,1103.3 L437.5,1101.9 L439.4,1100.5 L441.3,1099.2 L443.2,1097.9 L445.0,1096.7 L446.9,1095.5 L448.8,1094.3 L450.7,1093.2 L452.6,1092.1 L454.5,1091.0 L456.4,1090.0 L458.3,1089.0 L460.2,1088.1 L462.1,1087.2 L463.9,1086.3 L465.8,1085.5 L467.7,1084.7 L469.6,1084.0 L471.5,1083.3 L473.4,1082.6 L475.3,1081.9 L477.2,1081.3 L479.1,1080.7 L481.0,1080.2 L482.9,1079.7 L484.7,1079.2 L486.6,1078.8 L488.5,1078.3 L490.4,1078.0 L492.3,1077.6 L494.2,1077.3 L496.1,1077.0 L498.0,1076.7 L499.9,1076.5 L501.8,1076.3 L503.6,1076.1 L505.5,1075.9 L507.4,1075.8 L509.3,1075.7 L511.2,1075.6 L513.1,1075.6 L515.0,1075.6 L516.9,1075.6 L518.8,1075.6 L520.7,1075.6 L522.6,1075.7 L524.4,1075.8 L526.3,1075.9 L528.2,1076.0 L530.1,1076.2 L532.0,1076.4 L533.9,1076.6 L535.8,1076.8 L537.7,1077.0 L539.6,1077.3 L541.5,1077.6 L543.3,1077.9 L545.2,1078.2 L547.1,1078.5 L549.0,1078.9 L550.9,1079.2 L552.8,1079.6 L554.7,1080.0 L556.6,1080.4 L558.5,1080.8 L560.4,1081.3 L562.3,1081.7 L564.1,1082.2 L566.0,1082.7 L567.9,1083.2 L569.8,1083.7 L571.7,1084.2 L573.6,1084.8 L575.5,1085.3 L577.4,1085.9 L579.3,1086.4 L581.2,1087.0 L583.1,1087.6 L584.9,1088.2 L586.8,1088.8 L588.7,1089.5 L590.6,1090.1 L592.5,1090.7 L594.4,1091.4 L596.3,1092.1 L598.2,1092.7 L600.1,1093.4 L602.0,1094.1 L603.8,1094.8 L605.7,1095.5 L607.6,1096.2 L609.5,1096.9 L611.4,1097.6 L613.3,1098.3 L615.2,1099.1 L617.1,1099.8 L619.0,1100.5 L620.9,1101.3 L622.8,1102.0 L624.6,1102.8 L626.5,1103.6 L628.4,1104.3 L630.3,1105.1 L632.2,1105.9 L634.1,1106.6 L636.0,1107.4 L637.9,1108.2 L639.8,1109.0 L641.7,1109.8 L643.5,1110.6 L645.4,1111.4 L647.3,1112.2 L649.2,1113.0 L651.1,1113.8 L653.0,1114.6 L654.9,1115.4 L656.8,1116.2 L658.7,1117.0 L660.6,1117.8 L662.5,1118.6 L664.3,1119.5 L666.2,1120.3 L668.1,1121.1 L670.0,1121.9 L671.9,1122.7 L673.8,1123.5 L675.7,1124.4 L677.6,1125.2 L679.5,1126.0 L681.4,1126.8 L683.2,1127.6 L685.1,1128.5 L687.0,1129.3 L688.9,1130.1 L690.8,1130.9 L692.7,1131.7 L694.6,1132.5 L696.5,1133.4 L698.4,1134.2 L700.3,1135.0 L702.2,1135.8 L704.0,1136.6 L705.9,1137.4 L707.8,1138.2 L709.7,1139.1 L711.6,1139.9 L713.5,1140.7 L715.4,1141.5 L717.3,1142.3 L719.2,1143.1 L721.1,1143.9 L722.9,1144.7 L724.8,1145.5 L726.7,1146.3 L728.6,1147.1 L730.5,1147.9 L732.4,1148.7 L734.3,1149.5 L736.2,1150.3 L738.1,1151.0 L740.0,1151.8 L741.9,1152.6 L743.7,1153.4 L745.6,1154.2 L747.5,1154.9 L749.4,1155.7 L751.3,1156.5 L753.2,1157.3 L755.1,1158.0 L757.0,1158.8 L758.9,1159.6 L760.8,1160.3 L762.6,1161.1 L764.5,1161.8 L766.4,1162.6 L768.3,1163.3 L770.2,1164.1 L772.1,1164.8 L774.0,1165.6 L775.9,1166.3 L777.8,1167.1 L779.7,1167.8 L781.6,1168.5 L783.4,1169.3 L785.3,1170.0 L787.2,1170.7 L789.1,1171.5 L791.0,1172.2 L792.9,1172.9 L794.8,1173.6 L796.7,1174.3 L798.6,1175.1 L800.5,1175.8 L802.4,1176.5 L804.2,1177.2 L806.1,1177.9 L808.0,1178.6 L809.9,1179.3 L811.8,1180.0 L813.7,1180.7 L815.6,1181.4 L817.5,1182.1 L819.4,1182.8 L821.3,1183.4 L823.1,1184.1 L825.0,1184.8 L826.9,1185.5 L828.8,1186.1 L830.7,1186.8 L832.6,1187.5 L834.5,1188.2 L836.4,1188.8 L838.3,1189.5 L840.2,1190.1 L842.1,1190.8 L843.9,1191.5 L845.8,1192.1 L847.7,1192.8 L849.6,1193.4 L851.5,1194.1 L853.4,1194.7 L855.3,1195.3 L857.2,1196.0 L859.1,1196.6 L861.0,1197.2 L862.8,1197.9 L864.7,1198.5 L866.6,1199.1 L868.5,1199.8 L870.4,1200.4 L872.3,1201.0 L874.2,1201.6 L876.1,1202.2 L878.0,1202.9 L879.9,1203.5 L881.8,1204.1 L883.6,1204.7 L885.5,1205.3 L887.4,1205.9 L889.3,1206.5 L891.2,1207.1 L893.1,1207.7 L895.0,1208.3 L896.9,1208.9 L898.8,1209.5 L900.7,1210.0 L902.5,1210.6 L904.4,1211.2 L906.3,1211.8 L908.2,1212.4 L910.1,1213.0 L912.0,1213.5 L913.9,1214.1 L915.8,1214.7 L917.7,1215.2 L919.6,1215.8 L921.5,1216.4 L923.3,1216.9 L925.2,1217.5 L927.1,1218.1 L929.0,1218.6 L930.9,1219.2 L932.8,1219.7 L934.7,1220.3 L936.6,1220.8 L938.5,1221.4 L940.4,1221.9 L942.2,1222.5 L944.1,1223.0 L946.0,1223.5 L947.9,1224.1 L949.8,1224.6 L951.7,1225.1 L953.6,1225.7 L955.5,1226.2 L957.4,1226.7 L959.3,1227.3 L961.2,1227.8 L963.0,1228.3 L964.9,1228.8 L966.8,1229.4 L968.7,1229.9 L970.6,1230.4 L972.5,1230.9 L974.4,1231.4 L976.3,1231.9 L978.2,1232.4 L980.1,1232.9 L982.0,1233.4 L983.8,1234.0 L985.7,1234.5 L987.6,1235.0 L989.5,1235.5 L991.4,1236.0 L993.3,1236.4 L995.2,1236.9 L997.1,1237.4 L999.0,1237.9 L1000.9,1238.4 L1002.7,1238.9 L1004.6,1239.4 L1006.5,1239.9 L1008.4,1240.4 L1010.3,1240.8 L1012.2,1241.3 L1014.1,1241.8 L1016.0,1242.3 L1017.9,1242.7 L1019.8,1243.2 L1021.7,1243.7 L1023.5,1244.2 L1025.4,1244.6 L1027.3,1245.1 L1029.2,1245.6 L1031.1,1246.0 L1033.0,1246.5 L1034.9,1247.0 L1036.8,1247.4 L1038.7,1247.9 L1040.6,1248.3 L1042.4,1248.8 L1044.3,1249.2 L1046.2,1249.7 L1048.1,1250.1 L1050.0,1250.6 L1051.9,1251.0 L1053.8,1251.5 L1055.7,1251.9 L1057.6,1252.4 L1059.5,1252.8 L1061.4,1253.3 L1063.2,1253.7 L1065.1,1254.2 L1067.0,1254.6 L1068.9,1255.0 L1070.8,1255.5 L1072.7,1255.9 L1074.6,1256.3 L1076.5,1256.8 L1078.4,1257.2 L1080.3,1257.6 L1082.1,1258.0 L1084.0,1258.5 L1085.9,1258.9 L1087.8,1259.3 L1089.7,1259.7 L1091.6,1260.2 L1093.5,1260.6 L1095.4,1261.0 L1097.3,1261.4 L1099.2,1261.8 L1101.1,1262.3 L1102.9,1262.7 L1104.8,1263.1 L1106.7,1263.5 L1108.6,1263.9 L1110.5,1264.3 L1112.4,1264.7 L1114.3,1265.1 L1116.2,1265.5 L1118.1,1265.9 L1120.0,1266.3 L1121.8,1266.7 L1123.7,1267.1 L1125.6,1267.5 L1127.5,1267.9 L1129.4,1268.3 L1131.3,1268.7 L1133.2,1269.1 L1135.1,1269.5 L1137.0,1269.9 L1138.9,1270.3 L1140.8,1270.7 L1142.6,1271.1 L1144.5,1271.5 L1146.4,1271.9 L1148.3,1272.2 L1150.2,1272.6 L1152.1,1273.0 L1154.0,1273.4 L1155.9,1273.8 L1157.8,1274.2 L1159.7,1274.5 L1161.5,1274.9 L1163.4,1275.3 L1165.3,1275.7 L1167.2,1276.1 L1169.1,1276.4 L1171.0,1276.8 L1172.9,1277.2 L1174.8,1277.5 L1176.7,1277.9 L1178.6,1278.3 L1180.5,1278.7 L1182.3,1279.0 L1184.2,1279.4 L1186.1,1279.8 L1188.0,1280.1 L1189.9,1280.5 L1191.8,1280.8 L1193.7,1281.2 L1195.6,1281.6 L1197.5,1281.9 L1199.4,1282.3 L1201.3,1282.6 L1203.1,1283.0 L1205.0,1283.4 L1206.9,1283.7 L1208.8,1284.1 L1210.7,1284.4 L1212.6,1284.8 L1214.5,1285.1 L1216.4,1285.5 L1218.3,1285.8 L1220.2,1286.2 L1222.0,1286.5 L1223.9,1286.9 L1225.8,1287.2 L1227.7,1287.6 L1229.6,1287.9 L1231.5,1288.2 L1233.4,1288.6 L1235.3,1288.9 L1237.2,1289.3 L1239.1,1289.6 L1241.0,1289.9 L1242.8,1290.3 L1244.7,1290.6 L1246.6,1290.9 L1248.5,1291.3 L1250.4,1291.6 L1252.3,1292.0 L1254.2,1292.3 L1256.1,1292.6 L1258.0,1292.9 L1259.9,1293.3 L1261.7,1293.6 L1263.6,1293.9 L1265.5,1294.3 L1267.4,1294.6 L1269.3,1294.9 L1271.2,1295.2" fill="none" stroke="#000" stroke-width="6" stroke-linejoin="round"/>
<path d="M143.1,1565.7 L144.0,1554.9 L144.9,1545.1 L145.9,1535.9 L146.8,1527.3 L147.7,1519.2 L148.6,1511.6 L149.5,1504.3 L150.4,1497.3 L151.3,1490.6 L152.2,1484.2 L153.2,1478.1 L154.1,1472.1 L155.0,1466.3 L155.9,1460.7 L156.8,1455.3 L157.7,1450.1 L158.6,1445.0 L159.5,1440.0 L160.5,1435.2 L161.4,1430.4 L162.3,1425.8 L163.2,1421.3 L164.1,1416.9 L165.0,1412.7 L165.9,1408.4 L166.8,1404.3 L167.8,1400.3 L168.7,1396.4 L169.6,1392.5 L170.5,1388.7 L171.4,1385.0 L172.3,1381.3 L173.2,1377.7 L174.1,1374.2 L175.0,1370.7 L176.0,1367.3 L176.9,1364.0 L177.8,1360.7 L178.7,1357.4 L179.6,1354.2 L180.5,1351.1 L181.4,1348.0 L182.3,1345.0 L183.3,1342.0 L184.2,1339.0 L185.1,1336.1 L186.0,1333.2 L186.9,1330.4 L187.8,1327.6 L188.7,1324.9 L189.6,1322.2 L190.6,1319.5 L191.5,1316.9 L192.4,1314.3 L193.3,1311.7 L194.2,1309.2 L195.1,1306.7 L196.0,1304.2 L196.9,1301.8 L197.9,1299.4 L198.8,1297.0 L199.7,1294.7 L200.6,1292.3 L201.5,1290.1 L202.4,1287.8 L203.3,1285.6 L204.2,1283.4 L205.2,1281.2 L206.1,1279.0 L207.0,1276.9 L207.9,1274.8 L208.8,1272.7 L209.7,1270.7 L210.6,1268.6 L211.5,1266.6 L212.5,1264.6 L213.4,1262.7 L214.3,1260.7 L215.2,1258.8 L216.1,1256.9 L217.0,1255.0 L217.9,1253.2 L218.8,1251.3 L219.8,1249.5 L220.7,1247.7 L221.6,1245.9 L222.5,1244.2 L223.4,1242.4 L224.3,1240.7 L225.2,1239.0 L226.1,1237.3 L227.0,1235.7 L228.0,1234.0 L228.9,1232.4 L229.8,1230.8 L230.7,1229.2 L231.6,1227.6 L232.5,1226.0 L233.4,1224.4 L234.3,1222.9 L235.3,1221.4 L236.2,1219.9 L237.1,1218.4 L238.0,1216.9 L238.9,1215.4 L239.8,1214.0 L240.7,1212.6 L241.6,1211.1 L242.6,1209.7 L243.5,1208.3 L244.4,1207.0 L245.3,1205.6 L246.2,1204.2 L247.1,1202.9 L248.0,1201.6 L248.9,1200.3 L249.9,1199.0 L250.8,1197.7 L251.7,1196.4 L254.2,1192.9 L256.8,1189.5 L259.3,1186.1 L261.9,1182.9 L264.5,1179.7 L267.0,1176.7 L269.6,1173.7 L272.1,1170.7 L274.7,1167.9 L277.2,1165.1 L279.8,1162.4 L282.3,1159.8 L284.9,1157.2 L287.5,1154.7 L290.0,1152.3 L292.6,1149.9 L295.1,1147.5 L297.7,1145.3 L300.2,1143.1 L302.8,1140.9 L305.3,1138.8 L307.9,1136.8 L310.4,1134.8 L313.0,1132.9 L315.6,1131.0 L318.1,1129.1 L320.7,1127.3 L323.2,1125.6 L325.8,1123.9 L328.3,1122.2 L330.9,1120.6 L333.4,1119.0 L336.0,1117.5 L338.6,1116.0 L341.1,1114.5 L343.7,1113.1 L346.2,1111.7 L348.8,1110.4 L351.3,1109.1 L353.9,1107.8 L356.4,1106.5 L359.0,1105.3 L361.6,1104.2 L364.1,1103.0 L366.7,1101.9 L369.2,1100.8 L371.8,1099.8 L374.3,1098.8 L376.9,1097.8 L379.4,1096.8 L382.0,1095.9 L384.5,1095.0 L387.1,1094.1 L389.7,1093.2 L392.2,1092.4 L394.8,1091.6 L397.3,1090.8 L399.9,1090.1 L402.4,1089.4 L405.0,1088.7 L407.5,1088.0 L410.1,1087.3 L412.7,1086.7 L415.2,1086.1 L417.8,1085.5 L420.3,1084.9 L422.9,1084.4 L425.4,1083.8 L428.0,1083.3 L430.5,1082.8 L433.1,1082.4 L435.7,1081.9 L438.2,1081.5 L440.8,1081.0 L443.3,1080.6 L445.9,1080.3 L448.4,1079.9 L451.0,1079.6 L453.5,1079.2 L456.1,1078.9 L458.7,1078.6 L461.2,1078.3 L463.8,1078.1 L466.3,1077.8 L468.9,1077.6 L471.4,1077.4 L474.0,1077.1 L476.5,1076.9 L479.1,1076.8 L481.6,1076.6 L484.2,1076.4 L486.8,1076.3 L489.3,1076.2 L491.9,1076.1 L494.4,1076.0 L497.0,1075.9 L499.5,1075.8 L502.1,1075.7 L504.6,1075.7 L507.2,1075.6 L509.8,1075.6 L512.3,1075.6 L514.9,1075.6 L517.4,1075.6 L520.0,1075.6 L522.5,1075.6 L525.1,1075.6 L527.6,1075.7 L530.2,1075.7 L532.8,1075.8 L535.3,1075.9 L537.9,1075.9 L540.4,1076.0 L543.0,1076.1 L545.5,1076.2 L548.1,1076.3 L550.6,1076.5 L553.2,1076.6 L555.7,1076.7 L558.3,1076.9 L560.9,1077.0 L563.4,1077.2 L566.0,1077.4 L568.5,1077.5 L571.1,1077.7 L573.6,1077.9 L576.2,1078.1 L578.7,1078.3 L581.3,1078.5 L583.9,1078.8 L586.4,1079.0 L589.0,1079.2 L591.5,1079.5 L594.1,1079.7 L596.6,1080.0 L599.2,1080.2 L601.7,1080.5 L604.3,1080.8 L606.9,1081.0 L609.4,1081.3 L612.0,1081.6 L614.5,1081.9 L617.1,1082.2 L619.6,1082.5 L622.2,1082.8 L624.7,1083.1 L627.3,1083.4 L629.8,1083.8 L632.4,1084.1 L635.0,1084.4 L637.5,1084.8 L640.1,1085.1 L642.6,1085.4 L645.2,1085.8 L647.7,1086.1 L650.3,1086.5 L652.8,1086.9 L655.4,1087.2 L658.0,1087.6 L660.5,1088.0 L663.1,1088.4 L665.6,1088.7 L668.2,1089.1 L670.7,1089.5 L673.3,1089.9 L675.8,1090.3 L678.4,1090.7 L681.0,1091.1 L683.5,1091.5 L686.1,1091.9 L688.6,1092.3 L691.2,1092.7 L693.7,1093.2 L696.3,1093.6 L698.8,1094.0 L701.4,1094.4 L703.9,1094.9 L706.5,1095.3 L709.1,1095.7 L711.6,1096.2 L714.2,1096.6 L716.7,1097.1 L719.3,1097.5 L721.8,1097.9 L724.4,1098.4 L726.9,1098.8 L729.5,1099.3 L732.1,1099.8 L734.6,1100.2 L737.2,1100.7 L739.7,1101.1 L742.3,1101.6 L744.8,1102.1 L747.4,1102.5 L749.9,1103.0 L752.5,1103.5 L755.1,1104.0 L757.6,1104.4 L760.2,1104.9 L762.7,1105.4 L765.3,1105.9 L767.8,1106.4 L770.4,1106.8 L772.9,1107.3 L775.5,1107.8 L778.0,1108.3 L780.6,1108.8 L783.2,1109.3 L785.7,1109.8 L788.3,1110.3 L790.8,1110.8 L793.4,1111.3 L795.9,1111.7 L798.5,1112.2 L801.0,1112.7 L803.6,1113.2 L806.2,1113.7 L808.7,1114.2 L811.3,1114.8 L813.8,1115.3 L816.4,1115.8 L818.9,1116.3 L821.5,1116.8 L824.0,1117.3 L826.6,1117.8 L829.2,1118.3 L831.7,1118.8 L834.3,1119.3 L836.8,1119.8 L839.4,1120.3 L841.9,1120.9 L844.5,1121.4 L847.0,1121.9 L849.6,1122.4 L852.1,1122.9 L854.7,1123.4 L857.3,1123.9 L859.8,1124.5 L862.4,1125.0 L864.9,1125.5 L867.5,1126.0 L870.0,1126.5 L872.6,1127.1 L875.1,1127.6 L877.7,1128.1 L880.3,1128.6 L882.8,1129.1 L885.4,1129.6 L887.9,1130.2 L890.5,1130.7 L893.0,1131.2 L895.6,1131.7 L898.1,1132.3 L900.7,1132.8 L903.3,1133.3 L905.8,1133.8 L908.4,1134.3 L910.9,1134.9 L913.5,1135.4 L916.0,1135.9 L918.6,1136.4 L921.1,1136.9 L923.7,1137.5 L926.2,1138.0 L928.8,1138.5 L931.4,1139.0 L933.9,1139.6 L936.5,1140.1 L939.0,1140.6 L941.6,1141.1 L944.1,1141.6 L946.7,1142.2 L949.2,1142.7 L951.8,1143.2 L954.4,1143.7 L956.9,1144.2 L959.5,1144.8 L962.0,1145.3 L964.6,1145.8 L967.1,1146.3 L969.7,1146.8 L972.2,1147.4 L974.8,1147.9 L977.4,1148.4 L979.9,1148.9 L982.5,1149.4 L985.0,1150.0 L987.6,1150.5 L990.1,1151.0 L992.7,1151.5 L995.2,1152.0 L997.8,1152.5 L1000.4,1153.1 L1002.9,1153.6 L1005.5,1154.1 L1008.0,1154.6 L1010.6,1155.1 L1013.1,1155.6 L1015.7,1156.1 L1018.2,1156.7 L1020.8,1157.2 L1023.3,1157.7 L1025.9,1158.2 L1028.5,1158.7 L1031.0,1159.2 L1033.6,1159.7 L1036.1,1160.2 L1038.7,1160.7 L1041.2,1161.2 L1043.8,1161.8 L1046.3,1162.3 L1048.9,1162.8 L1051.5,1163.3 L1054.0,1163.8 L1056.6,1164.3 L1059.1,1164.8 L1061.7,1165.3 L1064.2,1165.8 L1066.8,1166.3 L1069.3,1166.8 L1071.9,1167.3 L1074.5,1167.8 L1077.0,1168.3 L1079.6,1168.8 L1082.1,1169.3 L1084.7,1169.8 L1087.2,1170.3 L1089.8,1170.8 L1092.3,1171.3 L1094.9,1171.8 L1097.4,1172.3 L1100.0,1172.8 L1102.6,1173.3 L1105.1,1173.8 L1107.7,1174.3 L1110.2,1174.8 L1112.8,1175.2 L1115.3,1175.7 L1117.9,1176.2 L1120.4,1176.7 L1123.0,1177.2 L1125.6,1177.7 L1128.1,1178.2 L1130.7,1178.7 L1133.2,1179.2 L1135.8,1179.6 L1138.3,1180.1 L1140.9,1180.6 L1143.4,1181.1 L1146.0,1181.6 L1148.6,1182.1 L1151.1,1182.5 L1153.7,1183.0 L1156.2,1183.5 L1158.8,1184.0 L1161.3,1184.5 L1163.9,1184.9 L1166.4,1185.4 L1169.0,1185.9 L1171.5,1186.4 L1174.1,1186.8 L1176.7,1187.3 L1179.2,1187.8 L1181.8,1188.3 L1184.3,1188.7 L1186.9,1189.2 L1189.4,1189.7 L1192.0,1190.1 L1194.5,1190.6 L1197.1,1191.1 L1199.7,1191.5 L1202.2,1192.0 L1204.8,1192.5 L1207.3,1192.9 L1209.9,1193.4 L1212.4,1193.9 L1215.0,1194.3 L1217.5,1194.8 L1220.1,1195.3 L1222.7,1195.7 L1225.2,1196.2 L1227.8,1196.6 L1230.3,1197.1 L1232.9,1197.6 L1235.4,1198.0 L1238.0,1198.5 L1240.5,1198.9 L1243.1,1199.4 L1245.6,1199.8 L1248.2,1200.3 L1250.8,1200.7 L1253.3,1201.2 L1255.9,1201.6 L1258.4,1202.1 L1261.0,1202.5 L1263.5,1203.0 L1266.1,1203.4 L1268.6,1203.9 L1271.2,1204.3" fill="none" stroke="#000" stroke-width="6" stroke-dasharray="17 21.5"/>
<text x="206.7" y="81.5" class="pl">(a)</text>
<text x="206" y="1028.5" class="pl">(b)</text>
<text x="662" y="874" class="ax">t / t<tspan class="sub" dy="9">max</tspan></text>
<text x="569" y="1790.8" class="ax">t / t<tspan class="sub" dy="9">max</tspan></text>
<text transform="translate(31,445.5) rotate(-90)" class="ax">i / i<tspan class="sub" dy="9">max</tspan></text>
<text transform="translate(34,1411) rotate(-90)" class="ax">i / i<tspan class="sub" dy="9">max</tspan></text>
<path d="M540.2,510.0L553.2,523.0M540.2,523.0L553.2,510.0" stroke="#000" stroke-width="2.6"/>
<text x="589" y="529" class="lg">-0.675 V</text>
<polygon points="930.7,507.7 923.2,523.7 938.2,523.7" fill="#000"/>
<text x="973.5" y="529.8" class="lg">-0.7 V</text>
<polygon points="546.7,582.2 540.7,595.2 552.7,595.2" fill="none" stroke="#000" stroke-width="2.6" stroke-linejoin="miter"/>
<text x="589" y="601" class="lg">-0.725 V</text>
<rect x="922.2" y="580.2" width="15.5" height="15.5" fill="#000"/>
<text x="973.5" y="601.3" class="lg">-0.75 V</text>
<line x1="510" y1="657.3" x2="582" y2="657.3" stroke="#000" stroke-width="6"/>
<text x="590.5" y="669.5" class="lg lg2">progressive</text>
<line x1="897" y1="656.8" x2="943.5" y2="656.8" stroke="#000" stroke-width="7" stroke-dasharray="12.5 21"/>
<text x="973.5" y="670" class="lg lg2">instantaneous</text>
<path d="M333.0,1430.4L346.0,1443.4M333.0,1443.4L346.0,1430.4" stroke="#000" stroke-width="2.6"/>
<text x="381" y="1449.5" class="lg lgb">-0.7 V</text>
<polygon points="682.0,1427.4 674.5,1443.4 689.5,1443.4" fill="#000"/>
<text x="725.5" y="1449.5" class="lg lgb">-0.725 V</text>
<polygon points="339.5,1489.5 333.5,1502.5 345.5,1502.5" fill="none" stroke="#000" stroke-width="2.6" stroke-linejoin="miter"/>
<text x="381" y="1509.1" class="lg lgb">-0.75 V</text>
<rect x="674.8" y="1489.5" width="14.5" height="14.5" fill="#000"/>
<text x="725.5" y="1509.1" class="lg lgb">-0.775 V</text>
<rect x="333.6" y="1548.5" width="11.8" height="11.8" fill="none" stroke="#000" stroke-width="2.2"/>
<text x="381" y="1567.9" class="lg lgb">-0.8 V</text>
<line x1="650" y1="1553.8" x2="717" y2="1553.8" stroke="#000" stroke-width="5.5"/>
<text x="725.5" y="1566.5" class="lg lg2 lgb">progressive</text>
<line x1="305" y1="1614" x2="351" y2="1614" stroke="#000" stroke-width="7" stroke-dasharray="13.5 19"/>
<text x="383" y="1626.6" class="lg lg2 lgb">instantaneous</text>
</g>
</svg>
</body></html>
